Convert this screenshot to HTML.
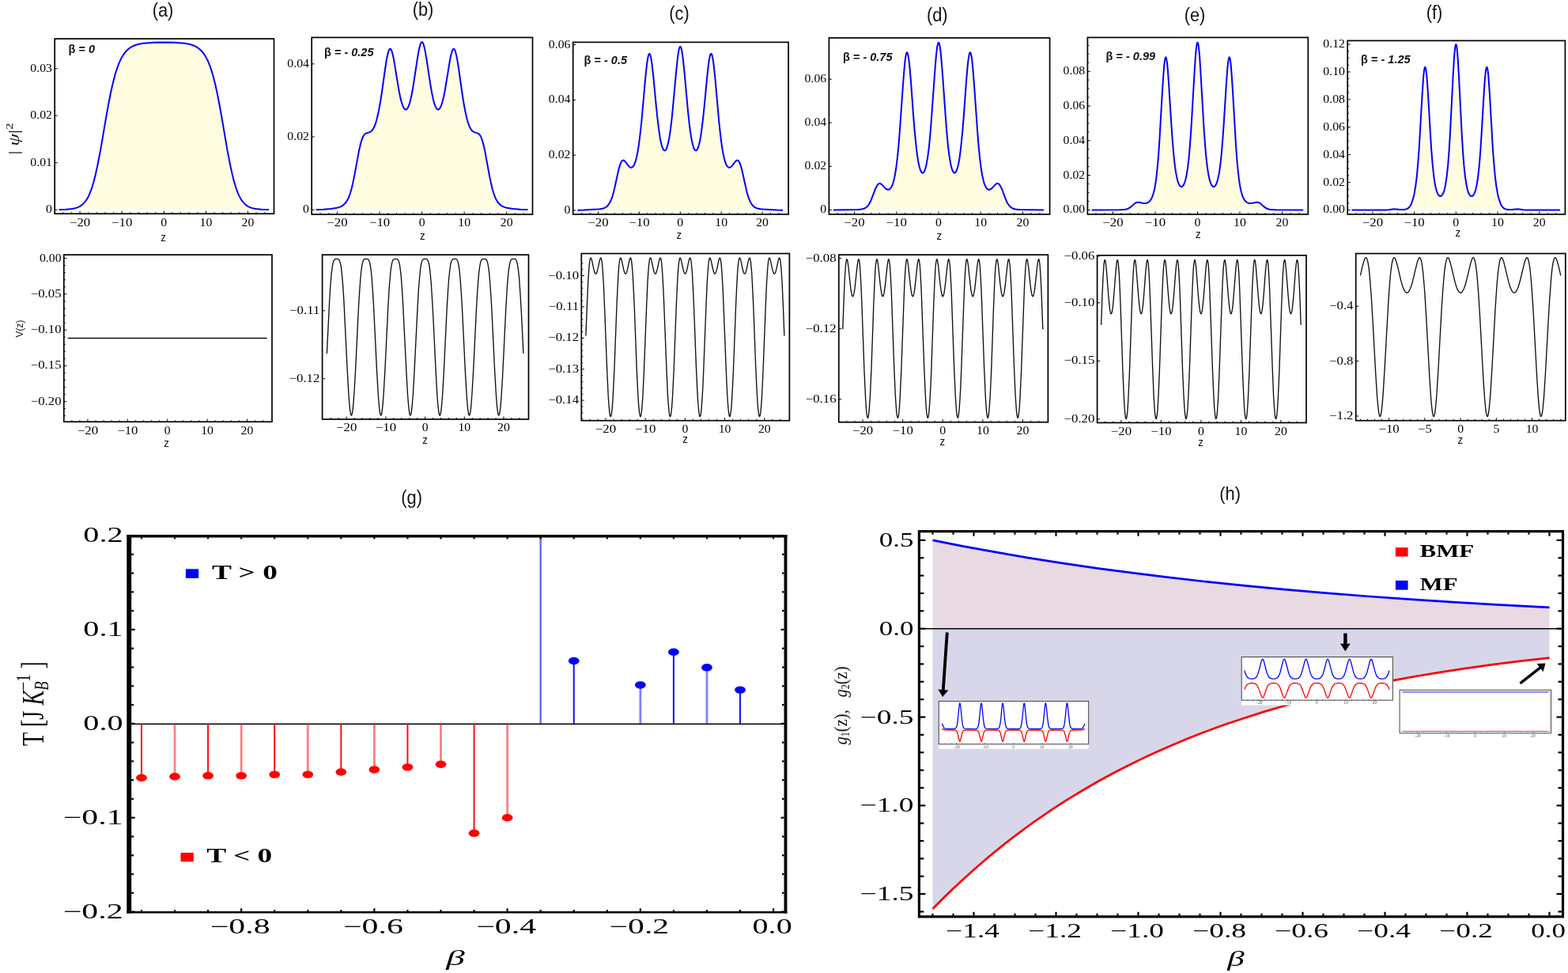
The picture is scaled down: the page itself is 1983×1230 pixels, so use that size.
<!DOCTYPE html>
<html><head><meta charset="utf-8"><title>Figure</title>
<style>html,body{margin:0;padding:0;background:#fff;overflow:hidden;width:1983px;height:1230px;}svg{display:block;}</style></head>
<body><svg width="1983" height="1230" viewBox="0 0 1983 1230">
<rect width="1983" height="1230" fill="#fff"/>
<path d="M74.6 265.1 L84.1 264.7 L90.9 264.1 L93.7 263.5 L96.2 262.9 L98.4 262.1 L100.6 261.1 L102.6 259.8 L104.4 258.4 L106.1 256.7 L107.9 254.7 L109.5 252.4 L110.9 249.9 L112.4 247.1 L113.8 243.8 L116.2 237.3 L118.5 229.9 L120.7 221.1 L123.1 210.3 L127.3 188.7 L134.3 147.7 L137.1 132.2 L140.0 117.3 L142.7 105.4 L145.7 93.8 L148.8 84.4 L150.4 80.2 L151.9 76.6 L153.7 73.1 L155.4 70.2 L157.1 67.6 L158.8 65.5 L160.7 63.5 L162.7 61.7 L164.8 60.1 L167.1 58.8 L169.5 57.7 L172.1 56.7 L174.8 55.9 L177.8 55.3 L181.1 54.8 L185.0 54.4 L194.2 53.8 L207.3 53.6 L220.4 53.8 L229.6 54.4 L233.5 54.8 L236.8 55.3 L239.8 55.9 L242.5 56.7 L245.1 57.7 L247.5 58.8 L249.8 60.1 L251.9 61.7 L253.9 63.5 L255.8 65.5 L257.5 67.6 L259.2 70.2 L260.9 73.1 L262.7 76.6 L264.2 80.2 L265.8 84.4 L268.9 93.8 L271.9 105.4 L274.6 117.3 L277.5 132.2 L280.3 147.7 L287.3 188.7 L291.5 210.3 L293.9 221.1 L296.1 229.9 L298.4 237.3 L300.8 243.8 L302.2 247.1 L303.7 249.9 L305.1 252.4 L306.7 254.7 L308.5 256.7 L310.2 258.4 L312.0 259.8 L314.0 261.1 L316.2 262.1 L318.4 262.9 L320.9 263.5 L323.7 264.1 L330.5 264.7 L340.1 265.1 L340.05 265.20 L74.55 265.20 Z" fill="#fffde0" stroke="none"/>
<path d="M74.6 265.1 L84.1 264.7 L90.9 264.1 L93.7 263.5 L96.2 262.9 L98.4 262.1 L100.6 261.1 L102.6 259.8 L104.4 258.4 L106.1 256.7 L107.9 254.7 L109.5 252.4 L110.9 249.9 L112.4 247.1 L113.8 243.8 L116.2 237.3 L118.5 229.9 L120.7 221.1 L123.1 210.3 L127.3 188.7 L134.3 147.7 L137.1 132.2 L140.0 117.3 L142.7 105.4 L145.7 93.8 L148.8 84.4 L150.4 80.2 L151.9 76.6 L153.7 73.1 L155.4 70.2 L157.1 67.6 L158.8 65.5 L160.7 63.5 L162.7 61.7 L164.8 60.1 L167.1 58.8 L169.5 57.7 L172.1 56.7 L174.8 55.9 L177.8 55.3 L181.1 54.8 L185.0 54.4 L194.2 53.8 L207.3 53.6 L220.4 53.8 L229.6 54.4 L233.5 54.8 L236.8 55.3 L239.8 55.9 L242.5 56.7 L245.1 57.7 L247.5 58.8 L249.8 60.1 L251.9 61.7 L253.9 63.5 L255.8 65.5 L257.5 67.6 L259.2 70.2 L260.9 73.1 L262.7 76.6 L264.2 80.2 L265.8 84.4 L268.9 93.8 L271.9 105.4 L274.6 117.3 L277.5 132.2 L280.3 147.7 L287.3 188.7 L291.5 210.3 L293.9 221.1 L296.1 229.9 L298.4 237.3 L300.8 243.8 L302.2 247.1 L303.7 249.9 L305.1 252.4 L306.7 254.7 L308.5 256.7 L310.2 258.4 L312.0 259.8 L314.0 261.1 L316.2 262.1 L318.4 262.9 L320.9 263.5 L323.7 264.1 L330.5 264.7 L340.1 265.1" fill="none" stroke="#0000ff" stroke-width="2.0" stroke-linejoin="round"/>
<rect x="69.20" y="49.00" width="277.30" height="221.20" fill="none" stroke="#000" stroke-width="1.70"/>
<line x1="79.86" y1="270.20" x2="79.86" y2="268.20" stroke="#000" stroke-width="1.00"/>
<line x1="90.48" y1="270.20" x2="90.48" y2="268.20" stroke="#000" stroke-width="1.00"/>
<line x1="101.10" y1="270.20" x2="101.10" y2="266.70" stroke="#000" stroke-width="1.00"/>
<text transform="translate(101.10 285.50) scale(1.130 1)" font-family="'Liberation Serif','Times New Roman',serif" font-size="14.90" text-anchor="middle" font-weight="normal" font-style="normal" fill="#000">−20</text>
<line x1="111.72" y1="270.20" x2="111.72" y2="268.20" stroke="#000" stroke-width="1.00"/>
<line x1="122.34" y1="270.20" x2="122.34" y2="268.20" stroke="#000" stroke-width="1.00"/>
<line x1="132.96" y1="270.20" x2="132.96" y2="268.20" stroke="#000" stroke-width="1.00"/>
<line x1="143.58" y1="270.20" x2="143.58" y2="268.20" stroke="#000" stroke-width="1.00"/>
<line x1="154.20" y1="270.20" x2="154.20" y2="266.70" stroke="#000" stroke-width="1.00"/>
<text transform="translate(154.20 285.50) scale(1.130 1)" font-family="'Liberation Serif','Times New Roman',serif" font-size="14.90" text-anchor="middle" font-weight="normal" font-style="normal" fill="#000">−10</text>
<line x1="164.82" y1="270.20" x2="164.82" y2="268.20" stroke="#000" stroke-width="1.00"/>
<line x1="175.44" y1="270.20" x2="175.44" y2="268.20" stroke="#000" stroke-width="1.00"/>
<line x1="186.06" y1="270.20" x2="186.06" y2="268.20" stroke="#000" stroke-width="1.00"/>
<line x1="196.68" y1="270.20" x2="196.68" y2="268.20" stroke="#000" stroke-width="1.00"/>
<line x1="207.30" y1="270.20" x2="207.30" y2="266.70" stroke="#000" stroke-width="1.00"/>
<text transform="translate(207.30 285.50) scale(1.060 1)" font-family="'Liberation Serif','Times New Roman',serif" font-size="14.90" text-anchor="middle" font-weight="normal" font-style="normal" fill="#000">0</text>
<line x1="217.92" y1="270.20" x2="217.92" y2="268.20" stroke="#000" stroke-width="1.00"/>
<line x1="228.54" y1="270.20" x2="228.54" y2="268.20" stroke="#000" stroke-width="1.00"/>
<line x1="239.16" y1="270.20" x2="239.16" y2="268.20" stroke="#000" stroke-width="1.00"/>
<line x1="249.78" y1="270.20" x2="249.78" y2="268.20" stroke="#000" stroke-width="1.00"/>
<line x1="260.40" y1="270.20" x2="260.40" y2="266.70" stroke="#000" stroke-width="1.00"/>
<text transform="translate(260.40 285.50) scale(1.060 1)" font-family="'Liberation Serif','Times New Roman',serif" font-size="14.90" text-anchor="middle" font-weight="normal" font-style="normal" fill="#000">10</text>
<line x1="271.02" y1="270.20" x2="271.02" y2="268.20" stroke="#000" stroke-width="1.00"/>
<line x1="281.64" y1="270.20" x2="281.64" y2="268.20" stroke="#000" stroke-width="1.00"/>
<line x1="292.26" y1="270.20" x2="292.26" y2="268.20" stroke="#000" stroke-width="1.00"/>
<line x1="302.88" y1="270.20" x2="302.88" y2="268.20" stroke="#000" stroke-width="1.00"/>
<line x1="313.50" y1="270.20" x2="313.50" y2="266.70" stroke="#000" stroke-width="1.00"/>
<text transform="translate(313.50 285.50) scale(1.060 1)" font-family="'Liberation Serif','Times New Roman',serif" font-size="14.90" text-anchor="middle" font-weight="normal" font-style="normal" fill="#000">20</text>
<line x1="324.12" y1="270.20" x2="324.12" y2="268.20" stroke="#000" stroke-width="1.00"/>
<line x1="334.74" y1="270.20" x2="334.74" y2="268.20" stroke="#000" stroke-width="1.00"/>
<line x1="69.20" y1="265.20" x2="72.70" y2="265.20" stroke="#000" stroke-width="1.00"/>
<text transform="translate(66.00 269.20) scale(1.060 1)" font-family="'Liberation Serif','Times New Roman',serif" font-size="14.90" text-anchor="end" font-weight="normal" font-style="normal" fill="#000">0</text>
<line x1="69.20" y1="205.70" x2="72.70" y2="205.70" stroke="#000" stroke-width="1.00"/>
<text transform="translate(66.00 209.70) scale(1.060 1)" font-family="'Liberation Serif','Times New Roman',serif" font-size="14.90" text-anchor="end" font-weight="normal" font-style="normal" fill="#000">0.01</text>
<line x1="69.20" y1="146.20" x2="72.70" y2="146.20" stroke="#000" stroke-width="1.00"/>
<text transform="translate(66.00 150.20) scale(1.060 1)" font-family="'Liberation Serif','Times New Roman',serif" font-size="14.90" text-anchor="end" font-weight="normal" font-style="normal" fill="#000">0.02</text>
<line x1="69.20" y1="86.70" x2="72.70" y2="86.70" stroke="#000" stroke-width="1.00"/>
<text transform="translate(66.00 90.70) scale(1.060 1)" font-family="'Liberation Serif','Times New Roman',serif" font-size="14.90" text-anchor="end" font-weight="normal" font-style="normal" fill="#000">0.03</text>
<text transform="translate(206.60 305.10) scale(0.950 1)" font-family="'Liberation Sans',Arial,sans-serif" font-size="14.00" text-anchor="middle" font-weight="normal" font-style="normal" fill="#111">z</text>
<text x="86.50" y="67.30" font-family="'Liberation Sans',Arial,sans-serif" font-size="14.5" font-weight="bold" fill="#111">&#946; = <tspan font-style="italic">0</tspan></text>
<text transform="translate(206.00 20.50) scale(0.910 1)" font-family="'Liberation Sans',Arial,sans-serif" font-size="24.00" text-anchor="middle" font-weight="normal" font-style="normal" fill="#111">(a)</text>
<path d="M399.7 265.1 L409.0 264.8 L418.2 264.0 L424.6 263.1 L427.0 262.5 L429.2 261.9 L431.1 261.1 L432.8 260.1 L434.3 259.1 L435.7 257.8 L437.1 256.3 L438.3 254.6 L439.5 252.6 L440.6 250.4 L441.9 247.2 L443.2 243.2 L444.6 238.5 L445.8 233.6 L448.2 222.1 L454.1 190.1 L456.0 181.9 L457.7 176.2 L458.5 174.1 L459.4 172.2 L460.4 170.7 L461.4 169.5 L462.4 168.8 L463.3 168.4 L466.8 167.4 L468.3 166.7 L469.7 165.7 L471.1 164.2 L472.6 161.8 L473.9 158.9 L475.2 155.3 L476.4 151.2 L478.7 141.5 L481.0 129.0 L483.0 116.0 L487.3 85.5 L489.0 74.8 L490.0 70.0 L490.8 66.7 L491.6 64.2 L492.4 62.5 L492.9 61.9 L493.4 61.8 L494.0 62.0 L494.5 62.6 L495.6 65.0 L496.8 69.4 L497.9 74.5 L498.9 80.4 L504.4 113.8 L506.0 121.9 L507.6 128.5 L509.1 133.1 L510.6 136.3 L511.4 137.5 L512.0 138.1 L512.8 138.5 L513.5 138.4 L514.3 138.0 L515.1 137.2 L515.9 135.9 L516.6 134.5 L518.1 130.4 L519.5 124.8 L521.0 117.8 L522.6 108.8 L527.7 75.1 L529.6 64.2 L530.7 59.3 L531.7 55.7 L532.7 53.8 L533.2 53.3 L533.6 53.2 L534.0 53.3 L534.5 53.8 L535.5 55.7 L536.5 59.3 L537.6 64.2 L539.5 75.1 L544.6 108.8 L546.2 117.8 L547.7 124.8 L549.1 130.4 L550.6 134.5 L551.3 135.9 L552.1 137.2 L552.9 138.0 L553.7 138.4 L554.4 138.5 L555.2 138.1 L555.8 137.5 L556.6 136.3 L558.1 133.1 L559.6 128.5 L561.2 121.9 L562.8 113.8 L568.3 80.4 L569.3 74.5 L570.4 69.4 L571.6 65.0 L572.7 62.6 L573.2 62.0 L573.8 61.8 L574.3 61.9 L574.8 62.5 L575.6 64.2 L576.4 66.7 L577.2 70.0 L578.2 74.8 L579.9 85.5 L584.2 116.0 L586.2 129.0 L588.5 141.5 L590.8 151.2 L592.0 155.3 L593.3 158.9 L594.6 161.8 L596.1 164.2 L597.5 165.7 L598.9 166.7 L600.4 167.4 L603.9 168.4 L604.8 168.8 L605.8 169.5 L606.8 170.7 L607.8 172.2 L608.7 174.1 L609.5 176.2 L611.2 181.9 L613.1 190.1 L619.0 222.1 L621.4 233.6 L622.6 238.5 L624.0 243.2 L625.3 247.2 L626.6 250.4 L627.7 252.6 L628.9 254.6 L630.1 256.3 L631.5 257.8 L632.9 259.1 L634.4 260.1 L636.1 261.1 L638.0 261.9 L640.2 262.5 L642.6 263.1 L649.0 264.0 L658.2 264.8 L667.5 265.1 L667.48 265.20 L399.73 265.20 Z" fill="#fffde0" stroke="none"/>
<path d="M399.7 265.1 L409.0 264.8 L418.2 264.0 L424.6 263.1 L427.0 262.5 L429.2 261.9 L431.1 261.1 L432.8 260.1 L434.3 259.1 L435.7 257.8 L437.1 256.3 L438.3 254.6 L439.5 252.6 L440.6 250.4 L441.9 247.2 L443.2 243.2 L444.6 238.5 L445.8 233.6 L448.2 222.1 L454.1 190.1 L456.0 181.9 L457.7 176.2 L458.5 174.1 L459.4 172.2 L460.4 170.7 L461.4 169.5 L462.4 168.8 L463.3 168.4 L466.8 167.4 L468.3 166.7 L469.7 165.7 L471.1 164.2 L472.6 161.8 L473.9 158.9 L475.2 155.3 L476.4 151.2 L478.7 141.5 L481.0 129.0 L483.0 116.0 L487.3 85.5 L489.0 74.8 L490.0 70.0 L490.8 66.7 L491.6 64.2 L492.4 62.5 L492.9 61.9 L493.4 61.8 L494.0 62.0 L494.5 62.6 L495.6 65.0 L496.8 69.4 L497.9 74.5 L498.9 80.4 L504.4 113.8 L506.0 121.9 L507.6 128.5 L509.1 133.1 L510.6 136.3 L511.4 137.5 L512.0 138.1 L512.8 138.5 L513.5 138.4 L514.3 138.0 L515.1 137.2 L515.9 135.9 L516.6 134.5 L518.1 130.4 L519.5 124.8 L521.0 117.8 L522.6 108.8 L527.7 75.1 L529.6 64.2 L530.7 59.3 L531.7 55.7 L532.7 53.8 L533.2 53.3 L533.6 53.2 L534.0 53.3 L534.5 53.8 L535.5 55.7 L536.5 59.3 L537.6 64.2 L539.5 75.1 L544.6 108.8 L546.2 117.8 L547.7 124.8 L549.1 130.4 L550.6 134.5 L551.3 135.9 L552.1 137.2 L552.9 138.0 L553.7 138.4 L554.4 138.5 L555.2 138.1 L555.8 137.5 L556.6 136.3 L558.1 133.1 L559.6 128.5 L561.2 121.9 L562.8 113.8 L568.3 80.4 L569.3 74.5 L570.4 69.4 L571.6 65.0 L572.7 62.6 L573.2 62.0 L573.8 61.8 L574.3 61.9 L574.8 62.5 L575.6 64.2 L576.4 66.7 L577.2 70.0 L578.2 74.8 L579.9 85.5 L584.2 116.0 L586.2 129.0 L588.5 141.5 L590.8 151.2 L592.0 155.3 L593.3 158.9 L594.6 161.8 L596.1 164.2 L597.5 165.7 L598.9 166.7 L600.4 167.4 L603.9 168.4 L604.8 168.8 L605.8 169.5 L606.8 170.7 L607.8 172.2 L608.7 174.1 L609.5 176.2 L611.2 181.9 L613.1 190.1 L619.0 222.1 L621.4 233.6 L622.6 238.5 L624.0 243.2 L625.3 247.2 L626.6 250.4 L627.7 252.6 L628.9 254.6 L630.1 256.3 L631.5 257.8 L632.9 259.1 L634.4 260.1 L636.1 261.1 L638.0 261.9 L640.2 262.5 L642.6 263.1 L649.0 264.0 L658.2 264.8 L667.5 265.1" fill="none" stroke="#0000ff" stroke-width="2.0" stroke-linejoin="round"/>
<rect x="394.20" y="47.40" width="279.30" height="223.60" fill="none" stroke="#000" stroke-width="1.70"/>
<line x1="405.08" y1="271.00" x2="405.08" y2="269.00" stroke="#000" stroke-width="1.00"/>
<line x1="415.79" y1="271.00" x2="415.79" y2="269.00" stroke="#000" stroke-width="1.00"/>
<line x1="426.50" y1="271.00" x2="426.50" y2="267.50" stroke="#000" stroke-width="1.00"/>
<text transform="translate(426.50 286.30) scale(1.130 1)" font-family="'Liberation Serif','Times New Roman',serif" font-size="14.90" text-anchor="middle" font-weight="normal" font-style="normal" fill="#000">−20</text>
<line x1="437.21" y1="271.00" x2="437.21" y2="269.00" stroke="#000" stroke-width="1.00"/>
<line x1="447.92" y1="271.00" x2="447.92" y2="269.00" stroke="#000" stroke-width="1.00"/>
<line x1="458.63" y1="271.00" x2="458.63" y2="269.00" stroke="#000" stroke-width="1.00"/>
<line x1="469.34" y1="271.00" x2="469.34" y2="269.00" stroke="#000" stroke-width="1.00"/>
<line x1="480.05" y1="271.00" x2="480.05" y2="267.50" stroke="#000" stroke-width="1.00"/>
<text transform="translate(480.05 286.30) scale(1.130 1)" font-family="'Liberation Serif','Times New Roman',serif" font-size="14.90" text-anchor="middle" font-weight="normal" font-style="normal" fill="#000">−10</text>
<line x1="490.76" y1="271.00" x2="490.76" y2="269.00" stroke="#000" stroke-width="1.00"/>
<line x1="501.47" y1="271.00" x2="501.47" y2="269.00" stroke="#000" stroke-width="1.00"/>
<line x1="512.18" y1="271.00" x2="512.18" y2="269.00" stroke="#000" stroke-width="1.00"/>
<line x1="522.89" y1="271.00" x2="522.89" y2="269.00" stroke="#000" stroke-width="1.00"/>
<line x1="533.60" y1="271.00" x2="533.60" y2="267.50" stroke="#000" stroke-width="1.00"/>
<text transform="translate(533.60 286.30) scale(1.060 1)" font-family="'Liberation Serif','Times New Roman',serif" font-size="14.90" text-anchor="middle" font-weight="normal" font-style="normal" fill="#000">0</text>
<line x1="544.31" y1="271.00" x2="544.31" y2="269.00" stroke="#000" stroke-width="1.00"/>
<line x1="555.02" y1="271.00" x2="555.02" y2="269.00" stroke="#000" stroke-width="1.00"/>
<line x1="565.73" y1="271.00" x2="565.73" y2="269.00" stroke="#000" stroke-width="1.00"/>
<line x1="576.44" y1="271.00" x2="576.44" y2="269.00" stroke="#000" stroke-width="1.00"/>
<line x1="587.15" y1="271.00" x2="587.15" y2="267.50" stroke="#000" stroke-width="1.00"/>
<text transform="translate(587.15 286.30) scale(1.060 1)" font-family="'Liberation Serif','Times New Roman',serif" font-size="14.90" text-anchor="middle" font-weight="normal" font-style="normal" fill="#000">10</text>
<line x1="597.86" y1="271.00" x2="597.86" y2="269.00" stroke="#000" stroke-width="1.00"/>
<line x1="608.57" y1="271.00" x2="608.57" y2="269.00" stroke="#000" stroke-width="1.00"/>
<line x1="619.28" y1="271.00" x2="619.28" y2="269.00" stroke="#000" stroke-width="1.00"/>
<line x1="629.99" y1="271.00" x2="629.99" y2="269.00" stroke="#000" stroke-width="1.00"/>
<line x1="640.70" y1="271.00" x2="640.70" y2="267.50" stroke="#000" stroke-width="1.00"/>
<text transform="translate(640.70 286.30) scale(1.060 1)" font-family="'Liberation Serif','Times New Roman',serif" font-size="14.90" text-anchor="middle" font-weight="normal" font-style="normal" fill="#000">20</text>
<line x1="651.41" y1="271.00" x2="651.41" y2="269.00" stroke="#000" stroke-width="1.00"/>
<line x1="662.12" y1="271.00" x2="662.12" y2="269.00" stroke="#000" stroke-width="1.00"/>
<line x1="394.20" y1="265.20" x2="397.70" y2="265.20" stroke="#000" stroke-width="1.00"/>
<text transform="translate(391.00 269.20) scale(1.060 1)" font-family="'Liberation Serif','Times New Roman',serif" font-size="14.90" text-anchor="end" font-weight="normal" font-style="normal" fill="#000">0</text>
<line x1="394.20" y1="173.00" x2="397.70" y2="173.00" stroke="#000" stroke-width="1.00"/>
<text transform="translate(391.00 177.00) scale(1.060 1)" font-family="'Liberation Serif','Times New Roman',serif" font-size="14.90" text-anchor="end" font-weight="normal" font-style="normal" fill="#000">0.02</text>
<line x1="394.20" y1="80.80" x2="397.70" y2="80.80" stroke="#000" stroke-width="1.00"/>
<text transform="translate(391.00 84.80) scale(1.060 1)" font-family="'Liberation Serif','Times New Roman',serif" font-size="14.90" text-anchor="end" font-weight="normal" font-style="normal" fill="#000">0.04</text>
<text transform="translate(534.40 302.70) scale(0.950 1)" font-family="'Liberation Sans',Arial,sans-serif" font-size="14.00" text-anchor="middle" font-weight="normal" font-style="normal" fill="#111">z</text>
<text x="410.00" y="71.20" font-family="'Liberation Sans',Arial,sans-serif" font-size="14.5" font-weight="bold" fill="#111">&#946; = <tspan font-style="italic">- 0.25</tspan></text>
<text transform="translate(535.00 20.00) scale(0.910 1)" font-family="'Liberation Sans',Arial,sans-serif" font-size="24.00" text-anchor="middle" font-weight="normal" font-style="normal" fill="#111">(b)</text>
<path d="M730.5 265.8 L738.2 265.6 L755.3 264.6 L758.8 264.3 L761.4 263.8 L763.6 263.2 L765.6 262.3 L767.3 261.2 L769.2 259.2 L771.0 256.5 L772.7 253.0 L774.3 248.8 L775.6 244.4 L777.0 238.8 L781.3 219.2 L782.7 213.2 L784.4 207.6 L785.2 205.7 L786.0 204.2 L786.7 203.3 L787.5 202.7 L788.4 202.6 L789.3 203.0 L790.1 203.6 L791.0 204.6 L794.0 208.6 L795.3 210.2 L796.6 211.3 L797.8 211.8 L798.9 211.7 L800.1 211.0 L801.3 209.6 L802.3 207.7 L803.9 203.4 L805.4 197.2 L807.0 188.9 L808.4 179.3 L809.8 167.7 L811.3 154.0 L815.9 101.8 L817.5 86.2 L818.4 78.8 L819.3 73.2 L820.2 69.5 L820.6 68.6 L821.0 68.0 L821.4 67.9 L821.9 68.4 L822.3 69.2 L822.8 70.9 L823.7 75.4 L824.6 81.7 L826.3 96.9 L829.8 133.7 L831.4 148.9 L833.1 162.9 L834.7 174.1 L835.6 178.8 L836.6 182.7 L837.5 185.8 L838.5 188.4 L839.4 189.7 L840.3 190.3 L840.8 190.3 L841.4 190.1 L842.3 189.1 L843.0 187.5 L843.7 185.8 L845.0 181.1 L846.4 173.9 L847.7 165.5 L849.0 155.2 L850.4 142.0 L855.1 90.8 L856.8 74.6 L857.7 67.8 L858.6 62.7 L859.5 59.7 L859.9 59.1 L860.3 58.9 L860.7 59.1 L861.1 59.7 L862.0 62.7 L862.9 67.8 L863.8 74.6 L865.5 90.8 L870.2 142.0 L871.6 155.2 L872.9 165.5 L874.2 173.9 L875.6 181.1 L876.9 185.8 L877.6 187.5 L878.3 189.1 L879.2 190.1 L879.8 190.3 L880.3 190.3 L881.2 189.7 L882.1 188.4 L883.1 185.8 L884.0 182.7 L885.0 178.8 L885.9 174.1 L887.5 162.9 L889.2 148.9 L890.8 133.7 L894.3 96.9 L896.0 81.7 L896.9 75.4 L897.8 70.9 L898.3 69.2 L898.7 68.4 L899.2 67.9 L899.6 68.0 L900.0 68.6 L900.4 69.5 L901.3 73.2 L902.2 78.8 L903.1 86.2 L904.7 101.8 L909.3 154.0 L910.8 167.7 L912.2 179.3 L913.6 188.9 L915.2 197.2 L916.7 203.4 L918.3 207.7 L919.3 209.6 L920.5 211.0 L921.7 211.7 L922.8 211.8 L924.0 211.3 L925.3 210.2 L926.6 208.6 L929.6 204.6 L930.5 203.6 L931.3 203.0 L932.2 202.6 L933.1 202.7 L933.9 203.3 L934.6 204.2 L935.4 205.7 L936.2 207.6 L937.9 213.2 L939.3 219.2 L943.6 238.8 L945.0 244.4 L946.3 248.8 L947.9 253.0 L949.6 256.5 L951.4 259.2 L953.3 261.2 L955.0 262.3 L957.0 263.2 L959.2 263.8 L961.8 264.3 L965.3 264.6 L982.4 265.6 L990.0 265.8 L990.05 265.90 L730.55 265.90 Z" fill="#fffde0" stroke="none"/>
<path d="M730.5 265.8 L738.2 265.6 L755.3 264.6 L758.8 264.3 L761.4 263.8 L763.6 263.2 L765.6 262.3 L767.3 261.2 L769.2 259.2 L771.0 256.5 L772.7 253.0 L774.3 248.8 L775.6 244.4 L777.0 238.8 L781.3 219.2 L782.7 213.2 L784.4 207.6 L785.2 205.7 L786.0 204.2 L786.7 203.3 L787.5 202.7 L788.4 202.6 L789.3 203.0 L790.1 203.6 L791.0 204.6 L794.0 208.6 L795.3 210.2 L796.6 211.3 L797.8 211.8 L798.9 211.7 L800.1 211.0 L801.3 209.6 L802.3 207.7 L803.9 203.4 L805.4 197.2 L807.0 188.9 L808.4 179.3 L809.8 167.7 L811.3 154.0 L815.9 101.8 L817.5 86.2 L818.4 78.8 L819.3 73.2 L820.2 69.5 L820.6 68.6 L821.0 68.0 L821.4 67.9 L821.9 68.4 L822.3 69.2 L822.8 70.9 L823.7 75.4 L824.6 81.7 L826.3 96.9 L829.8 133.7 L831.4 148.9 L833.1 162.9 L834.7 174.1 L835.6 178.8 L836.6 182.7 L837.5 185.8 L838.5 188.4 L839.4 189.7 L840.3 190.3 L840.8 190.3 L841.4 190.1 L842.3 189.1 L843.0 187.5 L843.7 185.8 L845.0 181.1 L846.4 173.9 L847.7 165.5 L849.0 155.2 L850.4 142.0 L855.1 90.8 L856.8 74.6 L857.7 67.8 L858.6 62.7 L859.5 59.7 L859.9 59.1 L860.3 58.9 L860.7 59.1 L861.1 59.7 L862.0 62.7 L862.9 67.8 L863.8 74.6 L865.5 90.8 L870.2 142.0 L871.6 155.2 L872.9 165.5 L874.2 173.9 L875.6 181.1 L876.9 185.8 L877.6 187.5 L878.3 189.1 L879.2 190.1 L879.8 190.3 L880.3 190.3 L881.2 189.7 L882.1 188.4 L883.1 185.8 L884.0 182.7 L885.0 178.8 L885.9 174.1 L887.5 162.9 L889.2 148.9 L890.8 133.7 L894.3 96.9 L896.0 81.7 L896.9 75.4 L897.8 70.9 L898.3 69.2 L898.7 68.4 L899.2 67.9 L899.6 68.0 L900.0 68.6 L900.4 69.5 L901.3 73.2 L902.2 78.8 L903.1 86.2 L904.7 101.8 L909.3 154.0 L910.8 167.7 L912.2 179.3 L913.6 188.9 L915.2 197.2 L916.7 203.4 L918.3 207.7 L919.3 209.6 L920.5 211.0 L921.7 211.7 L922.8 211.8 L924.0 211.3 L925.3 210.2 L926.6 208.6 L929.6 204.6 L930.5 203.6 L931.3 203.0 L932.2 202.6 L933.1 202.7 L933.9 203.3 L934.6 204.2 L935.4 205.7 L936.2 207.6 L937.9 213.2 L939.3 219.2 L943.6 238.8 L945.0 244.4 L946.3 248.8 L947.9 253.0 L949.6 256.5 L951.4 259.2 L953.3 261.2 L955.0 262.3 L957.0 263.2 L959.2 263.8 L961.8 264.3 L965.3 264.6 L982.4 265.6 L990.0 265.8" fill="none" stroke="#0000ff" stroke-width="2.0" stroke-linejoin="round"/>
<rect x="724.70" y="53.40" width="272.40" height="217.50" fill="none" stroke="#000" stroke-width="1.70"/>
<line x1="735.74" y1="270.90" x2="735.74" y2="268.90" stroke="#000" stroke-width="1.00"/>
<line x1="746.12" y1="270.90" x2="746.12" y2="268.90" stroke="#000" stroke-width="1.00"/>
<line x1="756.50" y1="270.90" x2="756.50" y2="267.40" stroke="#000" stroke-width="1.00"/>
<text transform="translate(756.50 286.20) scale(1.130 1)" font-family="'Liberation Serif','Times New Roman',serif" font-size="14.90" text-anchor="middle" font-weight="normal" font-style="normal" fill="#000">−20</text>
<line x1="766.88" y1="270.90" x2="766.88" y2="268.90" stroke="#000" stroke-width="1.00"/>
<line x1="777.26" y1="270.90" x2="777.26" y2="268.90" stroke="#000" stroke-width="1.00"/>
<line x1="787.64" y1="270.90" x2="787.64" y2="268.90" stroke="#000" stroke-width="1.00"/>
<line x1="798.02" y1="270.90" x2="798.02" y2="268.90" stroke="#000" stroke-width="1.00"/>
<line x1="808.40" y1="270.90" x2="808.40" y2="267.40" stroke="#000" stroke-width="1.00"/>
<text transform="translate(808.40 286.20) scale(1.130 1)" font-family="'Liberation Serif','Times New Roman',serif" font-size="14.90" text-anchor="middle" font-weight="normal" font-style="normal" fill="#000">−10</text>
<line x1="818.78" y1="270.90" x2="818.78" y2="268.90" stroke="#000" stroke-width="1.00"/>
<line x1="829.16" y1="270.90" x2="829.16" y2="268.90" stroke="#000" stroke-width="1.00"/>
<line x1="839.54" y1="270.90" x2="839.54" y2="268.90" stroke="#000" stroke-width="1.00"/>
<line x1="849.92" y1="270.90" x2="849.92" y2="268.90" stroke="#000" stroke-width="1.00"/>
<line x1="860.30" y1="270.90" x2="860.30" y2="267.40" stroke="#000" stroke-width="1.00"/>
<text transform="translate(860.30 286.20) scale(1.060 1)" font-family="'Liberation Serif','Times New Roman',serif" font-size="14.90" text-anchor="middle" font-weight="normal" font-style="normal" fill="#000">0</text>
<line x1="870.68" y1="270.90" x2="870.68" y2="268.90" stroke="#000" stroke-width="1.00"/>
<line x1="881.06" y1="270.90" x2="881.06" y2="268.90" stroke="#000" stroke-width="1.00"/>
<line x1="891.44" y1="270.90" x2="891.44" y2="268.90" stroke="#000" stroke-width="1.00"/>
<line x1="901.82" y1="270.90" x2="901.82" y2="268.90" stroke="#000" stroke-width="1.00"/>
<line x1="912.20" y1="270.90" x2="912.20" y2="267.40" stroke="#000" stroke-width="1.00"/>
<text transform="translate(912.20 286.20) scale(1.060 1)" font-family="'Liberation Serif','Times New Roman',serif" font-size="14.90" text-anchor="middle" font-weight="normal" font-style="normal" fill="#000">10</text>
<line x1="922.58" y1="270.90" x2="922.58" y2="268.90" stroke="#000" stroke-width="1.00"/>
<line x1="932.96" y1="270.90" x2="932.96" y2="268.90" stroke="#000" stroke-width="1.00"/>
<line x1="943.34" y1="270.90" x2="943.34" y2="268.90" stroke="#000" stroke-width="1.00"/>
<line x1="953.72" y1="270.90" x2="953.72" y2="268.90" stroke="#000" stroke-width="1.00"/>
<line x1="964.10" y1="270.90" x2="964.10" y2="267.40" stroke="#000" stroke-width="1.00"/>
<text transform="translate(964.10 286.20) scale(1.060 1)" font-family="'Liberation Serif','Times New Roman',serif" font-size="14.90" text-anchor="middle" font-weight="normal" font-style="normal" fill="#000">20</text>
<line x1="974.48" y1="270.90" x2="974.48" y2="268.90" stroke="#000" stroke-width="1.00"/>
<line x1="984.86" y1="270.90" x2="984.86" y2="268.90" stroke="#000" stroke-width="1.00"/>
<line x1="724.70" y1="265.90" x2="728.20" y2="265.90" stroke="#000" stroke-width="1.00"/>
<text transform="translate(721.50 269.90) scale(1.060 1)" font-family="'Liberation Serif','Times New Roman',serif" font-size="14.90" text-anchor="end" font-weight="normal" font-style="normal" fill="#000">0</text>
<line x1="724.70" y1="196.10" x2="728.20" y2="196.10" stroke="#000" stroke-width="1.00"/>
<text transform="translate(721.50 200.10) scale(1.060 1)" font-family="'Liberation Serif','Times New Roman',serif" font-size="14.90" text-anchor="end" font-weight="normal" font-style="normal" fill="#000">0.02</text>
<line x1="724.70" y1="126.30" x2="728.20" y2="126.30" stroke="#000" stroke-width="1.00"/>
<text transform="translate(721.50 130.30) scale(1.060 1)" font-family="'Liberation Serif','Times New Roman',serif" font-size="14.90" text-anchor="end" font-weight="normal" font-style="normal" fill="#000">0.04</text>
<line x1="724.70" y1="56.50" x2="728.20" y2="56.50" stroke="#000" stroke-width="1.00"/>
<text transform="translate(721.50 60.50) scale(1.060 1)" font-family="'Liberation Serif','Times New Roman',serif" font-size="14.90" text-anchor="end" font-weight="normal" font-style="normal" fill="#000">0.06</text>
<text transform="translate(858.70 301.80) scale(0.950 1)" font-family="'Liberation Sans',Arial,sans-serif" font-size="14.00" text-anchor="middle" font-weight="normal" font-style="normal" fill="#111">z</text>
<text x="738.60" y="81.00" font-family="'Liberation Sans',Arial,sans-serif" font-size="14.5" font-weight="bold" fill="#111">&#946; = <tspan font-style="italic">- 0.5</tspan></text>
<text transform="translate(859.00 25.00) scale(0.910 1)" font-family="'Liberation Sans',Arial,sans-serif" font-size="24.00" text-anchor="middle" font-weight="normal" font-style="normal" fill="#111">(c)</text>
<path d="M1053.9 265.4 L1085.0 264.9 L1089.7 264.4 L1091.4 264.1 L1093.0 263.5 L1094.9 262.6 L1096.6 261.2 L1098.2 259.3 L1099.7 257.0 L1100.9 254.7 L1102.2 251.7 L1106.3 240.7 L1107.8 237.2 L1109.3 234.4 L1110.1 233.3 L1110.7 232.6 L1111.5 232.1 L1112.3 231.9 L1113.1 232.0 L1113.9 232.4 L1115.5 233.6 L1118.7 237.1 L1120.0 238.3 L1121.5 239.3 L1122.8 239.7 L1123.6 239.7 L1124.3 239.6 L1125.6 238.7 L1126.8 237.3 L1128.0 235.1 L1129.0 232.8 L1129.9 229.9 L1131.6 222.5 L1133.2 213.0 L1134.8 200.3 L1136.3 185.7 L1137.7 168.0 L1142.0 107.3 L1143.6 87.1 L1144.5 77.8 L1145.3 71.8 L1146.1 67.9 L1146.5 66.8 L1146.9 66.3 L1147.3 66.3 L1147.7 67.0 L1148.5 69.9 L1149.3 75.0 L1150.3 83.2 L1151.9 101.6 L1155.0 144.6 L1156.6 164.5 L1158.4 182.6 L1160.1 196.8 L1161.0 202.7 L1162.1 208.3 L1163.2 212.5 L1164.2 215.6 L1165.3 217.6 L1165.8 218.2 L1166.4 218.5 L1167.0 218.6 L1167.6 218.3 L1168.1 217.8 L1168.6 217.1 L1169.4 215.5 L1170.2 213.3 L1171.0 210.4 L1171.8 206.7 L1173.3 198.1 L1174.8 186.7 L1176.1 173.6 L1177.5 156.5 L1182.1 92.7 L1183.7 72.9 L1184.6 64.0 L1185.4 58.4 L1186.2 54.9 L1186.6 54.0 L1187.0 53.7 L1187.4 54.0 L1187.8 54.9 L1188.6 58.4 L1189.4 64.0 L1190.3 72.9 L1191.9 92.7 L1196.5 156.5 L1197.9 173.6 L1199.2 186.7 L1200.7 198.1 L1202.2 206.7 L1203.0 210.4 L1203.8 213.3 L1204.6 215.5 L1205.4 217.1 L1205.9 217.8 L1206.4 218.3 L1207.0 218.6 L1207.6 218.5 L1208.2 218.2 L1208.7 217.6 L1209.8 215.6 L1210.8 212.5 L1211.9 208.3 L1213.0 202.7 L1213.9 196.8 L1215.6 182.6 L1217.4 164.5 L1219.0 144.6 L1222.1 101.6 L1223.7 83.2 L1224.7 75.0 L1225.5 69.9 L1226.3 67.0 L1226.7 66.3 L1227.1 66.3 L1227.5 66.8 L1227.9 67.9 L1228.7 71.8 L1229.5 77.8 L1230.4 87.1 L1232.0 107.3 L1236.3 168.0 L1237.7 185.7 L1239.2 200.3 L1240.8 213.0 L1242.4 222.5 L1244.1 229.9 L1245.0 232.8 L1246.0 235.1 L1247.2 237.3 L1248.4 238.7 L1249.7 239.6 L1250.4 239.7 L1251.2 239.7 L1252.5 239.3 L1254.0 238.3 L1255.3 237.1 L1258.5 233.6 L1260.1 232.4 L1260.9 232.0 L1261.7 231.9 L1262.5 232.1 L1263.3 232.6 L1263.9 233.3 L1264.7 234.4 L1266.2 237.2 L1267.7 240.7 L1271.8 251.7 L1273.1 254.7 L1274.3 257.0 L1275.8 259.3 L1277.4 261.2 L1279.1 262.6 L1281.0 263.5 L1282.6 264.1 L1284.3 264.4 L1289.0 264.9 L1320.1 265.4 L1320.12 265.40 L1053.88 265.40 Z" fill="#fffde0" stroke="none"/>
<path d="M1053.9 265.4 L1085.0 264.9 L1089.7 264.4 L1091.4 264.1 L1093.0 263.5 L1094.9 262.6 L1096.6 261.2 L1098.2 259.3 L1099.7 257.0 L1100.9 254.7 L1102.2 251.7 L1106.3 240.7 L1107.8 237.2 L1109.3 234.4 L1110.1 233.3 L1110.7 232.6 L1111.5 232.1 L1112.3 231.9 L1113.1 232.0 L1113.9 232.4 L1115.5 233.6 L1118.7 237.1 L1120.0 238.3 L1121.5 239.3 L1122.8 239.7 L1123.6 239.7 L1124.3 239.6 L1125.6 238.7 L1126.8 237.3 L1128.0 235.1 L1129.0 232.8 L1129.9 229.9 L1131.6 222.5 L1133.2 213.0 L1134.8 200.3 L1136.3 185.7 L1137.7 168.0 L1142.0 107.3 L1143.6 87.1 L1144.5 77.8 L1145.3 71.8 L1146.1 67.9 L1146.5 66.8 L1146.9 66.3 L1147.3 66.3 L1147.7 67.0 L1148.5 69.9 L1149.3 75.0 L1150.3 83.2 L1151.9 101.6 L1155.0 144.6 L1156.6 164.5 L1158.4 182.6 L1160.1 196.8 L1161.0 202.7 L1162.1 208.3 L1163.2 212.5 L1164.2 215.6 L1165.3 217.6 L1165.8 218.2 L1166.4 218.5 L1167.0 218.6 L1167.6 218.3 L1168.1 217.8 L1168.6 217.1 L1169.4 215.5 L1170.2 213.3 L1171.0 210.4 L1171.8 206.7 L1173.3 198.1 L1174.8 186.7 L1176.1 173.6 L1177.5 156.5 L1182.1 92.7 L1183.7 72.9 L1184.6 64.0 L1185.4 58.4 L1186.2 54.9 L1186.6 54.0 L1187.0 53.7 L1187.4 54.0 L1187.8 54.9 L1188.6 58.4 L1189.4 64.0 L1190.3 72.9 L1191.9 92.7 L1196.5 156.5 L1197.9 173.6 L1199.2 186.7 L1200.7 198.1 L1202.2 206.7 L1203.0 210.4 L1203.8 213.3 L1204.6 215.5 L1205.4 217.1 L1205.9 217.8 L1206.4 218.3 L1207.0 218.6 L1207.6 218.5 L1208.2 218.2 L1208.7 217.6 L1209.8 215.6 L1210.8 212.5 L1211.9 208.3 L1213.0 202.7 L1213.9 196.8 L1215.6 182.6 L1217.4 164.5 L1219.0 144.6 L1222.1 101.6 L1223.7 83.2 L1224.7 75.0 L1225.5 69.9 L1226.3 67.0 L1226.7 66.3 L1227.1 66.3 L1227.5 66.8 L1227.9 67.9 L1228.7 71.8 L1229.5 77.8 L1230.4 87.1 L1232.0 107.3 L1236.3 168.0 L1237.7 185.7 L1239.2 200.3 L1240.8 213.0 L1242.4 222.5 L1244.1 229.9 L1245.0 232.8 L1246.0 235.1 L1247.2 237.3 L1248.4 238.7 L1249.7 239.6 L1250.4 239.7 L1251.2 239.7 L1252.5 239.3 L1254.0 238.3 L1255.3 237.1 L1258.5 233.6 L1260.1 232.4 L1260.9 232.0 L1261.7 231.9 L1262.5 232.1 L1263.3 232.6 L1263.9 233.3 L1264.7 234.4 L1266.2 237.2 L1267.7 240.7 L1271.8 251.7 L1273.1 254.7 L1274.3 257.0 L1275.8 259.3 L1277.4 261.2 L1279.1 262.6 L1281.0 263.5 L1282.6 264.1 L1284.3 264.4 L1289.0 264.9 L1320.1 265.4" fill="none" stroke="#0000ff" stroke-width="2.0" stroke-linejoin="round"/>
<rect x="1048.40" y="47.90" width="279.20" height="223.00" fill="none" stroke="#000" stroke-width="1.70"/>
<line x1="1059.20" y1="270.90" x2="1059.20" y2="268.90" stroke="#000" stroke-width="1.00"/>
<line x1="1069.85" y1="270.90" x2="1069.85" y2="268.90" stroke="#000" stroke-width="1.00"/>
<line x1="1080.50" y1="270.90" x2="1080.50" y2="267.40" stroke="#000" stroke-width="1.00"/>
<text transform="translate(1080.50 286.20) scale(1.130 1)" font-family="'Liberation Serif','Times New Roman',serif" font-size="14.90" text-anchor="middle" font-weight="normal" font-style="normal" fill="#000">−20</text>
<line x1="1091.15" y1="270.90" x2="1091.15" y2="268.90" stroke="#000" stroke-width="1.00"/>
<line x1="1101.80" y1="270.90" x2="1101.80" y2="268.90" stroke="#000" stroke-width="1.00"/>
<line x1="1112.45" y1="270.90" x2="1112.45" y2="268.90" stroke="#000" stroke-width="1.00"/>
<line x1="1123.10" y1="270.90" x2="1123.10" y2="268.90" stroke="#000" stroke-width="1.00"/>
<line x1="1133.75" y1="270.90" x2="1133.75" y2="267.40" stroke="#000" stroke-width="1.00"/>
<text transform="translate(1133.75 286.20) scale(1.130 1)" font-family="'Liberation Serif','Times New Roman',serif" font-size="14.90" text-anchor="middle" font-weight="normal" font-style="normal" fill="#000">−10</text>
<line x1="1144.40" y1="270.90" x2="1144.40" y2="268.90" stroke="#000" stroke-width="1.00"/>
<line x1="1155.05" y1="270.90" x2="1155.05" y2="268.90" stroke="#000" stroke-width="1.00"/>
<line x1="1165.70" y1="270.90" x2="1165.70" y2="268.90" stroke="#000" stroke-width="1.00"/>
<line x1="1176.35" y1="270.90" x2="1176.35" y2="268.90" stroke="#000" stroke-width="1.00"/>
<line x1="1187.00" y1="270.90" x2="1187.00" y2="267.40" stroke="#000" stroke-width="1.00"/>
<text transform="translate(1187.00 286.20) scale(1.060 1)" font-family="'Liberation Serif','Times New Roman',serif" font-size="14.90" text-anchor="middle" font-weight="normal" font-style="normal" fill="#000">0</text>
<line x1="1197.65" y1="270.90" x2="1197.65" y2="268.90" stroke="#000" stroke-width="1.00"/>
<line x1="1208.30" y1="270.90" x2="1208.30" y2="268.90" stroke="#000" stroke-width="1.00"/>
<line x1="1218.95" y1="270.90" x2="1218.95" y2="268.90" stroke="#000" stroke-width="1.00"/>
<line x1="1229.60" y1="270.90" x2="1229.60" y2="268.90" stroke="#000" stroke-width="1.00"/>
<line x1="1240.25" y1="270.90" x2="1240.25" y2="267.40" stroke="#000" stroke-width="1.00"/>
<text transform="translate(1240.25 286.20) scale(1.060 1)" font-family="'Liberation Serif','Times New Roman',serif" font-size="14.90" text-anchor="middle" font-weight="normal" font-style="normal" fill="#000">10</text>
<line x1="1250.90" y1="270.90" x2="1250.90" y2="268.90" stroke="#000" stroke-width="1.00"/>
<line x1="1261.55" y1="270.90" x2="1261.55" y2="268.90" stroke="#000" stroke-width="1.00"/>
<line x1="1272.20" y1="270.90" x2="1272.20" y2="268.90" stroke="#000" stroke-width="1.00"/>
<line x1="1282.85" y1="270.90" x2="1282.85" y2="268.90" stroke="#000" stroke-width="1.00"/>
<line x1="1293.50" y1="270.90" x2="1293.50" y2="267.40" stroke="#000" stroke-width="1.00"/>
<text transform="translate(1293.50 286.20) scale(1.060 1)" font-family="'Liberation Serif','Times New Roman',serif" font-size="14.90" text-anchor="middle" font-weight="normal" font-style="normal" fill="#000">20</text>
<line x1="1304.15" y1="270.90" x2="1304.15" y2="268.90" stroke="#000" stroke-width="1.00"/>
<line x1="1314.80" y1="270.90" x2="1314.80" y2="268.90" stroke="#000" stroke-width="1.00"/>
<line x1="1048.40" y1="265.40" x2="1051.90" y2="265.40" stroke="#000" stroke-width="1.00"/>
<text transform="translate(1045.20 269.40) scale(1.060 1)" font-family="'Liberation Serif','Times New Roman',serif" font-size="14.90" text-anchor="end" font-weight="normal" font-style="normal" fill="#000">0</text>
<line x1="1048.40" y1="210.30" x2="1051.90" y2="210.30" stroke="#000" stroke-width="1.00"/>
<text transform="translate(1045.20 214.30) scale(1.060 1)" font-family="'Liberation Serif','Times New Roman',serif" font-size="14.90" text-anchor="end" font-weight="normal" font-style="normal" fill="#000">0.02</text>
<line x1="1048.40" y1="155.20" x2="1051.90" y2="155.20" stroke="#000" stroke-width="1.00"/>
<text transform="translate(1045.20 159.20) scale(1.060 1)" font-family="'Liberation Serif','Times New Roman',serif" font-size="14.90" text-anchor="end" font-weight="normal" font-style="normal" fill="#000">0.04</text>
<line x1="1048.40" y1="100.10" x2="1051.90" y2="100.10" stroke="#000" stroke-width="1.00"/>
<text transform="translate(1045.20 104.10) scale(1.060 1)" font-family="'Liberation Serif','Times New Roman',serif" font-size="14.90" text-anchor="end" font-weight="normal" font-style="normal" fill="#000">0.06</text>
<text transform="translate(1187.70 302.70) scale(0.950 1)" font-family="'Liberation Sans',Arial,sans-serif" font-size="14.00" text-anchor="middle" font-weight="normal" font-style="normal" fill="#111">z</text>
<text x="1066.00" y="76.80" font-family="'Liberation Sans',Arial,sans-serif" font-size="14.5" font-weight="bold" fill="#111">&#946; = <tspan font-style="italic">- 0.75</tspan></text>
<text transform="translate(1185.30 27.00) scale(0.910 1)" font-family="'Liberation Sans',Arial,sans-serif" font-size="24.00" text-anchor="middle" font-weight="normal" font-style="normal" fill="#111">(d)</text>
<path d="M1380.8 265.4 L1415.3 265.3 L1420.2 265.1 L1423.5 264.7 L1426.1 264.0 L1428.2 262.9 L1430.2 261.4 L1434.8 257.4 L1436.1 256.5 L1437.5 256.0 L1438.8 255.7 L1440.3 255.8 L1445.1 256.8 L1447.2 257.1 L1449.2 257.0 L1451.0 256.4 L1452.6 255.5 L1454.0 254.2 L1455.4 252.4 L1456.6 250.2 L1457.7 247.6 L1458.7 244.3 L1459.7 240.7 L1460.5 236.8 L1462.1 226.8 L1463.5 214.0 L1464.9 198.9 L1466.2 180.3 L1470.2 111.4 L1471.6 91.3 L1472.2 83.4 L1472.9 77.5 L1473.6 73.7 L1474.0 72.6 L1474.2 72.3 L1474.5 72.4 L1474.8 72.9 L1475.4 75.7 L1476.1 80.7 L1476.8 87.5 L1478.1 105.6 L1481.2 154.9 L1482.7 176.1 L1484.4 196.5 L1486.1 211.7 L1487.2 218.7 L1488.3 224.2 L1489.5 229.0 L1490.8 232.6 L1491.5 233.9 L1492.2 234.9 L1492.8 235.6 L1493.6 236.0 L1494.4 236.1 L1495.1 235.8 L1495.9 235.1 L1496.6 234.2 L1497.6 232.1 L1498.6 229.6 L1499.5 226.2 L1500.5 221.8 L1502.1 211.8 L1503.7 197.8 L1505.0 182.6 L1506.5 161.8 L1510.4 94.7 L1511.7 74.1 L1512.5 64.5 L1513.2 58.6 L1513.8 55.0 L1514.2 53.9 L1514.5 53.7 L1514.8 53.9 L1515.2 55.0 L1515.8 58.6 L1516.5 64.5 L1517.3 74.1 L1518.6 94.7 L1522.5 161.8 L1524.0 182.6 L1525.3 197.8 L1526.9 211.8 L1528.5 221.8 L1529.5 226.2 L1530.4 229.6 L1531.4 232.1 L1532.4 234.2 L1533.1 235.1 L1533.9 235.8 L1534.6 236.1 L1535.4 236.0 L1536.2 235.6 L1536.8 234.9 L1537.5 233.9 L1538.2 232.6 L1539.5 229.0 L1540.7 224.2 L1541.8 218.7 L1542.9 211.7 L1544.6 196.5 L1546.3 176.1 L1547.8 154.9 L1550.9 105.6 L1552.2 87.5 L1552.9 80.7 L1553.6 75.7 L1554.2 72.9 L1554.5 72.4 L1554.8 72.3 L1555.0 72.6 L1555.4 73.7 L1556.1 77.5 L1556.8 83.4 L1557.4 91.3 L1558.8 111.4 L1562.8 180.3 L1564.1 198.9 L1565.5 214.0 L1566.9 226.8 L1568.5 236.8 L1569.3 240.7 L1570.3 244.3 L1571.3 247.6 L1572.4 250.2 L1573.6 252.4 L1575.0 254.2 L1576.4 255.5 L1578.0 256.4 L1579.8 257.0 L1581.8 257.1 L1583.9 256.8 L1588.7 255.8 L1590.2 255.7 L1591.5 256.0 L1592.9 256.5 L1594.2 257.4 L1598.8 261.4 L1600.8 262.9 L1602.9 264.0 L1605.5 264.7 L1608.8 265.1 L1613.7 265.3 L1648.2 265.4 L1648.25 265.40 L1380.75 265.40 Z" fill="#fffde0" stroke="none"/>
<path d="M1380.8 265.4 L1415.3 265.3 L1420.2 265.1 L1423.5 264.7 L1426.1 264.0 L1428.2 262.9 L1430.2 261.4 L1434.8 257.4 L1436.1 256.5 L1437.5 256.0 L1438.8 255.7 L1440.3 255.8 L1445.1 256.8 L1447.2 257.1 L1449.2 257.0 L1451.0 256.4 L1452.6 255.5 L1454.0 254.2 L1455.4 252.4 L1456.6 250.2 L1457.7 247.6 L1458.7 244.3 L1459.7 240.7 L1460.5 236.8 L1462.1 226.8 L1463.5 214.0 L1464.9 198.9 L1466.2 180.3 L1470.2 111.4 L1471.6 91.3 L1472.2 83.4 L1472.9 77.5 L1473.6 73.7 L1474.0 72.6 L1474.2 72.3 L1474.5 72.4 L1474.8 72.9 L1475.4 75.7 L1476.1 80.7 L1476.8 87.5 L1478.1 105.6 L1481.2 154.9 L1482.7 176.1 L1484.4 196.5 L1486.1 211.7 L1487.2 218.7 L1488.3 224.2 L1489.5 229.0 L1490.8 232.6 L1491.5 233.9 L1492.2 234.9 L1492.8 235.6 L1493.6 236.0 L1494.4 236.1 L1495.1 235.8 L1495.9 235.1 L1496.6 234.2 L1497.6 232.1 L1498.6 229.6 L1499.5 226.2 L1500.5 221.8 L1502.1 211.8 L1503.7 197.8 L1505.0 182.6 L1506.5 161.8 L1510.4 94.7 L1511.7 74.1 L1512.5 64.5 L1513.2 58.6 L1513.8 55.0 L1514.2 53.9 L1514.5 53.7 L1514.8 53.9 L1515.2 55.0 L1515.8 58.6 L1516.5 64.5 L1517.3 74.1 L1518.6 94.7 L1522.5 161.8 L1524.0 182.6 L1525.3 197.8 L1526.9 211.8 L1528.5 221.8 L1529.5 226.2 L1530.4 229.6 L1531.4 232.1 L1532.4 234.2 L1533.1 235.1 L1533.9 235.8 L1534.6 236.1 L1535.4 236.0 L1536.2 235.6 L1536.8 234.9 L1537.5 233.9 L1538.2 232.6 L1539.5 229.0 L1540.7 224.2 L1541.8 218.7 L1542.9 211.7 L1544.6 196.5 L1546.3 176.1 L1547.8 154.9 L1550.9 105.6 L1552.2 87.5 L1552.9 80.7 L1553.6 75.7 L1554.2 72.9 L1554.5 72.4 L1554.8 72.3 L1555.0 72.6 L1555.4 73.7 L1556.1 77.5 L1556.8 83.4 L1557.4 91.3 L1558.8 111.4 L1562.8 180.3 L1564.1 198.9 L1565.5 214.0 L1566.9 226.8 L1568.5 236.8 L1569.3 240.7 L1570.3 244.3 L1571.3 247.6 L1572.4 250.2 L1573.6 252.4 L1575.0 254.2 L1576.4 255.5 L1578.0 256.4 L1579.8 257.0 L1581.8 257.1 L1583.9 256.8 L1588.7 255.8 L1590.2 255.7 L1591.5 256.0 L1592.9 256.5 L1594.2 257.4 L1598.8 261.4 L1600.8 262.9 L1602.9 264.0 L1605.5 264.7 L1608.8 265.1 L1613.7 265.3 L1648.2 265.4" fill="none" stroke="#0000ff" stroke-width="2.0" stroke-linejoin="round"/>
<rect x="1375.40" y="47.40" width="278.90" height="223.50" fill="none" stroke="#000" stroke-width="1.70"/>
<line x1="1386.10" y1="270.90" x2="1386.10" y2="268.90" stroke="#000" stroke-width="1.00"/>
<line x1="1396.80" y1="270.90" x2="1396.80" y2="268.90" stroke="#000" stroke-width="1.00"/>
<line x1="1407.50" y1="270.90" x2="1407.50" y2="267.40" stroke="#000" stroke-width="1.00"/>
<text transform="translate(1407.50 286.20) scale(1.130 1)" font-family="'Liberation Serif','Times New Roman',serif" font-size="14.90" text-anchor="middle" font-weight="normal" font-style="normal" fill="#000">−20</text>
<line x1="1418.20" y1="270.90" x2="1418.20" y2="268.90" stroke="#000" stroke-width="1.00"/>
<line x1="1428.90" y1="270.90" x2="1428.90" y2="268.90" stroke="#000" stroke-width="1.00"/>
<line x1="1439.60" y1="270.90" x2="1439.60" y2="268.90" stroke="#000" stroke-width="1.00"/>
<line x1="1450.30" y1="270.90" x2="1450.30" y2="268.90" stroke="#000" stroke-width="1.00"/>
<line x1="1461.00" y1="270.90" x2="1461.00" y2="267.40" stroke="#000" stroke-width="1.00"/>
<text transform="translate(1461.00 286.20) scale(1.130 1)" font-family="'Liberation Serif','Times New Roman',serif" font-size="14.90" text-anchor="middle" font-weight="normal" font-style="normal" fill="#000">−10</text>
<line x1="1471.70" y1="270.90" x2="1471.70" y2="268.90" stroke="#000" stroke-width="1.00"/>
<line x1="1482.40" y1="270.90" x2="1482.40" y2="268.90" stroke="#000" stroke-width="1.00"/>
<line x1="1493.10" y1="270.90" x2="1493.10" y2="268.90" stroke="#000" stroke-width="1.00"/>
<line x1="1503.80" y1="270.90" x2="1503.80" y2="268.90" stroke="#000" stroke-width="1.00"/>
<line x1="1514.50" y1="270.90" x2="1514.50" y2="267.40" stroke="#000" stroke-width="1.00"/>
<text transform="translate(1514.50 286.20) scale(1.060 1)" font-family="'Liberation Serif','Times New Roman',serif" font-size="14.90" text-anchor="middle" font-weight="normal" font-style="normal" fill="#000">0</text>
<line x1="1525.20" y1="270.90" x2="1525.20" y2="268.90" stroke="#000" stroke-width="1.00"/>
<line x1="1535.90" y1="270.90" x2="1535.90" y2="268.90" stroke="#000" stroke-width="1.00"/>
<line x1="1546.60" y1="270.90" x2="1546.60" y2="268.90" stroke="#000" stroke-width="1.00"/>
<line x1="1557.30" y1="270.90" x2="1557.30" y2="268.90" stroke="#000" stroke-width="1.00"/>
<line x1="1568.00" y1="270.90" x2="1568.00" y2="267.40" stroke="#000" stroke-width="1.00"/>
<text transform="translate(1568.00 286.20) scale(1.060 1)" font-family="'Liberation Serif','Times New Roman',serif" font-size="14.90" text-anchor="middle" font-weight="normal" font-style="normal" fill="#000">10</text>
<line x1="1578.70" y1="270.90" x2="1578.70" y2="268.90" stroke="#000" stroke-width="1.00"/>
<line x1="1589.40" y1="270.90" x2="1589.40" y2="268.90" stroke="#000" stroke-width="1.00"/>
<line x1="1600.10" y1="270.90" x2="1600.10" y2="268.90" stroke="#000" stroke-width="1.00"/>
<line x1="1610.80" y1="270.90" x2="1610.80" y2="268.90" stroke="#000" stroke-width="1.00"/>
<line x1="1621.50" y1="270.90" x2="1621.50" y2="267.40" stroke="#000" stroke-width="1.00"/>
<text transform="translate(1621.50 286.20) scale(1.060 1)" font-family="'Liberation Serif','Times New Roman',serif" font-size="14.90" text-anchor="middle" font-weight="normal" font-style="normal" fill="#000">20</text>
<line x1="1632.20" y1="270.90" x2="1632.20" y2="268.90" stroke="#000" stroke-width="1.00"/>
<line x1="1642.90" y1="270.90" x2="1642.90" y2="268.90" stroke="#000" stroke-width="1.00"/>
<line x1="1375.40" y1="265.40" x2="1378.90" y2="265.40" stroke="#000" stroke-width="1.00"/>
<text transform="translate(1372.20 269.40) scale(1.060 1)" font-family="'Liberation Serif','Times New Roman',serif" font-size="14.90" text-anchor="end" font-weight="normal" font-style="normal" fill="#000">0.00</text>
<line x1="1375.40" y1="221.60" x2="1378.90" y2="221.60" stroke="#000" stroke-width="1.00"/>
<text transform="translate(1372.20 225.60) scale(1.060 1)" font-family="'Liberation Serif','Times New Roman',serif" font-size="14.90" text-anchor="end" font-weight="normal" font-style="normal" fill="#000">0.02</text>
<line x1="1375.40" y1="177.80" x2="1378.90" y2="177.80" stroke="#000" stroke-width="1.00"/>
<text transform="translate(1372.20 181.80) scale(1.060 1)" font-family="'Liberation Serif','Times New Roman',serif" font-size="14.90" text-anchor="end" font-weight="normal" font-style="normal" fill="#000">0.04</text>
<line x1="1375.40" y1="134.00" x2="1378.90" y2="134.00" stroke="#000" stroke-width="1.00"/>
<text transform="translate(1372.20 138.00) scale(1.060 1)" font-family="'Liberation Serif','Times New Roman',serif" font-size="14.90" text-anchor="end" font-weight="normal" font-style="normal" fill="#000">0.06</text>
<line x1="1375.40" y1="90.20" x2="1378.90" y2="90.20" stroke="#000" stroke-width="1.00"/>
<text transform="translate(1372.20 94.20) scale(1.060 1)" font-family="'Liberation Serif','Times New Roman',serif" font-size="14.90" text-anchor="end" font-weight="normal" font-style="normal" fill="#000">0.08</text>
<line x1="1375.40" y1="254.45" x2="1377.40" y2="254.45" stroke="#000" stroke-width="1.00"/>
<line x1="1375.40" y1="243.50" x2="1377.40" y2="243.50" stroke="#000" stroke-width="1.00"/>
<line x1="1375.40" y1="232.55" x2="1377.40" y2="232.55" stroke="#000" stroke-width="1.00"/>
<line x1="1375.40" y1="210.65" x2="1377.40" y2="210.65" stroke="#000" stroke-width="1.00"/>
<line x1="1375.40" y1="199.70" x2="1377.40" y2="199.70" stroke="#000" stroke-width="1.00"/>
<line x1="1375.40" y1="188.75" x2="1377.40" y2="188.75" stroke="#000" stroke-width="1.00"/>
<line x1="1375.40" y1="166.85" x2="1377.40" y2="166.85" stroke="#000" stroke-width="1.00"/>
<line x1="1375.40" y1="155.90" x2="1377.40" y2="155.90" stroke="#000" stroke-width="1.00"/>
<line x1="1375.40" y1="144.95" x2="1377.40" y2="144.95" stroke="#000" stroke-width="1.00"/>
<line x1="1375.40" y1="123.05" x2="1377.40" y2="123.05" stroke="#000" stroke-width="1.00"/>
<line x1="1375.40" y1="112.10" x2="1377.40" y2="112.10" stroke="#000" stroke-width="1.00"/>
<line x1="1375.40" y1="101.15" x2="1377.40" y2="101.15" stroke="#000" stroke-width="1.00"/>
<line x1="1375.40" y1="79.25" x2="1377.40" y2="79.25" stroke="#000" stroke-width="1.00"/>
<line x1="1375.40" y1="68.30" x2="1377.40" y2="68.30" stroke="#000" stroke-width="1.00"/>
<line x1="1375.40" y1="57.35" x2="1377.40" y2="57.35" stroke="#000" stroke-width="1.00"/>
<text transform="translate(1515.40 300.70) scale(0.950 1)" font-family="'Liberation Sans',Arial,sans-serif" font-size="14.00" text-anchor="middle" font-weight="normal" font-style="normal" fill="#111">z</text>
<text x="1398.60" y="76.00" font-family="'Liberation Sans',Arial,sans-serif" font-size="14.5" font-weight="bold" fill="#111">&#946; = <tspan font-style="italic">- 0.99</tspan></text>
<text transform="translate(1511.00 27.00) scale(0.910 1)" font-family="'Liberation Sans',Arial,sans-serif" font-size="24.00" text-anchor="middle" font-weight="normal" font-style="normal" fill="#111">(e)</text>
<path d="M1709.5 265.4 L1752.4 265.4 L1756.1 265.2 L1761.2 264.4 L1763.3 264.3 L1765.3 264.4 L1770.7 265.0 L1772.8 265.1 L1775.0 265.0 L1778.2 264.4 L1779.5 264.0 L1780.6 263.4 L1781.6 262.5 L1782.5 261.5 L1783.5 260.2 L1784.3 258.8 L1785.4 256.1 L1786.6 252.7 L1787.7 248.9 L1788.6 244.9 L1790.3 235.0 L1791.9 222.1 L1793.3 206.1 L1794.7 187.7 L1798.5 121.7 L1799.7 103.6 L1800.3 95.7 L1801.0 89.7 L1801.6 86.0 L1802.0 85.0 L1802.3 84.8 L1802.6 85.0 L1802.8 85.6 L1803.5 88.8 L1804.0 93.0 L1804.7 100.1 L1806.0 118.9 L1808.9 168.4 L1810.3 190.5 L1811.9 209.8 L1813.6 225.1 L1814.7 232.0 L1815.7 237.2 L1816.9 241.6 L1818.2 244.9 L1818.9 246.1 L1819.7 247.1 L1820.5 247.7 L1821.3 248.0 L1822.1 248.0 L1822.9 247.6 L1823.6 246.8 L1824.3 245.9 L1825.4 243.8 L1826.3 241.3 L1827.2 237.8 L1828.1 233.4 L1829.7 222.8 L1831.2 208.9 L1832.5 192.1 L1833.8 171.1 L1837.5 98.5 L1838.8 75.9 L1839.5 67.2 L1840.1 60.8 L1840.8 57.1 L1841.0 56.4 L1841.3 56.2 L1841.6 56.4 L1841.8 57.1 L1842.5 60.8 L1843.1 67.2 L1843.8 75.9 L1845.1 98.5 L1848.8 171.1 L1850.1 192.1 L1851.4 208.9 L1852.9 222.8 L1854.5 233.4 L1855.4 237.8 L1856.3 241.3 L1857.2 243.8 L1858.3 245.9 L1859.0 246.8 L1859.7 247.6 L1860.5 248.0 L1861.3 248.0 L1862.1 247.7 L1862.9 247.1 L1863.7 246.1 L1864.4 244.9 L1865.7 241.6 L1866.9 237.2 L1867.9 232.0 L1869.0 225.1 L1870.7 209.8 L1872.3 190.5 L1873.7 168.4 L1876.6 118.9 L1877.9 100.1 L1878.6 93.0 L1879.1 88.8 L1879.8 85.6 L1880.0 85.0 L1880.3 84.8 L1880.6 85.0 L1881.0 86.0 L1881.6 89.7 L1882.3 95.7 L1882.9 103.6 L1884.1 121.7 L1887.9 187.7 L1889.3 206.1 L1890.7 222.1 L1892.3 235.0 L1894.0 244.9 L1894.9 248.9 L1896.0 252.7 L1897.2 256.1 L1898.3 258.8 L1899.1 260.2 L1900.1 261.5 L1901.0 262.5 L1902.0 263.4 L1903.1 264.0 L1904.4 264.4 L1907.6 265.0 L1909.8 265.1 L1911.9 265.0 L1917.3 264.4 L1919.3 264.3 L1921.4 264.4 L1926.5 265.2 L1930.2 265.4 L1973.0 265.4 L1973.05 265.40 L1709.55 265.40 Z" fill="#fffde0" stroke="none"/>
<path d="M1709.5 265.4 L1752.4 265.4 L1756.1 265.2 L1761.2 264.4 L1763.3 264.3 L1765.3 264.4 L1770.7 265.0 L1772.8 265.1 L1775.0 265.0 L1778.2 264.4 L1779.5 264.0 L1780.6 263.4 L1781.6 262.5 L1782.5 261.5 L1783.5 260.2 L1784.3 258.8 L1785.4 256.1 L1786.6 252.7 L1787.7 248.9 L1788.6 244.9 L1790.3 235.0 L1791.9 222.1 L1793.3 206.1 L1794.7 187.7 L1798.5 121.7 L1799.7 103.6 L1800.3 95.7 L1801.0 89.7 L1801.6 86.0 L1802.0 85.0 L1802.3 84.8 L1802.6 85.0 L1802.8 85.6 L1803.5 88.8 L1804.0 93.0 L1804.7 100.1 L1806.0 118.9 L1808.9 168.4 L1810.3 190.5 L1811.9 209.8 L1813.6 225.1 L1814.7 232.0 L1815.7 237.2 L1816.9 241.6 L1818.2 244.9 L1818.9 246.1 L1819.7 247.1 L1820.5 247.7 L1821.3 248.0 L1822.1 248.0 L1822.9 247.6 L1823.6 246.8 L1824.3 245.9 L1825.4 243.8 L1826.3 241.3 L1827.2 237.8 L1828.1 233.4 L1829.7 222.8 L1831.2 208.9 L1832.5 192.1 L1833.8 171.1 L1837.5 98.5 L1838.8 75.9 L1839.5 67.2 L1840.1 60.8 L1840.8 57.1 L1841.0 56.4 L1841.3 56.2 L1841.6 56.4 L1841.8 57.1 L1842.5 60.8 L1843.1 67.2 L1843.8 75.9 L1845.1 98.5 L1848.8 171.1 L1850.1 192.1 L1851.4 208.9 L1852.9 222.8 L1854.5 233.4 L1855.4 237.8 L1856.3 241.3 L1857.2 243.8 L1858.3 245.9 L1859.0 246.8 L1859.7 247.6 L1860.5 248.0 L1861.3 248.0 L1862.1 247.7 L1862.9 247.1 L1863.7 246.1 L1864.4 244.9 L1865.7 241.6 L1866.9 237.2 L1867.9 232.0 L1869.0 225.1 L1870.7 209.8 L1872.3 190.5 L1873.7 168.4 L1876.6 118.9 L1877.9 100.1 L1878.6 93.0 L1879.1 88.8 L1879.8 85.6 L1880.0 85.0 L1880.3 84.8 L1880.6 85.0 L1881.0 86.0 L1881.6 89.7 L1882.3 95.7 L1882.9 103.6 L1884.1 121.7 L1887.9 187.7 L1889.3 206.1 L1890.7 222.1 L1892.3 235.0 L1894.0 244.9 L1894.9 248.9 L1896.0 252.7 L1897.2 256.1 L1898.3 258.8 L1899.1 260.2 L1900.1 261.5 L1901.0 262.5 L1902.0 263.4 L1903.1 264.0 L1904.4 264.4 L1907.6 265.0 L1909.8 265.1 L1911.9 265.0 L1917.3 264.4 L1919.3 264.3 L1921.4 264.4 L1926.5 265.2 L1930.2 265.4 L1973.0 265.4" fill="none" stroke="#0000ff" stroke-width="2.0" stroke-linejoin="round"/>
<rect x="1704.20" y="51.40" width="275.20" height="219.50" fill="none" stroke="#000" stroke-width="1.70"/>
<line x1="1714.82" y1="270.90" x2="1714.82" y2="268.90" stroke="#000" stroke-width="1.00"/>
<line x1="1725.36" y1="270.90" x2="1725.36" y2="268.90" stroke="#000" stroke-width="1.00"/>
<line x1="1735.90" y1="270.90" x2="1735.90" y2="267.40" stroke="#000" stroke-width="1.00"/>
<text transform="translate(1735.90 286.20) scale(1.130 1)" font-family="'Liberation Serif','Times New Roman',serif" font-size="14.90" text-anchor="middle" font-weight="normal" font-style="normal" fill="#000">−20</text>
<line x1="1746.44" y1="270.90" x2="1746.44" y2="268.90" stroke="#000" stroke-width="1.00"/>
<line x1="1756.98" y1="270.90" x2="1756.98" y2="268.90" stroke="#000" stroke-width="1.00"/>
<line x1="1767.52" y1="270.90" x2="1767.52" y2="268.90" stroke="#000" stroke-width="1.00"/>
<line x1="1778.06" y1="270.90" x2="1778.06" y2="268.90" stroke="#000" stroke-width="1.00"/>
<line x1="1788.60" y1="270.90" x2="1788.60" y2="267.40" stroke="#000" stroke-width="1.00"/>
<text transform="translate(1788.60 286.20) scale(1.130 1)" font-family="'Liberation Serif','Times New Roman',serif" font-size="14.90" text-anchor="middle" font-weight="normal" font-style="normal" fill="#000">−10</text>
<line x1="1799.14" y1="270.90" x2="1799.14" y2="268.90" stroke="#000" stroke-width="1.00"/>
<line x1="1809.68" y1="270.90" x2="1809.68" y2="268.90" stroke="#000" stroke-width="1.00"/>
<line x1="1820.22" y1="270.90" x2="1820.22" y2="268.90" stroke="#000" stroke-width="1.00"/>
<line x1="1830.76" y1="270.90" x2="1830.76" y2="268.90" stroke="#000" stroke-width="1.00"/>
<line x1="1841.30" y1="270.90" x2="1841.30" y2="267.40" stroke="#000" stroke-width="1.00"/>
<text transform="translate(1841.30 286.20) scale(1.060 1)" font-family="'Liberation Serif','Times New Roman',serif" font-size="14.90" text-anchor="middle" font-weight="normal" font-style="normal" fill="#000">0</text>
<line x1="1851.84" y1="270.90" x2="1851.84" y2="268.90" stroke="#000" stroke-width="1.00"/>
<line x1="1862.38" y1="270.90" x2="1862.38" y2="268.90" stroke="#000" stroke-width="1.00"/>
<line x1="1872.92" y1="270.90" x2="1872.92" y2="268.90" stroke="#000" stroke-width="1.00"/>
<line x1="1883.46" y1="270.90" x2="1883.46" y2="268.90" stroke="#000" stroke-width="1.00"/>
<line x1="1894.00" y1="270.90" x2="1894.00" y2="267.40" stroke="#000" stroke-width="1.00"/>
<text transform="translate(1894.00 286.20) scale(1.060 1)" font-family="'Liberation Serif','Times New Roman',serif" font-size="14.90" text-anchor="middle" font-weight="normal" font-style="normal" fill="#000">10</text>
<line x1="1904.54" y1="270.90" x2="1904.54" y2="268.90" stroke="#000" stroke-width="1.00"/>
<line x1="1915.08" y1="270.90" x2="1915.08" y2="268.90" stroke="#000" stroke-width="1.00"/>
<line x1="1925.62" y1="270.90" x2="1925.62" y2="268.90" stroke="#000" stroke-width="1.00"/>
<line x1="1936.16" y1="270.90" x2="1936.16" y2="268.90" stroke="#000" stroke-width="1.00"/>
<line x1="1946.70" y1="270.90" x2="1946.70" y2="267.40" stroke="#000" stroke-width="1.00"/>
<text transform="translate(1946.70 286.20) scale(1.060 1)" font-family="'Liberation Serif','Times New Roman',serif" font-size="14.90" text-anchor="middle" font-weight="normal" font-style="normal" fill="#000">20</text>
<line x1="1957.24" y1="270.90" x2="1957.24" y2="268.90" stroke="#000" stroke-width="1.00"/>
<line x1="1967.78" y1="270.90" x2="1967.78" y2="268.90" stroke="#000" stroke-width="1.00"/>
<line x1="1704.20" y1="265.40" x2="1707.70" y2="265.40" stroke="#000" stroke-width="1.00"/>
<text transform="translate(1701.00 269.40) scale(1.060 1)" font-family="'Liberation Serif','Times New Roman',serif" font-size="14.90" text-anchor="end" font-weight="normal" font-style="normal" fill="#000">0.00</text>
<line x1="1704.20" y1="230.50" x2="1707.70" y2="230.50" stroke="#000" stroke-width="1.00"/>
<text transform="translate(1701.00 234.50) scale(1.060 1)" font-family="'Liberation Serif','Times New Roman',serif" font-size="14.90" text-anchor="end" font-weight="normal" font-style="normal" fill="#000">0.02</text>
<line x1="1704.20" y1="195.60" x2="1707.70" y2="195.60" stroke="#000" stroke-width="1.00"/>
<text transform="translate(1701.00 199.60) scale(1.060 1)" font-family="'Liberation Serif','Times New Roman',serif" font-size="14.90" text-anchor="end" font-weight="normal" font-style="normal" fill="#000">0.04</text>
<line x1="1704.20" y1="160.70" x2="1707.70" y2="160.70" stroke="#000" stroke-width="1.00"/>
<text transform="translate(1701.00 164.70) scale(1.060 1)" font-family="'Liberation Serif','Times New Roman',serif" font-size="14.90" text-anchor="end" font-weight="normal" font-style="normal" fill="#000">0.06</text>
<line x1="1704.20" y1="125.80" x2="1707.70" y2="125.80" stroke="#000" stroke-width="1.00"/>
<text transform="translate(1701.00 129.80) scale(1.060 1)" font-family="'Liberation Serif','Times New Roman',serif" font-size="14.90" text-anchor="end" font-weight="normal" font-style="normal" fill="#000">0.08</text>
<line x1="1704.20" y1="90.90" x2="1707.70" y2="90.90" stroke="#000" stroke-width="1.00"/>
<text transform="translate(1701.00 94.90) scale(1.060 1)" font-family="'Liberation Serif','Times New Roman',serif" font-size="14.90" text-anchor="end" font-weight="normal" font-style="normal" fill="#000">0.10</text>
<line x1="1704.20" y1="56.00" x2="1707.70" y2="56.00" stroke="#000" stroke-width="1.00"/>
<text transform="translate(1701.00 60.00) scale(1.060 1)" font-family="'Liberation Serif','Times New Roman',serif" font-size="14.90" text-anchor="end" font-weight="normal" font-style="normal" fill="#000">0.12</text>
<line x1="1704.20" y1="256.67" x2="1706.20" y2="256.67" stroke="#000" stroke-width="1.00"/>
<line x1="1704.20" y1="247.95" x2="1706.20" y2="247.95" stroke="#000" stroke-width="1.00"/>
<line x1="1704.20" y1="239.22" x2="1706.20" y2="239.22" stroke="#000" stroke-width="1.00"/>
<line x1="1704.20" y1="221.77" x2="1706.20" y2="221.77" stroke="#000" stroke-width="1.00"/>
<line x1="1704.20" y1="213.05" x2="1706.20" y2="213.05" stroke="#000" stroke-width="1.00"/>
<line x1="1704.20" y1="204.32" x2="1706.20" y2="204.32" stroke="#000" stroke-width="1.00"/>
<line x1="1704.20" y1="186.88" x2="1706.20" y2="186.88" stroke="#000" stroke-width="1.00"/>
<line x1="1704.20" y1="178.15" x2="1706.20" y2="178.15" stroke="#000" stroke-width="1.00"/>
<line x1="1704.20" y1="169.42" x2="1706.20" y2="169.42" stroke="#000" stroke-width="1.00"/>
<line x1="1704.20" y1="151.97" x2="1706.20" y2="151.97" stroke="#000" stroke-width="1.00"/>
<line x1="1704.20" y1="143.25" x2="1706.20" y2="143.25" stroke="#000" stroke-width="1.00"/>
<line x1="1704.20" y1="134.52" x2="1706.20" y2="134.52" stroke="#000" stroke-width="1.00"/>
<line x1="1704.20" y1="117.07" x2="1706.20" y2="117.07" stroke="#000" stroke-width="1.00"/>
<line x1="1704.20" y1="108.35" x2="1706.20" y2="108.35" stroke="#000" stroke-width="1.00"/>
<line x1="1704.20" y1="99.62" x2="1706.20" y2="99.62" stroke="#000" stroke-width="1.00"/>
<line x1="1704.20" y1="82.17" x2="1706.20" y2="82.17" stroke="#000" stroke-width="1.00"/>
<line x1="1704.20" y1="73.45" x2="1706.20" y2="73.45" stroke="#000" stroke-width="1.00"/>
<line x1="1704.20" y1="64.72" x2="1706.20" y2="64.72" stroke="#000" stroke-width="1.00"/>
<text transform="translate(1843.70 299.40) scale(0.950 1)" font-family="'Liberation Sans',Arial,sans-serif" font-size="14.00" text-anchor="middle" font-weight="normal" font-style="normal" fill="#111">z</text>
<text x="1721.10" y="80.00" font-family="'Liberation Sans',Arial,sans-serif" font-size="14.5" font-weight="bold" fill="#111">&#946; = <tspan font-style="italic">- 1.25</tspan></text>
<text transform="translate(1814.00 24.30) scale(0.910 1)" font-family="'Liberation Sans',Arial,sans-serif" font-size="24.00" text-anchor="middle" font-weight="normal" font-style="normal" fill="#111">(f)</text>
<text transform="translate(24 195.6) rotate(-90) scale(1.33 1)" font-family="'Liberation Serif','Times New Roman',serif" font-size="18.7" fill="#111">| <tspan font-style="italic">&#968;</tspan>|<tspan dy="-8" font-size="13">2</tspan></text>
<path d="M85.7 427.5 L337.7 427.5" fill="none" stroke="#111" stroke-width="1.35" stroke-linejoin="round"/>
<rect x="80.80" y="322.10" width="263.20" height="211.10" fill="none" stroke="#000" stroke-width="1.70"/>
<line x1="90.74" y1="533.20" x2="90.74" y2="531.20" stroke="#000" stroke-width="1.00"/>
<line x1="100.82" y1="533.20" x2="100.82" y2="531.20" stroke="#000" stroke-width="1.00"/>
<line x1="110.90" y1="533.20" x2="110.90" y2="529.70" stroke="#000" stroke-width="1.00"/>
<line x1="120.98" y1="533.20" x2="120.98" y2="531.20" stroke="#000" stroke-width="1.00"/>
<line x1="131.06" y1="533.20" x2="131.06" y2="531.20" stroke="#000" stroke-width="1.00"/>
<line x1="141.14" y1="533.20" x2="141.14" y2="531.20" stroke="#000" stroke-width="1.00"/>
<line x1="151.22" y1="533.20" x2="151.22" y2="531.20" stroke="#000" stroke-width="1.00"/>
<line x1="161.30" y1="533.20" x2="161.30" y2="529.70" stroke="#000" stroke-width="1.00"/>
<line x1="171.38" y1="533.20" x2="171.38" y2="531.20" stroke="#000" stroke-width="1.00"/>
<line x1="181.46" y1="533.20" x2="181.46" y2="531.20" stroke="#000" stroke-width="1.00"/>
<line x1="191.54" y1="533.20" x2="191.54" y2="531.20" stroke="#000" stroke-width="1.00"/>
<line x1="201.62" y1="533.20" x2="201.62" y2="531.20" stroke="#000" stroke-width="1.00"/>
<line x1="211.70" y1="533.20" x2="211.70" y2="529.70" stroke="#000" stroke-width="1.00"/>
<line x1="221.78" y1="533.20" x2="221.78" y2="531.20" stroke="#000" stroke-width="1.00"/>
<line x1="231.86" y1="533.20" x2="231.86" y2="531.20" stroke="#000" stroke-width="1.00"/>
<line x1="241.94" y1="533.20" x2="241.94" y2="531.20" stroke="#000" stroke-width="1.00"/>
<line x1="252.02" y1="533.20" x2="252.02" y2="531.20" stroke="#000" stroke-width="1.00"/>
<line x1="262.10" y1="533.20" x2="262.10" y2="529.70" stroke="#000" stroke-width="1.00"/>
<line x1="272.18" y1="533.20" x2="272.18" y2="531.20" stroke="#000" stroke-width="1.00"/>
<line x1="282.26" y1="533.20" x2="282.26" y2="531.20" stroke="#000" stroke-width="1.00"/>
<line x1="292.34" y1="533.20" x2="292.34" y2="531.20" stroke="#000" stroke-width="1.00"/>
<line x1="302.42" y1="533.20" x2="302.42" y2="531.20" stroke="#000" stroke-width="1.00"/>
<line x1="312.50" y1="533.20" x2="312.50" y2="529.70" stroke="#000" stroke-width="1.00"/>
<line x1="322.58" y1="533.20" x2="322.58" y2="531.20" stroke="#000" stroke-width="1.00"/>
<line x1="332.66" y1="533.20" x2="332.66" y2="531.20" stroke="#000" stroke-width="1.00"/>
<text transform="translate(110.90 548.50) scale(1.130 1)" font-family="'Liberation Serif','Times New Roman',serif" font-size="14.90" text-anchor="middle" font-weight="normal" font-style="normal" fill="#000">−20</text>
<text transform="translate(161.30 548.50) scale(1.130 1)" font-family="'Liberation Serif','Times New Roman',serif" font-size="14.90" text-anchor="middle" font-weight="normal" font-style="normal" fill="#000">−10</text>
<text transform="translate(211.70 548.50) scale(1.060 1)" font-family="'Liberation Serif','Times New Roman',serif" font-size="14.90" text-anchor="middle" font-weight="normal" font-style="normal" fill="#000">0</text>
<text transform="translate(262.10 548.50) scale(1.060 1)" font-family="'Liberation Serif','Times New Roman',serif" font-size="14.90" text-anchor="middle" font-weight="normal" font-style="normal" fill="#000">10</text>
<text transform="translate(312.50 548.50) scale(1.060 1)" font-family="'Liberation Serif','Times New Roman',serif" font-size="14.90" text-anchor="middle" font-weight="normal" font-style="normal" fill="#000">20</text>
<line x1="80.80" y1="326.60" x2="84.30" y2="326.60" stroke="#000" stroke-width="1.00"/>
<text transform="translate(77.60 330.60) scale(1.060 1)" font-family="'Liberation Serif','Times New Roman',serif" font-size="14.90" text-anchor="end" font-weight="normal" font-style="normal" fill="#000">0.00</text>
<line x1="80.80" y1="371.85" x2="84.30" y2="371.85" stroke="#000" stroke-width="1.00"/>
<text transform="translate(77.60 375.85) scale(1.130 1)" font-family="'Liberation Serif','Times New Roman',serif" font-size="14.90" text-anchor="end" font-weight="normal" font-style="normal" fill="#000">−0.05</text>
<line x1="80.80" y1="417.10" x2="84.30" y2="417.10" stroke="#000" stroke-width="1.00"/>
<text transform="translate(77.60 421.10) scale(1.130 1)" font-family="'Liberation Serif','Times New Roman',serif" font-size="14.90" text-anchor="end" font-weight="normal" font-style="normal" fill="#000">−0.10</text>
<line x1="80.80" y1="462.35" x2="84.30" y2="462.35" stroke="#000" stroke-width="1.00"/>
<text transform="translate(77.60 466.35) scale(1.130 1)" font-family="'Liberation Serif','Times New Roman',serif" font-size="14.90" text-anchor="end" font-weight="normal" font-style="normal" fill="#000">−0.15</text>
<line x1="80.80" y1="507.60" x2="84.30" y2="507.60" stroke="#000" stroke-width="1.00"/>
<text transform="translate(77.60 511.60) scale(1.130 1)" font-family="'Liberation Serif','Times New Roman',serif" font-size="14.90" text-anchor="end" font-weight="normal" font-style="normal" fill="#000">−0.20</text>
<line x1="80.80" y1="335.65" x2="82.80" y2="335.65" stroke="#000" stroke-width="1.00"/>
<line x1="80.80" y1="344.70" x2="82.80" y2="344.70" stroke="#000" stroke-width="1.00"/>
<line x1="80.80" y1="353.75" x2="82.80" y2="353.75" stroke="#000" stroke-width="1.00"/>
<line x1="80.80" y1="362.80" x2="82.80" y2="362.80" stroke="#000" stroke-width="1.00"/>
<line x1="80.80" y1="380.90" x2="82.80" y2="380.90" stroke="#000" stroke-width="1.00"/>
<line x1="80.80" y1="389.95" x2="82.80" y2="389.95" stroke="#000" stroke-width="1.00"/>
<line x1="80.80" y1="399.00" x2="82.80" y2="399.00" stroke="#000" stroke-width="1.00"/>
<line x1="80.80" y1="408.05" x2="82.80" y2="408.05" stroke="#000" stroke-width="1.00"/>
<line x1="80.80" y1="426.15" x2="82.80" y2="426.15" stroke="#000" stroke-width="1.00"/>
<line x1="80.80" y1="435.20" x2="82.80" y2="435.20" stroke="#000" stroke-width="1.00"/>
<line x1="80.80" y1="444.25" x2="82.80" y2="444.25" stroke="#000" stroke-width="1.00"/>
<line x1="80.80" y1="453.30" x2="82.80" y2="453.30" stroke="#000" stroke-width="1.00"/>
<line x1="80.80" y1="471.40" x2="82.80" y2="471.40" stroke="#000" stroke-width="1.00"/>
<line x1="80.80" y1="480.45" x2="82.80" y2="480.45" stroke="#000" stroke-width="1.00"/>
<line x1="80.80" y1="489.50" x2="82.80" y2="489.50" stroke="#000" stroke-width="1.00"/>
<line x1="80.80" y1="498.55" x2="82.80" y2="498.55" stroke="#000" stroke-width="1.00"/>
<line x1="80.80" y1="516.65" x2="82.80" y2="516.65" stroke="#000" stroke-width="1.00"/>
<line x1="80.80" y1="525.70" x2="82.80" y2="525.70" stroke="#000" stroke-width="1.00"/>
<text transform="translate(210.60 564.80) scale(0.950 1)" font-family="'Liberation Sans',Arial,sans-serif" font-size="14.00" text-anchor="middle" font-weight="normal" font-style="normal" fill="#111">z</text>
<path d="M413.4 446.9 L416.7 380.5 L417.9 361.0 L419.1 346.3 L420.4 336.4 L421.0 333.1 L421.8 330.2 L422.5 328.8 L423.3 327.8 L424.1 327.4 L425.8 327.3 L427.4 327.4 L428.3 327.8 L429.1 328.8 L429.9 330.8 L430.7 334.1 L431.4 337.7 L432.6 348.4 L433.9 363.9 L435.1 384.1 L439.2 467.9 L440.9 497.0 L441.7 508.3 L442.5 516.9 L443.4 522.6 L443.8 524.2 L444.2 525.0 L444.4 525.1 L444.6 525.0 L445.0 524.2 L445.4 522.6 L446.1 518.6 L446.9 510.7 L447.9 497.0 L449.6 467.9 L453.5 387.9 L454.8 367.0 L455.8 353.0 L457.0 340.8 L457.7 336.4 L458.3 333.1 L458.9 330.8 L459.5 329.2 L460.4 328.0 L461.2 327.5 L462.0 327.4 L463.9 327.3 L465.1 327.6 L465.9 328.2 L466.8 329.6 L467.6 332.2 L468.2 335.2 L469.1 340.8 L469.7 346.3 L470.9 361.0 L472.4 384.1 L476.5 467.9 L478.2 497.0 L479.0 508.3 L479.8 516.9 L480.7 522.6 L481.1 524.2 L481.5 525.0 L481.7 525.1 L481.9 525.0 L482.3 524.2 L482.7 522.6 L483.3 518.6 L484.2 510.7 L485.2 497.0 L486.9 467.9 L490.8 387.9 L492.0 367.0 L493.1 353.0 L494.1 342.5 L494.7 337.7 L495.4 334.1 L496.0 331.4 L496.6 329.6 L497.4 328.2 L498.3 327.6 L499.5 327.3 L501.4 327.4 L502.2 327.5 L503.0 328.0 L503.8 329.2 L504.7 331.4 L505.5 335.2 L506.3 340.8 L507.0 346.3 L508.2 361.0 L509.6 384.1 L513.8 467.9 L515.4 497.0 L516.3 508.3 L517.1 516.9 L517.9 522.6 L518.3 524.2 L518.8 525.0 L519.0 525.1 L519.2 525.0 L519.6 524.2 L520.0 522.6 L520.6 518.6 L521.4 510.7 L522.5 497.0 L524.1 467.9 L528.1 387.9 L529.3 367.0 L530.4 353.0 L531.4 342.5 L532.0 337.7 L532.6 334.1 L533.3 331.4 L533.9 329.6 L534.5 328.5 L535.3 327.7 L536.6 327.4 L539.3 327.4 L539.9 327.7 L540.3 328.0 L541.1 329.2 L541.9 331.4 L542.6 334.1 L543.4 339.2 L544.0 344.3 L545.3 358.2 L546.7 380.5 L548.0 403.8 L551.1 467.9 L552.7 497.0 L553.5 508.3 L554.4 516.9 L555.2 522.6 L555.6 524.2 L556.0 525.0 L556.2 525.1 L556.4 525.0 L556.9 524.2 L557.3 522.6 L557.9 518.6 L558.7 510.7 L559.8 497.0 L561.4 467.9 L565.3 387.9 L566.6 367.0 L567.6 353.0 L568.7 342.5 L569.7 335.2 L570.3 332.2 L570.9 330.2 L571.6 328.8 L572.4 327.8 L573.0 327.5 L573.6 327.4 L576.5 327.4 L577.2 327.7 L577.6 328.0 L578.4 329.2 L579.2 331.4 L579.8 334.1 L580.7 339.2 L581.3 344.3 L582.5 358.2 L584.0 380.5 L585.2 403.8 L588.3 467.9 L590.0 497.0 L590.8 508.3 L591.6 516.9 L592.5 522.6 L592.9 524.2 L593.3 525.0 L593.5 525.1 L593.7 525.0 L594.1 524.2 L594.5 522.6 L595.2 518.6 L596.0 510.7 L597.0 497.0 L598.7 467.9 L602.6 387.9 L603.7 370.2 L604.7 355.5 L605.7 344.3 L606.8 336.4 L607.4 333.1 L608.0 330.8 L608.6 329.2 L609.3 328.2 L609.9 327.7 L610.5 327.4 L613.4 327.4 L614.0 327.5 L614.6 327.8 L615.5 328.8 L616.3 330.8 L617.1 334.1 L617.9 339.2 L618.6 344.3 L619.8 358.2 L621.3 380.5 L622.5 403.8 L625.6 467.9 L627.3 497.0 L628.1 508.3 L628.9 516.9 L629.8 522.6 L630.4 524.7 L630.8 525.1 L631.2 524.7 L631.6 523.5 L632.0 521.5 L632.9 515.1 L633.7 505.7 L634.5 493.8 L635.6 475.8 L639.5 395.7 L641.3 363.9 L642.4 350.6 L643.4 340.8 L644.5 334.1 L645.1 331.4 L645.7 329.6 L646.5 328.2 L647.1 327.7 L647.8 327.4 L648.8 327.3 L650.9 327.4 L651.5 327.6 L652.1 328.0 L652.9 329.2 L653.8 331.4 L654.6 335.2 L655.2 339.2 L656.1 346.3 L656.7 353.0 L658.1 373.5 L659.6 399.7 L661.9 446.9" fill="none" stroke="#111" stroke-width="1.35" stroke-linejoin="round"/>
<rect x="407.60" y="322.10" width="260.90" height="207.90" fill="none" stroke="#000" stroke-width="1.70"/>
<line x1="418.32" y1="530.00" x2="418.32" y2="528.00" stroke="#000" stroke-width="1.00"/>
<line x1="428.26" y1="530.00" x2="428.26" y2="528.00" stroke="#000" stroke-width="1.00"/>
<line x1="438.20" y1="530.00" x2="438.20" y2="526.50" stroke="#000" stroke-width="1.00"/>
<line x1="448.14" y1="530.00" x2="448.14" y2="528.00" stroke="#000" stroke-width="1.00"/>
<line x1="458.08" y1="530.00" x2="458.08" y2="528.00" stroke="#000" stroke-width="1.00"/>
<line x1="468.02" y1="530.00" x2="468.02" y2="528.00" stroke="#000" stroke-width="1.00"/>
<line x1="477.96" y1="530.00" x2="477.96" y2="528.00" stroke="#000" stroke-width="1.00"/>
<line x1="487.90" y1="530.00" x2="487.90" y2="526.50" stroke="#000" stroke-width="1.00"/>
<line x1="497.84" y1="530.00" x2="497.84" y2="528.00" stroke="#000" stroke-width="1.00"/>
<line x1="507.78" y1="530.00" x2="507.78" y2="528.00" stroke="#000" stroke-width="1.00"/>
<line x1="517.72" y1="530.00" x2="517.72" y2="528.00" stroke="#000" stroke-width="1.00"/>
<line x1="527.66" y1="530.00" x2="527.66" y2="528.00" stroke="#000" stroke-width="1.00"/>
<line x1="537.60" y1="530.00" x2="537.60" y2="526.50" stroke="#000" stroke-width="1.00"/>
<line x1="547.54" y1="530.00" x2="547.54" y2="528.00" stroke="#000" stroke-width="1.00"/>
<line x1="557.48" y1="530.00" x2="557.48" y2="528.00" stroke="#000" stroke-width="1.00"/>
<line x1="567.42" y1="530.00" x2="567.42" y2="528.00" stroke="#000" stroke-width="1.00"/>
<line x1="577.36" y1="530.00" x2="577.36" y2="528.00" stroke="#000" stroke-width="1.00"/>
<line x1="587.30" y1="530.00" x2="587.30" y2="526.50" stroke="#000" stroke-width="1.00"/>
<line x1="597.24" y1="530.00" x2="597.24" y2="528.00" stroke="#000" stroke-width="1.00"/>
<line x1="607.18" y1="530.00" x2="607.18" y2="528.00" stroke="#000" stroke-width="1.00"/>
<line x1="617.12" y1="530.00" x2="617.12" y2="528.00" stroke="#000" stroke-width="1.00"/>
<line x1="627.06" y1="530.00" x2="627.06" y2="528.00" stroke="#000" stroke-width="1.00"/>
<line x1="637.00" y1="530.00" x2="637.00" y2="526.50" stroke="#000" stroke-width="1.00"/>
<line x1="646.94" y1="530.00" x2="646.94" y2="528.00" stroke="#000" stroke-width="1.00"/>
<line x1="656.88" y1="530.00" x2="656.88" y2="528.00" stroke="#000" stroke-width="1.00"/>
<text transform="translate(438.20 545.30) scale(1.130 1)" font-family="'Liberation Serif','Times New Roman',serif" font-size="14.90" text-anchor="middle" font-weight="normal" font-style="normal" fill="#000">−20</text>
<text transform="translate(487.90 545.30) scale(1.130 1)" font-family="'Liberation Serif','Times New Roman',serif" font-size="14.90" text-anchor="middle" font-weight="normal" font-style="normal" fill="#000">−10</text>
<text transform="translate(537.60 545.30) scale(1.060 1)" font-family="'Liberation Serif','Times New Roman',serif" font-size="14.90" text-anchor="middle" font-weight="normal" font-style="normal" fill="#000">0</text>
<text transform="translate(587.30 545.30) scale(1.060 1)" font-family="'Liberation Serif','Times New Roman',serif" font-size="14.90" text-anchor="middle" font-weight="normal" font-style="normal" fill="#000">10</text>
<text transform="translate(637.00 545.30) scale(1.060 1)" font-family="'Liberation Serif','Times New Roman',serif" font-size="14.90" text-anchor="middle" font-weight="normal" font-style="normal" fill="#000">20</text>
<line x1="407.60" y1="392.70" x2="411.10" y2="392.70" stroke="#000" stroke-width="1.00"/>
<text transform="translate(404.40 396.70) scale(1.130 1)" font-family="'Liberation Serif','Times New Roman',serif" font-size="14.90" text-anchor="end" font-weight="normal" font-style="normal" fill="#000">−0.11</text>
<line x1="407.60" y1="478.70" x2="411.10" y2="478.70" stroke="#000" stroke-width="1.00"/>
<text transform="translate(404.40 482.70) scale(1.130 1)" font-family="'Liberation Serif','Times New Roman',serif" font-size="14.90" text-anchor="end" font-weight="normal" font-style="normal" fill="#000">−0.12</text>
<text transform="translate(537.50 560.60) scale(0.950 1)" font-family="'Liberation Sans',Arial,sans-serif" font-size="14.00" text-anchor="middle" font-weight="normal" font-style="normal" fill="#111">z</text>
<path d="M740.9 424.5 L742.6 381.3 L743.8 354.7 L744.9 339.0 L745.5 332.6 L746.1 328.5 L746.5 326.9 L747.0 326.1 L747.2 326.0 L747.4 326.1 L747.8 326.8 L748.2 327.9 L748.8 330.3 L750.7 339.4 L751.6 342.7 L752.2 344.6 L752.6 345.4 L753.0 346.0 L753.5 346.1 L753.9 346.0 L754.3 345.4 L754.7 344.6 L755.3 342.7 L756.2 339.4 L758.1 330.3 L758.9 327.3 L759.3 326.4 L759.7 326.0 L760.1 326.4 L760.4 326.9 L760.8 328.5 L761.2 331.0 L761.8 336.6 L762.4 344.5 L763.3 358.6 L764.5 386.3 L767.7 467.8 L769.3 502.0 L770.2 514.0 L770.8 520.4 L771.2 523.4 L771.6 525.4 L772.1 526.5 L772.3 526.6 L772.5 526.5 L772.9 525.4 L773.3 523.4 L773.7 520.4 L774.4 514.0 L775.2 502.0 L776.9 467.8 L780.0 386.3 L781.3 358.6 L782.1 344.5 L782.9 334.5 L783.8 328.5 L784.2 326.9 L784.6 326.1 L784.8 326.0 L785.2 326.4 L785.9 327.9 L786.5 330.3 L789.0 342.0 L790.1 345.1 L790.5 345.7 L790.9 346.1 L791.3 346.1 L791.7 345.7 L792.1 345.1 L792.8 343.4 L793.8 339.4 L795.9 329.4 L796.5 327.3 L797.0 326.4 L797.4 326.0 L797.6 326.1 L798.0 326.9 L798.6 329.6 L799.0 332.6 L800.1 344.5 L801.3 367.1 L802.4 391.5 L805.3 467.8 L806.8 498.5 L807.6 511.3 L808.5 520.4 L808.9 523.4 L809.3 525.4 L809.7 526.5 L809.9 526.6 L810.1 526.5 L810.6 525.4 L811.0 523.4 L811.4 520.4 L812.0 514.0 L812.9 502.0 L814.5 467.8 L817.7 386.3 L818.9 358.6 L819.8 344.5 L820.6 334.5 L821.4 328.5 L821.8 326.9 L822.3 326.1 L822.5 326.0 L822.9 326.4 L823.5 327.9 L824.1 330.3 L826.7 342.0 L827.7 345.1 L828.1 345.7 L828.5 346.1 L829.0 346.1 L829.4 345.7 L829.8 345.1 L830.4 343.4 L831.5 339.4 L833.6 329.4 L834.2 327.3 L834.6 326.4 L835.0 326.0 L835.2 326.1 L835.7 326.9 L836.3 329.6 L836.7 332.6 L837.7 344.5 L839.0 367.1 L840.0 391.5 L843.0 467.8 L844.4 498.5 L845.3 511.3 L846.1 520.4 L846.5 523.4 L846.9 525.4 L847.4 526.5 L847.6 526.6 L847.8 526.5 L848.2 525.4 L848.6 523.4 L849.0 520.4 L849.7 514.0 L850.5 502.0 L852.2 467.8 L855.3 386.3 L856.6 358.6 L857.4 344.5 L858.2 334.5 L859.1 328.5 L859.5 326.9 L859.9 326.1 L860.1 326.0 L860.5 326.4 L861.2 327.9 L861.8 330.3 L864.3 342.0 L865.4 345.1 L865.8 345.7 L866.2 346.1 L866.6 346.1 L867.0 345.7 L867.4 345.1 L868.1 343.4 L869.1 339.4 L871.2 329.4 L871.8 327.3 L872.3 326.4 L872.7 326.0 L872.9 326.1 L873.3 326.9 L873.9 329.6 L874.3 332.6 L875.4 344.5 L876.6 367.1 L877.7 391.5 L880.4 462.7 L881.9 494.7 L882.7 508.5 L883.6 518.5 L884.4 524.6 L885.0 526.5 L885.2 526.6 L885.4 526.5 L885.6 526.1 L886.1 524.6 L886.5 522.0 L887.1 516.4 L887.9 505.4 L888.8 490.7 L889.6 472.7 L893.0 386.3 L894.2 358.6 L895.1 344.5 L895.9 334.5 L896.7 328.5 L897.1 326.9 L897.6 326.1 L897.8 326.0 L898.2 326.4 L898.8 327.9 L899.4 330.3 L902.0 342.0 L903.0 345.1 L903.4 345.7 L903.8 346.1 L904.3 346.1 L904.7 345.7 L905.1 345.1 L905.7 343.4 L906.8 339.4 L908.9 329.4 L909.5 327.3 L909.9 326.4 L910.3 326.0 L910.5 326.1 L911.0 326.9 L911.6 329.6 L912.0 332.6 L913.0 344.5 L914.3 367.1 L915.3 391.5 L918.1 462.7 L919.5 494.7 L920.4 508.5 L921.2 518.5 L922.0 524.6 L922.7 526.5 L922.9 526.6 L923.1 526.5 L923.3 526.1 L923.7 524.6 L924.1 522.0 L925.0 514.0 L925.8 502.0 L927.5 467.8 L930.6 386.3 L931.9 358.6 L932.7 344.5 L933.3 336.6 L934.2 329.6 L934.6 327.6 L935.0 326.4 L935.2 326.1 L935.4 326.0 L935.6 326.1 L936.1 326.8 L936.5 327.9 L937.1 330.3 L939.6 342.0 L940.7 345.1 L941.1 345.7 L941.5 346.1 L941.9 346.1 L942.3 345.7 L942.7 345.1 L943.4 343.4 L944.4 339.4 L946.5 329.4 L947.1 327.3 L947.6 326.4 L948.0 326.0 L948.2 326.1 L948.6 326.9 L949.2 329.6 L949.6 332.6 L950.7 344.5 L951.9 367.1 L953.0 391.5 L955.7 462.7 L957.2 494.7 L958.0 508.5 L958.9 518.5 L959.7 524.6 L960.3 526.5 L960.5 526.6 L960.7 526.5 L960.9 526.1 L961.4 524.6 L961.8 522.0 L962.6 514.0 L963.5 502.0 L965.1 467.8 L968.3 386.3 L969.5 358.6 L970.4 344.5 L971.0 336.6 L971.6 331.0 L972.0 328.5 L972.4 326.9 L972.7 326.4 L973.1 326.0 L973.5 326.4 L973.9 327.3 L974.7 330.3 L976.6 339.4 L977.5 342.7 L978.1 344.6 L978.5 345.4 L978.9 346.0 L979.3 346.1 L979.8 346.0 L980.2 345.4 L980.6 344.6 L981.2 342.7 L982.1 339.4 L984.0 330.3 L984.6 327.9 L985.0 326.8 L985.4 326.1 L985.6 326.0 L985.8 326.1 L986.3 326.9 L986.7 328.5 L987.3 332.6 L987.9 339.0 L989.0 354.7 L990.2 381.3 L991.9 424.5" fill="none" stroke="#111" stroke-width="1.35" stroke-linejoin="round"/>
<rect x="735.30" y="320.50" width="263.10" height="211.20" fill="none" stroke="#000" stroke-width="1.70"/>
<line x1="745.92" y1="531.70" x2="745.92" y2="529.70" stroke="#000" stroke-width="1.00"/>
<line x1="755.96" y1="531.70" x2="755.96" y2="529.70" stroke="#000" stroke-width="1.00"/>
<line x1="766.00" y1="531.70" x2="766.00" y2="528.20" stroke="#000" stroke-width="1.00"/>
<line x1="776.04" y1="531.70" x2="776.04" y2="529.70" stroke="#000" stroke-width="1.00"/>
<line x1="786.08" y1="531.70" x2="786.08" y2="529.70" stroke="#000" stroke-width="1.00"/>
<line x1="796.12" y1="531.70" x2="796.12" y2="529.70" stroke="#000" stroke-width="1.00"/>
<line x1="806.16" y1="531.70" x2="806.16" y2="529.70" stroke="#000" stroke-width="1.00"/>
<line x1="816.20" y1="531.70" x2="816.20" y2="528.20" stroke="#000" stroke-width="1.00"/>
<line x1="826.24" y1="531.70" x2="826.24" y2="529.70" stroke="#000" stroke-width="1.00"/>
<line x1="836.28" y1="531.70" x2="836.28" y2="529.70" stroke="#000" stroke-width="1.00"/>
<line x1="846.32" y1="531.70" x2="846.32" y2="529.70" stroke="#000" stroke-width="1.00"/>
<line x1="856.36" y1="531.70" x2="856.36" y2="529.70" stroke="#000" stroke-width="1.00"/>
<line x1="866.40" y1="531.70" x2="866.40" y2="528.20" stroke="#000" stroke-width="1.00"/>
<line x1="876.44" y1="531.70" x2="876.44" y2="529.70" stroke="#000" stroke-width="1.00"/>
<line x1="886.48" y1="531.70" x2="886.48" y2="529.70" stroke="#000" stroke-width="1.00"/>
<line x1="896.52" y1="531.70" x2="896.52" y2="529.70" stroke="#000" stroke-width="1.00"/>
<line x1="906.56" y1="531.70" x2="906.56" y2="529.70" stroke="#000" stroke-width="1.00"/>
<line x1="916.60" y1="531.70" x2="916.60" y2="528.20" stroke="#000" stroke-width="1.00"/>
<line x1="926.64" y1="531.70" x2="926.64" y2="529.70" stroke="#000" stroke-width="1.00"/>
<line x1="936.68" y1="531.70" x2="936.68" y2="529.70" stroke="#000" stroke-width="1.00"/>
<line x1="946.72" y1="531.70" x2="946.72" y2="529.70" stroke="#000" stroke-width="1.00"/>
<line x1="956.76" y1="531.70" x2="956.76" y2="529.70" stroke="#000" stroke-width="1.00"/>
<line x1="966.80" y1="531.70" x2="966.80" y2="528.20" stroke="#000" stroke-width="1.00"/>
<line x1="976.84" y1="531.70" x2="976.84" y2="529.70" stroke="#000" stroke-width="1.00"/>
<line x1="986.88" y1="531.70" x2="986.88" y2="529.70" stroke="#000" stroke-width="1.00"/>
<text transform="translate(766.00 547.00) scale(1.130 1)" font-family="'Liberation Serif','Times New Roman',serif" font-size="14.90" text-anchor="middle" font-weight="normal" font-style="normal" fill="#000">−20</text>
<text transform="translate(816.20 547.00) scale(1.130 1)" font-family="'Liberation Serif','Times New Roman',serif" font-size="14.90" text-anchor="middle" font-weight="normal" font-style="normal" fill="#000">−10</text>
<text transform="translate(866.40 547.00) scale(1.060 1)" font-family="'Liberation Serif','Times New Roman',serif" font-size="14.90" text-anchor="middle" font-weight="normal" font-style="normal" fill="#000">0</text>
<text transform="translate(916.60 547.00) scale(1.060 1)" font-family="'Liberation Serif','Times New Roman',serif" font-size="14.90" text-anchor="middle" font-weight="normal" font-style="normal" fill="#000">10</text>
<text transform="translate(966.80 547.00) scale(1.060 1)" font-family="'Liberation Serif','Times New Roman',serif" font-size="14.90" text-anchor="middle" font-weight="normal" font-style="normal" fill="#000">20</text>
<line x1="735.30" y1="348.50" x2="738.80" y2="348.50" stroke="#000" stroke-width="1.00"/>
<text transform="translate(732.10 352.50) scale(1.130 1)" font-family="'Liberation Serif','Times New Roman',serif" font-size="14.90" text-anchor="end" font-weight="normal" font-style="normal" fill="#000">−0.10</text>
<line x1="735.30" y1="387.90" x2="738.80" y2="387.90" stroke="#000" stroke-width="1.00"/>
<text transform="translate(732.10 391.90) scale(1.130 1)" font-family="'Liberation Serif','Times New Roman',serif" font-size="14.90" text-anchor="end" font-weight="normal" font-style="normal" fill="#000">−0.11</text>
<line x1="735.30" y1="427.30" x2="738.80" y2="427.30" stroke="#000" stroke-width="1.00"/>
<text transform="translate(732.10 431.30) scale(1.130 1)" font-family="'Liberation Serif','Times New Roman',serif" font-size="14.90" text-anchor="end" font-weight="normal" font-style="normal" fill="#000">−0.12</text>
<line x1="735.30" y1="466.70" x2="738.80" y2="466.70" stroke="#000" stroke-width="1.00"/>
<text transform="translate(732.10 470.70) scale(1.130 1)" font-family="'Liberation Serif','Times New Roman',serif" font-size="14.90" text-anchor="end" font-weight="normal" font-style="normal" fill="#000">−0.13</text>
<line x1="735.30" y1="506.10" x2="738.80" y2="506.10" stroke="#000" stroke-width="1.00"/>
<text transform="translate(732.10 510.10) scale(1.130 1)" font-family="'Liberation Serif','Times New Roman',serif" font-size="14.90" text-anchor="end" font-weight="normal" font-style="normal" fill="#000">−0.14</text>
<line x1="735.30" y1="332.74" x2="737.30" y2="332.74" stroke="#000" stroke-width="1.00"/>
<line x1="735.30" y1="340.62" x2="737.30" y2="340.62" stroke="#000" stroke-width="1.00"/>
<line x1="735.30" y1="356.38" x2="737.30" y2="356.38" stroke="#000" stroke-width="1.00"/>
<line x1="735.30" y1="364.26" x2="737.30" y2="364.26" stroke="#000" stroke-width="1.00"/>
<line x1="735.30" y1="372.14" x2="737.30" y2="372.14" stroke="#000" stroke-width="1.00"/>
<line x1="735.30" y1="380.02" x2="737.30" y2="380.02" stroke="#000" stroke-width="1.00"/>
<line x1="735.30" y1="395.78" x2="737.30" y2="395.78" stroke="#000" stroke-width="1.00"/>
<line x1="735.30" y1="403.66" x2="737.30" y2="403.66" stroke="#000" stroke-width="1.00"/>
<line x1="735.30" y1="411.54" x2="737.30" y2="411.54" stroke="#000" stroke-width="1.00"/>
<line x1="735.30" y1="419.42" x2="737.30" y2="419.42" stroke="#000" stroke-width="1.00"/>
<line x1="735.30" y1="435.18" x2="737.30" y2="435.18" stroke="#000" stroke-width="1.00"/>
<line x1="735.30" y1="443.06" x2="737.30" y2="443.06" stroke="#000" stroke-width="1.00"/>
<line x1="735.30" y1="450.94" x2="737.30" y2="450.94" stroke="#000" stroke-width="1.00"/>
<line x1="735.30" y1="458.82" x2="737.30" y2="458.82" stroke="#000" stroke-width="1.00"/>
<line x1="735.30" y1="474.58" x2="737.30" y2="474.58" stroke="#000" stroke-width="1.00"/>
<line x1="735.30" y1="482.46" x2="737.30" y2="482.46" stroke="#000" stroke-width="1.00"/>
<line x1="735.30" y1="490.34" x2="737.30" y2="490.34" stroke="#000" stroke-width="1.00"/>
<line x1="735.30" y1="498.22" x2="737.30" y2="498.22" stroke="#000" stroke-width="1.00"/>
<line x1="735.30" y1="513.98" x2="737.30" y2="513.98" stroke="#000" stroke-width="1.00"/>
<line x1="735.30" y1="521.86" x2="737.30" y2="521.86" stroke="#000" stroke-width="1.00"/>
<line x1="735.30" y1="529.74" x2="737.30" y2="529.74" stroke="#000" stroke-width="1.00"/>
<text transform="translate(866.50 559.80) scale(0.950 1)" font-family="'Liberation Sans',Arial,sans-serif" font-size="14.00" text-anchor="middle" font-weight="normal" font-style="normal" fill="#111">z</text>
<path d="M1065.8 416.1 L1067.3 375.9 L1068.3 352.7 L1069.4 336.6 L1069.8 332.5 L1070.4 328.7 L1070.9 327.8 L1071.1 327.7 L1071.3 328.0 L1071.7 329.2 L1072.1 331.3 L1073.0 337.6 L1075.1 357.7 L1076.1 366.3 L1076.8 370.2 L1077.4 372.9 L1078.0 374.4 L1078.5 374.7 L1078.9 374.4 L1079.5 372.9 L1080.1 370.2 L1080.8 366.3 L1081.8 357.7 L1083.9 337.6 L1084.8 331.3 L1085.2 329.2 L1085.6 328.0 L1085.8 327.7 L1086.0 327.8 L1086.5 328.7 L1087.1 332.5 L1087.7 339.2 L1089.0 361.2 L1090.0 386.8 L1093.0 468.8 L1094.5 501.1 L1095.3 514.3 L1095.9 521.4 L1096.4 524.7 L1096.8 526.9 L1097.2 528.0 L1097.4 528.2 L1097.6 528.0 L1098.1 526.9 L1098.5 524.7 L1098.9 521.4 L1099.5 514.3 L1100.4 501.1 L1101.9 468.8 L1104.8 386.8 L1106.1 356.8 L1106.9 342.1 L1107.5 334.4 L1108.2 329.7 L1108.4 328.7 L1108.8 327.8 L1109.0 327.7 L1109.2 328.0 L1109.7 329.2 L1110.5 334.1 L1113.2 359.6 L1114.3 367.7 L1115.3 372.9 L1116.0 374.4 L1116.4 374.7 L1116.8 374.4 L1117.5 372.9 L1118.1 370.2 L1118.7 366.3 L1119.8 357.7 L1121.9 337.6 L1122.9 330.1 L1123.6 328.0 L1123.8 327.7 L1124.0 327.8 L1124.4 328.7 L1124.6 329.7 L1125.0 332.5 L1125.5 336.6 L1126.1 345.3 L1127.2 365.9 L1130.7 463.4 L1132.2 497.2 L1133.1 511.4 L1133.9 521.4 L1134.3 524.7 L1134.7 526.9 L1135.2 528.0 L1135.4 528.2 L1135.6 528.0 L1136.0 526.9 L1136.4 524.7 L1136.9 521.4 L1137.5 514.3 L1138.3 501.1 L1139.8 468.8 L1142.8 386.8 L1144.0 356.8 L1144.9 342.1 L1145.5 334.4 L1146.1 329.7 L1146.3 328.7 L1146.8 327.8 L1147.0 327.7 L1147.2 328.0 L1147.6 329.2 L1148.4 334.1 L1151.2 359.6 L1152.2 367.7 L1153.3 372.9 L1153.9 374.4 L1154.3 374.7 L1154.8 374.4 L1155.4 372.9 L1156.0 370.2 L1156.7 366.3 L1157.7 357.7 L1159.8 337.6 L1160.9 330.1 L1161.5 328.0 L1161.7 327.7 L1161.9 327.8 L1162.4 328.7 L1162.6 329.7 L1163.0 332.5 L1163.4 336.6 L1164.0 345.3 L1165.1 365.9 L1168.7 463.4 L1170.2 497.2 L1171.0 511.4 L1171.8 521.4 L1172.3 524.7 L1172.7 526.9 L1173.1 528.0 L1173.3 528.2 L1173.5 528.0 L1174.0 526.9 L1174.4 524.7 L1174.8 521.4 L1175.4 514.3 L1176.3 501.1 L1177.8 468.8 L1180.7 386.8 L1182.0 356.8 L1182.8 342.1 L1183.4 334.4 L1184.1 329.7 L1184.3 328.7 L1184.7 327.8 L1184.9 327.7 L1185.1 328.0 L1185.6 329.2 L1186.4 334.1 L1189.1 359.6 L1190.2 367.7 L1191.2 372.9 L1191.9 374.4 L1192.3 374.7 L1192.7 374.4 L1193.4 372.9 L1194.0 370.2 L1194.6 366.3 L1195.7 357.7 L1197.8 337.6 L1198.8 330.1 L1199.5 328.0 L1199.7 327.7 L1199.9 327.8 L1200.3 328.7 L1200.5 329.7 L1200.9 332.5 L1201.4 336.6 L1202.0 345.3 L1203.1 365.9 L1206.6 463.4 L1208.1 497.2 L1209.0 511.4 L1209.6 519.3 L1210.4 526.0 L1210.9 527.6 L1211.1 528.0 L1211.3 528.2 L1211.5 528.0 L1211.7 527.6 L1212.1 526.0 L1212.5 523.2 L1213.2 517.0 L1214.0 504.8 L1214.9 488.6 L1215.7 468.8 L1218.7 386.8 L1219.9 356.8 L1220.8 342.1 L1221.4 334.4 L1222.0 329.7 L1222.2 328.7 L1222.7 327.8 L1222.9 327.7 L1223.1 328.0 L1223.5 329.2 L1224.3 334.1 L1227.1 359.6 L1228.1 367.7 L1229.2 372.9 L1229.8 374.4 L1230.2 374.7 L1230.7 374.4 L1231.3 372.9 L1231.9 370.2 L1232.6 366.3 L1233.6 357.7 L1235.7 337.6 L1236.8 330.1 L1237.4 328.0 L1237.6 327.7 L1237.8 327.8 L1238.3 328.7 L1238.5 329.7 L1238.9 332.5 L1239.3 336.6 L1239.9 345.3 L1241.0 365.9 L1244.6 463.4 L1246.1 497.2 L1246.9 511.4 L1247.5 519.3 L1248.4 526.0 L1248.8 527.6 L1249.0 528.0 L1249.2 528.2 L1249.4 528.0 L1249.6 527.6 L1250.1 526.0 L1250.5 523.2 L1251.3 514.3 L1252.2 501.1 L1253.7 468.8 L1256.6 386.8 L1257.7 361.2 L1258.5 345.3 L1259.1 336.6 L1259.8 330.9 L1260.4 328.1 L1260.6 327.8 L1260.8 327.7 L1261.2 328.5 L1261.7 330.1 L1262.1 332.6 L1262.9 339.4 L1265.0 359.6 L1266.3 369.0 L1266.9 372.2 L1267.4 373.6 L1267.8 374.4 L1268.2 374.7 L1268.6 374.4 L1269.3 372.9 L1269.9 370.2 L1270.5 366.3 L1271.6 357.7 L1273.7 337.6 L1274.7 330.1 L1275.4 328.0 L1275.6 327.7 L1275.8 327.8 L1276.2 328.7 L1276.4 329.7 L1276.8 332.5 L1277.3 336.6 L1277.9 345.3 L1279.0 365.9 L1282.5 463.4 L1284.0 497.2 L1284.9 511.4 L1285.5 519.3 L1286.3 526.0 L1286.8 527.6 L1287.0 528.0 L1287.2 528.2 L1287.4 528.0 L1287.6 527.6 L1288.0 526.0 L1288.4 523.2 L1289.3 514.3 L1290.1 501.1 L1291.6 468.8 L1294.6 386.8 L1295.6 361.2 L1296.9 339.2 L1297.5 332.5 L1298.1 328.7 L1298.6 327.8 L1298.8 327.7 L1299.0 328.0 L1299.4 329.2 L1299.8 331.3 L1300.7 337.6 L1302.8 357.7 L1303.8 366.3 L1304.5 370.2 L1305.1 372.9 L1305.7 374.4 L1306.1 374.7 L1306.6 374.4 L1307.2 372.9 L1307.8 370.2 L1308.5 366.3 L1309.5 357.7 L1311.6 337.6 L1312.5 331.3 L1312.9 329.2 L1313.3 328.0 L1313.5 327.7 L1313.7 327.8 L1314.2 328.7 L1314.8 332.5 L1315.2 336.6 L1316.3 352.7 L1317.3 375.9 L1318.8 416.1" fill="none" stroke="#111" stroke-width="1.35" stroke-linejoin="round"/>
<rect x="1060.80" y="322.10" width="264.60" height="211.60" fill="none" stroke="#000" stroke-width="1.70"/>
<line x1="1070.86" y1="533.70" x2="1070.86" y2="531.70" stroke="#000" stroke-width="1.00"/>
<line x1="1080.98" y1="533.70" x2="1080.98" y2="531.70" stroke="#000" stroke-width="1.00"/>
<line x1="1091.10" y1="533.70" x2="1091.10" y2="530.20" stroke="#000" stroke-width="1.00"/>
<line x1="1101.22" y1="533.70" x2="1101.22" y2="531.70" stroke="#000" stroke-width="1.00"/>
<line x1="1111.34" y1="533.70" x2="1111.34" y2="531.70" stroke="#000" stroke-width="1.00"/>
<line x1="1121.46" y1="533.70" x2="1121.46" y2="531.70" stroke="#000" stroke-width="1.00"/>
<line x1="1131.58" y1="533.70" x2="1131.58" y2="531.70" stroke="#000" stroke-width="1.00"/>
<line x1="1141.70" y1="533.70" x2="1141.70" y2="530.20" stroke="#000" stroke-width="1.00"/>
<line x1="1151.82" y1="533.70" x2="1151.82" y2="531.70" stroke="#000" stroke-width="1.00"/>
<line x1="1161.94" y1="533.70" x2="1161.94" y2="531.70" stroke="#000" stroke-width="1.00"/>
<line x1="1172.06" y1="533.70" x2="1172.06" y2="531.70" stroke="#000" stroke-width="1.00"/>
<line x1="1182.18" y1="533.70" x2="1182.18" y2="531.70" stroke="#000" stroke-width="1.00"/>
<line x1="1192.30" y1="533.70" x2="1192.30" y2="530.20" stroke="#000" stroke-width="1.00"/>
<line x1="1202.42" y1="533.70" x2="1202.42" y2="531.70" stroke="#000" stroke-width="1.00"/>
<line x1="1212.54" y1="533.70" x2="1212.54" y2="531.70" stroke="#000" stroke-width="1.00"/>
<line x1="1222.66" y1="533.70" x2="1222.66" y2="531.70" stroke="#000" stroke-width="1.00"/>
<line x1="1232.78" y1="533.70" x2="1232.78" y2="531.70" stroke="#000" stroke-width="1.00"/>
<line x1="1242.90" y1="533.70" x2="1242.90" y2="530.20" stroke="#000" stroke-width="1.00"/>
<line x1="1253.02" y1="533.70" x2="1253.02" y2="531.70" stroke="#000" stroke-width="1.00"/>
<line x1="1263.14" y1="533.70" x2="1263.14" y2="531.70" stroke="#000" stroke-width="1.00"/>
<line x1="1273.26" y1="533.70" x2="1273.26" y2="531.70" stroke="#000" stroke-width="1.00"/>
<line x1="1283.38" y1="533.70" x2="1283.38" y2="531.70" stroke="#000" stroke-width="1.00"/>
<line x1="1293.50" y1="533.70" x2="1293.50" y2="530.20" stroke="#000" stroke-width="1.00"/>
<line x1="1303.62" y1="533.70" x2="1303.62" y2="531.70" stroke="#000" stroke-width="1.00"/>
<line x1="1313.74" y1="533.70" x2="1313.74" y2="531.70" stroke="#000" stroke-width="1.00"/>
<text transform="translate(1091.10 549.00) scale(1.130 1)" font-family="'Liberation Serif','Times New Roman',serif" font-size="14.90" text-anchor="middle" font-weight="normal" font-style="normal" fill="#000">−20</text>
<text transform="translate(1141.70 549.00) scale(1.130 1)" font-family="'Liberation Serif','Times New Roman',serif" font-size="14.90" text-anchor="middle" font-weight="normal" font-style="normal" fill="#000">−10</text>
<text transform="translate(1192.30 549.00) scale(1.060 1)" font-family="'Liberation Serif','Times New Roman',serif" font-size="14.90" text-anchor="middle" font-weight="normal" font-style="normal" fill="#000">0</text>
<text transform="translate(1242.90 549.00) scale(1.060 1)" font-family="'Liberation Serif','Times New Roman',serif" font-size="14.90" text-anchor="middle" font-weight="normal" font-style="normal" fill="#000">10</text>
<text transform="translate(1293.50 549.00) scale(1.060 1)" font-family="'Liberation Serif','Times New Roman',serif" font-size="14.90" text-anchor="middle" font-weight="normal" font-style="normal" fill="#000">20</text>
<line x1="1060.80" y1="326.60" x2="1064.30" y2="326.60" stroke="#000" stroke-width="1.00"/>
<text transform="translate(1057.60 330.60) scale(1.130 1)" font-family="'Liberation Serif','Times New Roman',serif" font-size="14.90" text-anchor="end" font-weight="normal" font-style="normal" fill="#000">−0.08</text>
<line x1="1060.80" y1="415.70" x2="1064.30" y2="415.70" stroke="#000" stroke-width="1.00"/>
<text transform="translate(1057.60 419.70) scale(1.130 1)" font-family="'Liberation Serif','Times New Roman',serif" font-size="14.90" text-anchor="end" font-weight="normal" font-style="normal" fill="#000">−0.12</text>
<line x1="1060.80" y1="504.80" x2="1064.30" y2="504.80" stroke="#000" stroke-width="1.00"/>
<text transform="translate(1057.60 508.80) scale(1.130 1)" font-family="'Liberation Serif','Times New Roman',serif" font-size="14.90" text-anchor="end" font-weight="normal" font-style="normal" fill="#000">−0.16</text>
<text transform="translate(1191.90 562.70) scale(0.950 1)" font-family="'Liberation Sans',Arial,sans-serif" font-size="14.00" text-anchor="middle" font-weight="normal" font-style="normal" fill="#111">z</text>
<path d="M1392.7 410.7 L1393.9 375.2 L1395.0 351.3 L1396.0 335.4 L1396.4 331.6 L1396.9 329.3 L1397.3 328.5 L1397.5 328.6 L1397.7 329.0 L1398.1 330.7 L1398.5 333.6 L1399.4 341.9 L1401.9 374.7 L1403.0 385.9 L1403.6 390.9 L1404.2 394.4 L1404.9 396.4 L1405.3 396.7 L1405.7 396.4 L1406.3 394.4 L1407.0 390.9 L1407.6 385.9 L1408.6 374.7 L1411.2 341.9 L1412.0 333.6 L1412.4 330.7 L1412.9 329.0 L1413.1 328.6 L1413.3 328.5 L1413.7 329.3 L1414.3 333.4 L1414.7 337.9 L1415.4 347.4 L1416.0 360.0 L1417.1 386.4 L1419.8 465.8 L1421.3 500.3 L1422.1 514.5 L1422.7 522.1 L1423.2 525.7 L1423.6 528.1 L1424.0 529.3 L1424.2 529.5 L1424.4 529.3 L1424.8 528.1 L1425.5 524.1 L1426.1 517.3 L1426.9 504.3 L1428.4 471.4 L1431.4 386.4 L1432.4 360.0 L1433.3 343.9 L1433.9 335.4 L1434.5 330.3 L1434.7 329.3 L1435.2 328.5 L1435.4 328.6 L1435.6 329.0 L1436.0 330.7 L1436.8 337.4 L1439.8 374.7 L1441.0 387.7 L1442.1 394.4 L1442.7 396.4 L1443.2 396.7 L1443.6 396.4 L1444.2 394.4 L1444.8 390.9 L1445.5 385.9 L1446.5 374.7 L1449.0 341.9 L1450.1 332.0 L1450.7 329.0 L1450.9 328.6 L1451.1 328.5 L1451.6 329.3 L1452.0 331.6 L1452.4 335.4 L1453.0 343.9 L1454.1 364.8 L1457.7 465.8 L1459.1 500.3 L1460.0 514.5 L1460.6 522.1 L1461.0 525.7 L1461.5 528.1 L1461.9 529.3 L1462.1 529.5 L1462.3 529.3 L1462.7 528.1 L1463.4 524.1 L1464.0 517.3 L1464.8 504.3 L1466.3 471.4 L1469.2 386.4 L1470.3 360.0 L1471.1 343.9 L1471.8 335.4 L1472.4 330.3 L1472.6 329.3 L1473.0 328.5 L1473.2 328.6 L1473.5 329.0 L1473.9 330.7 L1474.7 337.4 L1477.7 374.7 L1478.9 387.7 L1480.0 394.4 L1480.6 396.4 L1481.0 396.7 L1481.4 396.4 L1482.1 394.4 L1482.7 390.9 L1483.3 385.9 L1484.4 374.7 L1486.9 341.9 L1488.0 332.0 L1488.6 329.0 L1488.8 328.6 L1489.0 328.5 L1489.4 329.3 L1489.9 331.6 L1490.3 335.4 L1490.9 343.9 L1492.0 364.8 L1495.5 465.8 L1497.0 500.3 L1497.9 514.5 L1498.5 522.1 L1498.9 525.7 L1499.3 528.1 L1499.8 529.3 L1500.0 529.5 L1500.2 529.3 L1500.6 528.1 L1501.2 524.1 L1501.9 517.3 L1502.7 504.3 L1504.2 471.4 L1507.1 386.4 L1508.2 360.0 L1509.0 343.9 L1509.6 335.4 L1510.3 330.3 L1510.5 329.3 L1510.9 328.5 L1511.1 328.6 L1511.3 329.0 L1511.7 330.7 L1512.6 337.4 L1515.5 374.7 L1516.8 387.7 L1517.8 394.4 L1518.5 396.4 L1518.9 396.7 L1519.3 396.4 L1520.0 394.4 L1520.6 390.9 L1521.2 385.9 L1522.3 374.7 L1524.8 341.9 L1525.8 332.0 L1526.5 329.0 L1526.7 328.6 L1526.9 328.5 L1527.3 329.3 L1527.7 331.6 L1528.2 335.4 L1528.8 343.9 L1529.8 364.8 L1533.4 465.8 L1534.9 500.3 L1535.7 514.5 L1536.4 522.1 L1536.8 525.7 L1537.2 528.1 L1537.6 529.3 L1537.8 529.5 L1538.0 529.3 L1538.5 528.1 L1539.1 524.1 L1539.7 517.3 L1540.6 504.3 L1542.0 471.4 L1545.0 386.4 L1546.0 360.0 L1546.9 343.9 L1547.5 335.4 L1548.1 330.3 L1548.4 329.3 L1548.8 328.5 L1549.0 328.6 L1549.2 329.0 L1549.6 330.7 L1550.5 337.4 L1553.4 374.7 L1554.7 387.7 L1555.7 394.4 L1556.4 396.4 L1556.8 396.7 L1557.2 396.4 L1557.8 394.4 L1558.5 390.9 L1559.1 385.9 L1560.1 374.7 L1562.7 341.9 L1563.7 332.0 L1564.4 329.0 L1564.6 328.6 L1564.8 328.5 L1565.2 329.3 L1565.6 331.6 L1566.0 335.4 L1566.7 343.9 L1567.7 364.8 L1571.3 465.8 L1572.8 500.3 L1573.6 514.5 L1574.2 522.1 L1574.9 527.1 L1575.3 528.9 L1575.5 529.3 L1575.7 529.5 L1575.9 529.3 L1576.1 528.9 L1576.6 527.1 L1577.0 524.1 L1577.6 517.3 L1578.4 504.3 L1579.9 471.4 L1582.9 386.4 L1583.9 360.0 L1584.6 347.4 L1585.2 337.9 L1585.8 331.6 L1586.4 328.7 L1586.7 328.5 L1586.9 328.6 L1587.3 329.7 L1587.7 332.0 L1588.3 337.4 L1591.3 374.7 L1592.5 387.7 L1593.6 394.4 L1594.2 396.4 L1594.7 396.7 L1595.1 396.4 L1595.7 394.4 L1596.3 390.9 L1597.0 385.9 L1598.0 374.7 L1600.5 341.9 L1601.6 332.0 L1602.2 329.0 L1602.4 328.6 L1602.6 328.5 L1603.1 329.3 L1603.5 331.6 L1603.9 335.4 L1604.5 343.9 L1605.6 364.8 L1609.2 465.8 L1610.6 500.3 L1611.5 514.5 L1612.1 522.1 L1612.7 527.1 L1613.2 528.9 L1613.4 529.3 L1613.6 529.5 L1613.8 529.3 L1614.0 528.9 L1614.4 527.1 L1614.9 524.1 L1615.5 517.3 L1616.3 504.3 L1617.8 471.4 L1620.7 386.4 L1621.8 360.0 L1622.4 347.4 L1623.1 337.9 L1623.5 333.4 L1624.1 329.3 L1624.5 328.5 L1624.7 328.6 L1625.0 329.0 L1625.4 330.7 L1625.8 333.6 L1626.6 341.9 L1629.2 374.7 L1630.2 385.9 L1630.8 390.9 L1631.5 394.4 L1632.1 396.4 L1632.5 396.7 L1632.9 396.4 L1633.6 394.4 L1634.2 390.9 L1634.8 385.9 L1635.9 374.7 L1638.4 341.9 L1639.3 333.6 L1639.7 330.7 L1640.1 329.0 L1640.3 328.6 L1640.5 328.5 L1640.9 329.3 L1641.4 331.6 L1641.8 335.4 L1642.8 351.3 L1643.9 375.2 L1645.2 410.7" fill="none" stroke="#111" stroke-width="1.35" stroke-linejoin="round"/>
<rect x="1387.60" y="322.80" width="264.40" height="211.60" fill="none" stroke="#000" stroke-width="1.70"/>
<line x1="1397.70" y1="534.40" x2="1397.70" y2="532.40" stroke="#000" stroke-width="1.00"/>
<line x1="1407.80" y1="534.40" x2="1407.80" y2="532.40" stroke="#000" stroke-width="1.00"/>
<line x1="1417.90" y1="534.40" x2="1417.90" y2="530.90" stroke="#000" stroke-width="1.00"/>
<line x1="1428.00" y1="534.40" x2="1428.00" y2="532.40" stroke="#000" stroke-width="1.00"/>
<line x1="1438.10" y1="534.40" x2="1438.10" y2="532.40" stroke="#000" stroke-width="1.00"/>
<line x1="1448.20" y1="534.40" x2="1448.20" y2="532.40" stroke="#000" stroke-width="1.00"/>
<line x1="1458.30" y1="534.40" x2="1458.30" y2="532.40" stroke="#000" stroke-width="1.00"/>
<line x1="1468.40" y1="534.40" x2="1468.40" y2="530.90" stroke="#000" stroke-width="1.00"/>
<line x1="1478.50" y1="534.40" x2="1478.50" y2="532.40" stroke="#000" stroke-width="1.00"/>
<line x1="1488.60" y1="534.40" x2="1488.60" y2="532.40" stroke="#000" stroke-width="1.00"/>
<line x1="1498.70" y1="534.40" x2="1498.70" y2="532.40" stroke="#000" stroke-width="1.00"/>
<line x1="1508.80" y1="534.40" x2="1508.80" y2="532.40" stroke="#000" stroke-width="1.00"/>
<line x1="1518.90" y1="534.40" x2="1518.90" y2="530.90" stroke="#000" stroke-width="1.00"/>
<line x1="1529.00" y1="534.40" x2="1529.00" y2="532.40" stroke="#000" stroke-width="1.00"/>
<line x1="1539.10" y1="534.40" x2="1539.10" y2="532.40" stroke="#000" stroke-width="1.00"/>
<line x1="1549.20" y1="534.40" x2="1549.20" y2="532.40" stroke="#000" stroke-width="1.00"/>
<line x1="1559.30" y1="534.40" x2="1559.30" y2="532.40" stroke="#000" stroke-width="1.00"/>
<line x1="1569.40" y1="534.40" x2="1569.40" y2="530.90" stroke="#000" stroke-width="1.00"/>
<line x1="1579.50" y1="534.40" x2="1579.50" y2="532.40" stroke="#000" stroke-width="1.00"/>
<line x1="1589.60" y1="534.40" x2="1589.60" y2="532.40" stroke="#000" stroke-width="1.00"/>
<line x1="1599.70" y1="534.40" x2="1599.70" y2="532.40" stroke="#000" stroke-width="1.00"/>
<line x1="1609.80" y1="534.40" x2="1609.80" y2="532.40" stroke="#000" stroke-width="1.00"/>
<line x1="1619.90" y1="534.40" x2="1619.90" y2="530.90" stroke="#000" stroke-width="1.00"/>
<line x1="1630.00" y1="534.40" x2="1630.00" y2="532.40" stroke="#000" stroke-width="1.00"/>
<line x1="1640.10" y1="534.40" x2="1640.10" y2="532.40" stroke="#000" stroke-width="1.00"/>
<text transform="translate(1417.90 549.70) scale(1.130 1)" font-family="'Liberation Serif','Times New Roman',serif" font-size="14.90" text-anchor="middle" font-weight="normal" font-style="normal" fill="#000">−20</text>
<text transform="translate(1468.40 549.70) scale(1.130 1)" font-family="'Liberation Serif','Times New Roman',serif" font-size="14.90" text-anchor="middle" font-weight="normal" font-style="normal" fill="#000">−10</text>
<text transform="translate(1518.90 549.70) scale(1.060 1)" font-family="'Liberation Serif','Times New Roman',serif" font-size="14.90" text-anchor="middle" font-weight="normal" font-style="normal" fill="#000">0</text>
<text transform="translate(1569.40 549.70) scale(1.060 1)" font-family="'Liberation Serif','Times New Roman',serif" font-size="14.90" text-anchor="middle" font-weight="normal" font-style="normal" fill="#000">10</text>
<text transform="translate(1619.90 549.70) scale(1.060 1)" font-family="'Liberation Serif','Times New Roman',serif" font-size="14.90" text-anchor="middle" font-weight="normal" font-style="normal" fill="#000">20</text>
<line x1="1387.60" y1="323.90" x2="1391.10" y2="323.90" stroke="#000" stroke-width="1.00"/>
<text transform="translate(1384.40 327.90) scale(1.130 1)" font-family="'Liberation Serif','Times New Roman',serif" font-size="14.90" text-anchor="end" font-weight="normal" font-style="normal" fill="#000">−0.06</text>
<line x1="1387.60" y1="382.76" x2="1391.10" y2="382.76" stroke="#000" stroke-width="1.00"/>
<text transform="translate(1384.40 386.76) scale(1.130 1)" font-family="'Liberation Serif','Times New Roman',serif" font-size="14.90" text-anchor="end" font-weight="normal" font-style="normal" fill="#000">−0.10</text>
<line x1="1387.60" y1="456.33" x2="1391.10" y2="456.33" stroke="#000" stroke-width="1.00"/>
<text transform="translate(1384.40 460.33) scale(1.130 1)" font-family="'Liberation Serif','Times New Roman',serif" font-size="14.90" text-anchor="end" font-weight="normal" font-style="normal" fill="#000">−0.15</text>
<line x1="1387.60" y1="529.90" x2="1391.10" y2="529.90" stroke="#000" stroke-width="1.00"/>
<text transform="translate(1384.40 533.90) scale(1.130 1)" font-family="'Liberation Serif','Times New Roman',serif" font-size="14.90" text-anchor="end" font-weight="normal" font-style="normal" fill="#000">−0.20</text>
<text transform="translate(1518.60 564.40) scale(0.950 1)" font-family="'Liberation Sans',Arial,sans-serif" font-size="14.00" text-anchor="middle" font-weight="normal" font-style="normal" fill="#111">z</text>
<path d="M1720.4 348.3 L1722.9 337.4 L1724.4 331.7 L1725.7 327.9 L1726.3 326.7 L1726.7 326.1 L1727.4 325.7 L1727.8 325.8 L1728.4 326.5 L1728.8 327.4 L1729.9 331.2 L1731.0 337.6 L1731.8 344.6 L1732.6 353.3 L1734.5 378.9 L1736.2 407.3 L1739.8 473.2 L1741.7 502.2 L1742.8 514.2 L1743.6 521.0 L1744.5 525.2 L1744.9 526.2 L1745.3 526.5 L1745.7 526.1 L1746.2 525.0 L1746.6 523.1 L1747.2 519.1 L1748.1 511.4 L1749.1 498.6 L1751.0 468.4 L1755.5 388.0 L1756.7 368.6 L1757.8 355.0 L1758.8 344.0 L1760.1 334.4 L1760.7 331.0 L1761.4 328.5 L1762.0 326.8 L1762.6 325.9 L1763.3 325.7 L1763.7 325.9 L1764.1 326.4 L1765.0 328.1 L1765.8 330.5 L1767.3 335.9 L1771.7 354.6 L1773.2 359.9 L1774.5 363.7 L1775.7 366.6 L1776.8 368.4 L1778.0 369.7 L1779.1 370.1 L1779.7 370.0 L1780.4 369.7 L1781.0 369.2 L1781.8 368.1 L1783.1 365.8 L1784.6 362.0 L1785.9 357.9 L1787.1 353.1 L1791.8 333.6 L1792.8 329.9 L1793.7 327.7 L1794.3 326.5 L1794.7 326.0 L1795.2 325.7 L1795.6 325.7 L1796.2 326.4 L1796.6 327.2 L1797.5 329.9 L1798.5 335.5 L1799.6 343.8 L1800.6 354.7 L1801.7 368.2 L1803.6 398.2 L1807.8 475.2 L1809.7 503.8 L1810.6 513.3 L1811.4 520.4 L1812.3 524.9 L1812.7 526.1 L1813.1 526.5 L1813.5 526.3 L1813.9 525.3 L1814.4 523.6 L1815.0 519.8 L1815.8 512.4 L1816.9 499.8 L1818.8 470.0 L1823.2 389.5 L1824.5 369.9 L1825.8 353.6 L1826.8 342.9 L1828.1 333.7 L1829.2 328.8 L1829.8 327.0 L1830.4 326.0 L1831.1 325.7 L1831.5 325.9 L1831.9 326.3 L1832.7 327.9 L1833.6 330.2 L1835.3 336.4 L1839.7 355.1 L1841.0 359.6 L1842.2 363.4 L1843.5 366.4 L1844.6 368.2 L1845.8 369.6 L1846.9 370.1 L1847.5 370.0 L1848.2 369.8 L1848.8 369.3 L1849.6 368.2 L1850.9 366.0 L1852.4 362.2 L1853.6 358.2 L1854.9 353.4 L1859.8 333.1 L1860.8 329.6 L1861.7 327.4 L1862.3 326.3 L1862.7 325.9 L1863.1 325.7 L1863.6 325.8 L1864.0 326.2 L1864.4 327.0 L1865.3 329.5 L1866.3 334.9 L1867.4 342.9 L1868.4 353.6 L1869.7 369.9 L1871.6 400.3 L1875.8 477.3 L1877.7 505.3 L1878.6 514.5 L1879.4 521.2 L1880.3 525.3 L1880.7 526.3 L1881.1 526.5 L1881.5 526.1 L1881.9 524.9 L1882.4 523.0 L1883.0 518.9 L1883.8 511.1 L1884.9 498.2 L1886.8 467.9 L1891.0 391.0 L1892.3 371.2 L1893.3 357.2 L1894.4 345.7 L1895.5 337.0 L1896.5 330.8 L1897.1 328.4 L1897.8 326.7 L1898.4 325.9 L1898.8 325.7 L1899.3 325.8 L1899.9 326.5 L1900.7 328.2 L1901.6 330.6 L1902.4 333.6 L1907.1 353.1 L1908.3 357.9 L1909.6 362.0 L1911.1 365.8 L1912.4 368.1 L1913.6 369.6 L1914.3 369.9 L1914.9 370.1 L1915.5 370.0 L1916.2 369.7 L1916.8 369.2 L1917.6 368.1 L1918.9 365.7 L1920.4 361.9 L1921.6 357.7 L1922.9 353.0 L1927.6 333.4 L1928.6 329.8 L1929.5 327.6 L1930.1 326.4 L1930.5 325.9 L1930.9 325.7 L1931.4 325.8 L1931.8 326.1 L1932.2 326.8 L1933.0 329.2 L1933.7 332.0 L1934.3 335.7 L1935.4 344.0 L1936.4 355.0 L1937.5 368.6 L1939.4 398.7 L1943.6 475.7 L1945.5 504.1 L1946.3 513.6 L1947.2 520.6 L1948.0 525.0 L1948.5 526.1 L1948.9 526.5 L1949.3 526.2 L1949.7 525.2 L1950.6 521.0 L1951.4 514.2 L1952.5 502.2 L1954.4 473.2 L1958.0 407.3 L1959.7 378.9 L1961.6 353.3 L1962.4 344.6 L1963.2 337.6 L1964.3 331.2 L1965.4 327.4 L1965.8 326.5 L1966.4 325.8 L1966.8 325.7 L1967.5 326.1 L1967.9 326.7 L1968.5 327.9 L1969.8 331.7 L1971.3 337.4 L1973.8 348.3" fill="none" stroke="#111" stroke-width="1.35" stroke-linejoin="round"/>
<rect x="1714.70" y="320.50" width="265.10" height="211.20" fill="none" stroke="#000" stroke-width="1.70"/>
<line x1="1720.40" y1="531.70" x2="1720.40" y2="529.70" stroke="#000" stroke-width="1.00"/>
<line x1="1729.45" y1="531.70" x2="1729.45" y2="529.70" stroke="#000" stroke-width="1.00"/>
<line x1="1738.50" y1="531.70" x2="1738.50" y2="529.70" stroke="#000" stroke-width="1.00"/>
<line x1="1747.55" y1="531.70" x2="1747.55" y2="529.70" stroke="#000" stroke-width="1.00"/>
<line x1="1756.60" y1="531.70" x2="1756.60" y2="528.20" stroke="#000" stroke-width="1.00"/>
<line x1="1765.65" y1="531.70" x2="1765.65" y2="529.70" stroke="#000" stroke-width="1.00"/>
<line x1="1774.70" y1="531.70" x2="1774.70" y2="529.70" stroke="#000" stroke-width="1.00"/>
<line x1="1783.75" y1="531.70" x2="1783.75" y2="529.70" stroke="#000" stroke-width="1.00"/>
<line x1="1792.80" y1="531.70" x2="1792.80" y2="529.70" stroke="#000" stroke-width="1.00"/>
<line x1="1801.85" y1="531.70" x2="1801.85" y2="528.20" stroke="#000" stroke-width="1.00"/>
<line x1="1810.90" y1="531.70" x2="1810.90" y2="529.70" stroke="#000" stroke-width="1.00"/>
<line x1="1819.95" y1="531.70" x2="1819.95" y2="529.70" stroke="#000" stroke-width="1.00"/>
<line x1="1829.00" y1="531.70" x2="1829.00" y2="529.70" stroke="#000" stroke-width="1.00"/>
<line x1="1838.05" y1="531.70" x2="1838.05" y2="529.70" stroke="#000" stroke-width="1.00"/>
<line x1="1847.10" y1="531.70" x2="1847.10" y2="528.20" stroke="#000" stroke-width="1.00"/>
<line x1="1856.15" y1="531.70" x2="1856.15" y2="529.70" stroke="#000" stroke-width="1.00"/>
<line x1="1865.20" y1="531.70" x2="1865.20" y2="529.70" stroke="#000" stroke-width="1.00"/>
<line x1="1874.25" y1="531.70" x2="1874.25" y2="529.70" stroke="#000" stroke-width="1.00"/>
<line x1="1883.30" y1="531.70" x2="1883.30" y2="529.70" stroke="#000" stroke-width="1.00"/>
<line x1="1892.35" y1="531.70" x2="1892.35" y2="528.20" stroke="#000" stroke-width="1.00"/>
<line x1="1901.40" y1="531.70" x2="1901.40" y2="529.70" stroke="#000" stroke-width="1.00"/>
<line x1="1910.45" y1="531.70" x2="1910.45" y2="529.70" stroke="#000" stroke-width="1.00"/>
<line x1="1919.50" y1="531.70" x2="1919.50" y2="529.70" stroke="#000" stroke-width="1.00"/>
<line x1="1928.55" y1="531.70" x2="1928.55" y2="529.70" stroke="#000" stroke-width="1.00"/>
<line x1="1937.60" y1="531.70" x2="1937.60" y2="528.20" stroke="#000" stroke-width="1.00"/>
<line x1="1946.65" y1="531.70" x2="1946.65" y2="529.70" stroke="#000" stroke-width="1.00"/>
<line x1="1955.70" y1="531.70" x2="1955.70" y2="529.70" stroke="#000" stroke-width="1.00"/>
<line x1="1964.75" y1="531.70" x2="1964.75" y2="529.70" stroke="#000" stroke-width="1.00"/>
<line x1="1973.80" y1="531.70" x2="1973.80" y2="529.70" stroke="#000" stroke-width="1.00"/>
<text transform="translate(1756.60 547.00) scale(1.130 1)" font-family="'Liberation Serif','Times New Roman',serif" font-size="14.90" text-anchor="middle" font-weight="normal" font-style="normal" fill="#000">−10</text>
<text transform="translate(1801.85 547.00) scale(1.130 1)" font-family="'Liberation Serif','Times New Roman',serif" font-size="14.90" text-anchor="middle" font-weight="normal" font-style="normal" fill="#000">−5</text>
<text transform="translate(1847.10 547.00) scale(1.060 1)" font-family="'Liberation Serif','Times New Roman',serif" font-size="14.90" text-anchor="middle" font-weight="normal" font-style="normal" fill="#000">0</text>
<text transform="translate(1892.35 547.00) scale(1.060 1)" font-family="'Liberation Serif','Times New Roman',serif" font-size="14.90" text-anchor="middle" font-weight="normal" font-style="normal" fill="#000">5</text>
<text transform="translate(1937.60 547.00) scale(1.060 1)" font-family="'Liberation Serif','Times New Roman',serif" font-size="14.90" text-anchor="middle" font-weight="normal" font-style="normal" fill="#000">10</text>
<line x1="1714.70" y1="387.20" x2="1718.20" y2="387.20" stroke="#000" stroke-width="1.00"/>
<text transform="translate(1711.50 391.20) scale(1.130 1)" font-family="'Liberation Serif','Times New Roman',serif" font-size="14.90" text-anchor="end" font-weight="normal" font-style="normal" fill="#000">−0.4</text>
<line x1="1714.70" y1="456.60" x2="1718.20" y2="456.60" stroke="#000" stroke-width="1.00"/>
<text transform="translate(1711.50 460.60) scale(1.130 1)" font-family="'Liberation Serif','Times New Roman',serif" font-size="14.90" text-anchor="end" font-weight="normal" font-style="normal" fill="#000">−0.8</text>
<line x1="1714.70" y1="526.00" x2="1718.20" y2="526.00" stroke="#000" stroke-width="1.00"/>
<text transform="translate(1711.50 530.00) scale(1.130 1)" font-family="'Liberation Serif','Times New Roman',serif" font-size="14.90" text-anchor="end" font-weight="normal" font-style="normal" fill="#000">−1.2</text>
<text transform="translate(1846.90 560.70) scale(0.950 1)" font-family="'Liberation Sans',Arial,sans-serif" font-size="14.00" text-anchor="middle" font-weight="normal" font-style="normal" fill="#111">z</text>
<text transform="translate(29.4 426.4) rotate(-90)" font-family="'Liberation Sans',Arial,sans-serif" font-size="12" fill="#111">V(z)</text>
<line x1="163.25" y1="915.20" x2="993.50" y2="915.20" stroke="#000" stroke-width="1.50"/>
<line x1="178.96" y1="914.80" x2="178.96" y2="983.29" stroke="#ff0000" stroke-width="2.00" stroke-opacity="0.95"/>
<ellipse cx="178.96" cy="983.29" rx="6.9" ry="4.7" fill="#ff0000"/>
<line x1="221.02" y1="914.80" x2="221.02" y2="981.74" stroke="#ff0000" stroke-width="2.80" stroke-opacity="0.5"/>
<ellipse cx="221.02" cy="981.74" rx="6.9" ry="4.7" fill="#ff0000"/>
<line x1="263.08" y1="914.80" x2="263.08" y2="980.67" stroke="#ff0000" stroke-width="2.00" stroke-opacity="0.95"/>
<ellipse cx="263.08" cy="980.67" rx="6.9" ry="4.7" fill="#ff0000"/>
<line x1="305.14" y1="914.80" x2="305.14" y2="980.67" stroke="#ff0000" stroke-width="2.80" stroke-opacity="0.5"/>
<ellipse cx="305.14" cy="980.67" rx="6.9" ry="4.7" fill="#ff0000"/>
<line x1="347.20" y1="914.80" x2="347.20" y2="979.12" stroke="#ff0000" stroke-width="2.00" stroke-opacity="0.95"/>
<ellipse cx="347.20" cy="979.12" rx="6.9" ry="4.7" fill="#ff0000"/>
<line x1="389.26" y1="914.80" x2="389.26" y2="979.12" stroke="#ff0000" stroke-width="2.80" stroke-opacity="0.5"/>
<ellipse cx="389.26" cy="979.12" rx="6.9" ry="4.7" fill="#ff0000"/>
<line x1="431.32" y1="914.80" x2="431.32" y2="976.03" stroke="#ff0000" stroke-width="2.00" stroke-opacity="0.95"/>
<ellipse cx="431.32" cy="976.03" rx="6.9" ry="4.7" fill="#ff0000"/>
<line x1="473.38" y1="914.80" x2="473.38" y2="972.94" stroke="#ff0000" stroke-width="2.80" stroke-opacity="0.5"/>
<ellipse cx="473.38" cy="972.94" rx="6.9" ry="4.7" fill="#ff0000"/>
<line x1="515.44" y1="914.80" x2="515.44" y2="969.85" stroke="#ff0000" stroke-width="2.00" stroke-opacity="0.95"/>
<ellipse cx="515.44" cy="969.85" rx="6.9" ry="4.7" fill="#ff0000"/>
<line x1="557.50" y1="914.80" x2="557.50" y2="966.28" stroke="#ff0000" stroke-width="2.80" stroke-opacity="0.5"/>
<ellipse cx="557.50" cy="966.28" rx="6.9" ry="4.7" fill="#ff0000"/>
<line x1="599.56" y1="914.80" x2="599.56" y2="1053.32" stroke="#ff0000" stroke-width="2.00" stroke-opacity="0.95"/>
<ellipse cx="599.56" cy="1053.32" rx="6.9" ry="4.7" fill="#ff0000"/>
<line x1="641.62" y1="914.80" x2="641.62" y2="1033.70" stroke="#ff0000" stroke-width="2.80" stroke-opacity="0.5"/>
<ellipse cx="641.62" cy="1033.70" rx="6.9" ry="4.7" fill="#ff0000"/>
<line x1="725.74" y1="914.80" x2="725.74" y2="835.49" stroke="#0000ff" stroke-width="2.00" stroke-opacity="0.95"/>
<ellipse cx="725.74" cy="835.49" rx="6.9" ry="4.7" fill="#0000ff"/>
<line x1="809.86" y1="914.80" x2="809.86" y2="865.93" stroke="#0000ff" stroke-width="2.80" stroke-opacity="0.5"/>
<ellipse cx="809.86" cy="865.93" rx="6.9" ry="4.7" fill="#0000ff"/>
<line x1="851.92" y1="914.80" x2="851.92" y2="824.20" stroke="#0000ff" stroke-width="2.00" stroke-opacity="0.95"/>
<ellipse cx="851.92" cy="824.20" rx="6.9" ry="4.7" fill="#0000ff"/>
<line x1="893.98" y1="914.80" x2="893.98" y2="843.82" stroke="#0000ff" stroke-width="2.80" stroke-opacity="0.5"/>
<ellipse cx="893.98" cy="843.82" rx="6.9" ry="4.7" fill="#0000ff"/>
<line x1="936.04" y1="914.80" x2="936.04" y2="872.11" stroke="#0000ff" stroke-width="2.00" stroke-opacity="0.95"/>
<ellipse cx="936.04" cy="872.11" rx="6.9" ry="4.7" fill="#0000ff"/>
<line x1="683.68" y1="914.80" x2="683.68" y2="677.70" stroke="#0000ff" stroke-width="2.40" stroke-opacity="0.6"/>
<line x1="160.30" y1="677.70" x2="995.45" y2="677.70" stroke="#000" stroke-width="3.60"/>
<line x1="160.30" y1="1153.30" x2="995.45" y2="1153.30" stroke="#000" stroke-width="2.40"/>
<line x1="163.25" y1="675.90" x2="163.25" y2="1154.50" stroke="#000" stroke-width="5.90"/>
<line x1="993.50" y1="675.90" x2="993.50" y2="1154.50" stroke="#000" stroke-width="3.90"/>
<line x1="178.96" y1="1152.30" x2="178.96" y2="1150.10" stroke="#000" stroke-width="2.20"/>
<line x1="178.96" y1="679.20" x2="178.96" y2="681.40" stroke="#000" stroke-width="2.20"/>
<line x1="221.02" y1="1152.30" x2="221.02" y2="1150.10" stroke="#000" stroke-width="2.20"/>
<line x1="221.02" y1="679.20" x2="221.02" y2="681.40" stroke="#000" stroke-width="2.20"/>
<line x1="263.08" y1="1152.30" x2="263.08" y2="1150.10" stroke="#000" stroke-width="2.20"/>
<line x1="263.08" y1="679.20" x2="263.08" y2="681.40" stroke="#000" stroke-width="2.20"/>
<line x1="305.14" y1="1152.30" x2="305.14" y2="1148.30" stroke="#000" stroke-width="2.20"/>
<line x1="305.14" y1="679.20" x2="305.14" y2="681.40" stroke="#000" stroke-width="2.20"/>
<line x1="347.20" y1="1152.30" x2="347.20" y2="1150.10" stroke="#000" stroke-width="2.20"/>
<line x1="347.20" y1="679.20" x2="347.20" y2="681.40" stroke="#000" stroke-width="2.20"/>
<line x1="389.26" y1="1152.30" x2="389.26" y2="1150.10" stroke="#000" stroke-width="2.20"/>
<line x1="389.26" y1="679.20" x2="389.26" y2="681.40" stroke="#000" stroke-width="2.20"/>
<line x1="431.32" y1="1152.30" x2="431.32" y2="1150.10" stroke="#000" stroke-width="2.20"/>
<line x1="431.32" y1="679.20" x2="431.32" y2="681.40" stroke="#000" stroke-width="2.20"/>
<line x1="473.38" y1="1152.30" x2="473.38" y2="1148.30" stroke="#000" stroke-width="2.20"/>
<line x1="473.38" y1="679.20" x2="473.38" y2="681.40" stroke="#000" stroke-width="2.20"/>
<line x1="515.44" y1="1152.30" x2="515.44" y2="1150.10" stroke="#000" stroke-width="2.20"/>
<line x1="515.44" y1="679.20" x2="515.44" y2="681.40" stroke="#000" stroke-width="2.20"/>
<line x1="557.50" y1="1152.30" x2="557.50" y2="1150.10" stroke="#000" stroke-width="2.20"/>
<line x1="557.50" y1="679.20" x2="557.50" y2="681.40" stroke="#000" stroke-width="2.20"/>
<line x1="599.56" y1="1152.30" x2="599.56" y2="1150.10" stroke="#000" stroke-width="2.20"/>
<line x1="599.56" y1="679.20" x2="599.56" y2="681.40" stroke="#000" stroke-width="2.20"/>
<line x1="641.62" y1="1152.30" x2="641.62" y2="1148.30" stroke="#000" stroke-width="2.20"/>
<line x1="641.62" y1="679.20" x2="641.62" y2="681.40" stroke="#000" stroke-width="2.20"/>
<line x1="683.68" y1="1152.30" x2="683.68" y2="1150.10" stroke="#000" stroke-width="2.20"/>
<line x1="683.68" y1="679.20" x2="683.68" y2="681.40" stroke="#000" stroke-width="2.20"/>
<line x1="725.74" y1="1152.30" x2="725.74" y2="1150.10" stroke="#000" stroke-width="2.20"/>
<line x1="725.74" y1="679.20" x2="725.74" y2="681.40" stroke="#000" stroke-width="2.20"/>
<line x1="767.80" y1="1152.30" x2="767.80" y2="1150.10" stroke="#000" stroke-width="2.20"/>
<line x1="767.80" y1="679.20" x2="767.80" y2="681.40" stroke="#000" stroke-width="2.20"/>
<line x1="809.86" y1="1152.30" x2="809.86" y2="1148.30" stroke="#000" stroke-width="2.20"/>
<line x1="809.86" y1="679.20" x2="809.86" y2="681.40" stroke="#000" stroke-width="2.20"/>
<line x1="851.92" y1="1152.30" x2="851.92" y2="1150.10" stroke="#000" stroke-width="2.20"/>
<line x1="851.92" y1="679.20" x2="851.92" y2="681.40" stroke="#000" stroke-width="2.20"/>
<line x1="893.98" y1="1152.30" x2="893.98" y2="1150.10" stroke="#000" stroke-width="2.20"/>
<line x1="893.98" y1="679.20" x2="893.98" y2="681.40" stroke="#000" stroke-width="2.20"/>
<line x1="936.04" y1="1152.30" x2="936.04" y2="1150.10" stroke="#000" stroke-width="2.20"/>
<line x1="936.04" y1="679.20" x2="936.04" y2="681.40" stroke="#000" stroke-width="2.20"/>
<line x1="978.10" y1="1152.30" x2="978.10" y2="1148.30" stroke="#000" stroke-width="2.20"/>
<line x1="978.10" y1="679.20" x2="978.10" y2="681.40" stroke="#000" stroke-width="2.20"/>
<line x1="166.15" y1="1152.60" x2="170.65" y2="1152.60" stroke="#000" stroke-width="2.20"/>
<line x1="991.60" y1="1152.60" x2="987.60" y2="1152.60" stroke="#000" stroke-width="2.20"/>
<line x1="166.15" y1="1128.82" x2="169.15" y2="1128.82" stroke="#000" stroke-width="2.20"/>
<line x1="991.60" y1="1128.82" x2="989.00" y2="1128.82" stroke="#000" stroke-width="2.20"/>
<line x1="166.15" y1="1105.04" x2="169.15" y2="1105.04" stroke="#000" stroke-width="2.20"/>
<line x1="991.60" y1="1105.04" x2="989.00" y2="1105.04" stroke="#000" stroke-width="2.20"/>
<line x1="166.15" y1="1081.26" x2="169.15" y2="1081.26" stroke="#000" stroke-width="2.20"/>
<line x1="991.60" y1="1081.26" x2="989.00" y2="1081.26" stroke="#000" stroke-width="2.20"/>
<line x1="166.15" y1="1057.48" x2="169.15" y2="1057.48" stroke="#000" stroke-width="2.20"/>
<line x1="991.60" y1="1057.48" x2="989.00" y2="1057.48" stroke="#000" stroke-width="2.20"/>
<line x1="166.15" y1="1033.70" x2="170.65" y2="1033.70" stroke="#000" stroke-width="2.20"/>
<line x1="991.60" y1="1033.70" x2="987.60" y2="1033.70" stroke="#000" stroke-width="2.20"/>
<line x1="166.15" y1="1009.92" x2="169.15" y2="1009.92" stroke="#000" stroke-width="2.20"/>
<line x1="991.60" y1="1009.92" x2="989.00" y2="1009.92" stroke="#000" stroke-width="2.20"/>
<line x1="166.15" y1="986.14" x2="169.15" y2="986.14" stroke="#000" stroke-width="2.20"/>
<line x1="991.60" y1="986.14" x2="989.00" y2="986.14" stroke="#000" stroke-width="2.20"/>
<line x1="166.15" y1="962.36" x2="169.15" y2="962.36" stroke="#000" stroke-width="2.20"/>
<line x1="991.60" y1="962.36" x2="989.00" y2="962.36" stroke="#000" stroke-width="2.20"/>
<line x1="166.15" y1="938.58" x2="169.15" y2="938.58" stroke="#000" stroke-width="2.20"/>
<line x1="991.60" y1="938.58" x2="989.00" y2="938.58" stroke="#000" stroke-width="2.20"/>
<line x1="166.15" y1="914.80" x2="170.65" y2="914.80" stroke="#000" stroke-width="2.20"/>
<line x1="991.60" y1="914.80" x2="987.60" y2="914.80" stroke="#000" stroke-width="2.20"/>
<line x1="166.15" y1="891.02" x2="169.15" y2="891.02" stroke="#000" stroke-width="2.20"/>
<line x1="991.60" y1="891.02" x2="989.00" y2="891.02" stroke="#000" stroke-width="2.20"/>
<line x1="166.15" y1="867.24" x2="169.15" y2="867.24" stroke="#000" stroke-width="2.20"/>
<line x1="991.60" y1="867.24" x2="989.00" y2="867.24" stroke="#000" stroke-width="2.20"/>
<line x1="166.15" y1="843.46" x2="169.15" y2="843.46" stroke="#000" stroke-width="2.20"/>
<line x1="991.60" y1="843.46" x2="989.00" y2="843.46" stroke="#000" stroke-width="2.20"/>
<line x1="166.15" y1="819.68" x2="169.15" y2="819.68" stroke="#000" stroke-width="2.20"/>
<line x1="991.60" y1="819.68" x2="989.00" y2="819.68" stroke="#000" stroke-width="2.20"/>
<line x1="166.15" y1="795.90" x2="170.65" y2="795.90" stroke="#000" stroke-width="2.20"/>
<line x1="991.60" y1="795.90" x2="987.60" y2="795.90" stroke="#000" stroke-width="2.20"/>
<line x1="166.15" y1="772.12" x2="169.15" y2="772.12" stroke="#000" stroke-width="2.20"/>
<line x1="991.60" y1="772.12" x2="989.00" y2="772.12" stroke="#000" stroke-width="2.20"/>
<line x1="166.15" y1="748.34" x2="169.15" y2="748.34" stroke="#000" stroke-width="2.20"/>
<line x1="991.60" y1="748.34" x2="989.00" y2="748.34" stroke="#000" stroke-width="2.20"/>
<line x1="166.15" y1="724.56" x2="169.15" y2="724.56" stroke="#000" stroke-width="2.20"/>
<line x1="991.60" y1="724.56" x2="989.00" y2="724.56" stroke="#000" stroke-width="2.20"/>
<line x1="166.15" y1="700.78" x2="169.15" y2="700.78" stroke="#000" stroke-width="2.20"/>
<line x1="991.60" y1="700.78" x2="989.00" y2="700.78" stroke="#000" stroke-width="2.20"/>
<line x1="166.15" y1="677.00" x2="170.65" y2="677.00" stroke="#000" stroke-width="2.20"/>
<line x1="991.60" y1="677.00" x2="987.60" y2="677.00" stroke="#000" stroke-width="2.20"/>
<text transform="translate(303.64 1180.00) scale(1.560 1)" font-family="'Liberation Serif','Times New Roman',serif" font-size="26.80" text-anchor="middle" font-weight="normal" font-style="normal" fill="#000">−0.8</text>
<text transform="translate(471.88 1180.00) scale(1.560 1)" font-family="'Liberation Serif','Times New Roman',serif" font-size="26.80" text-anchor="middle" font-weight="normal" font-style="normal" fill="#000">−0.6</text>
<text transform="translate(640.12 1180.00) scale(1.560 1)" font-family="'Liberation Serif','Times New Roman',serif" font-size="26.80" text-anchor="middle" font-weight="normal" font-style="normal" fill="#000">−0.4</text>
<text transform="translate(808.36 1180.00) scale(1.560 1)" font-family="'Liberation Serif','Times New Roman',serif" font-size="26.80" text-anchor="middle" font-weight="normal" font-style="normal" fill="#000">−0.2</text>
<text transform="translate(976.60 1180.00) scale(1.500 1)" font-family="'Liberation Serif','Times New Roman',serif" font-size="26.80" text-anchor="middle" font-weight="normal" font-style="normal" fill="#000">0.0</text>
<text transform="translate(155.60 685.40) scale(1.500 1)" font-family="'Liberation Serif','Times New Roman',serif" font-size="26.80" text-anchor="end" font-weight="normal" font-style="normal" fill="#000">0.2</text>
<text transform="translate(155.60 804.30) scale(1.500 1)" font-family="'Liberation Serif','Times New Roman',serif" font-size="26.80" text-anchor="end" font-weight="normal" font-style="normal" fill="#000">0.1</text>
<text transform="translate(155.60 923.20) scale(1.500 1)" font-family="'Liberation Serif','Times New Roman',serif" font-size="26.80" text-anchor="end" font-weight="normal" font-style="normal" fill="#000">0.0</text>
<text transform="translate(155.60 1042.10) scale(1.560 1)" font-family="'Liberation Serif','Times New Roman',serif" font-size="26.80" text-anchor="end" font-weight="normal" font-style="normal" fill="#000">−0.1</text>
<text transform="translate(155.60 1161.00) scale(1.560 1)" font-family="'Liberation Serif','Times New Roman',serif" font-size="26.80" text-anchor="end" font-weight="normal" font-style="normal" fill="#000">−0.2</text>
<text transform="translate(576.00 1219.50) scale(1.750 1)" font-family="'Liberation Serif','Times New Roman',serif" font-size="27.00" text-anchor="middle" font-weight="normal" font-style="italic" fill="#000">β</text>
<rect x="234.9" y="719.3" width="16.3" height="11.6" fill="#0000ff"/>
<text transform="translate(268.00 731.50) scale(1.520 1)" font-family="'Liberation Serif','Times New Roman',serif" font-size="24.60" text-anchor="start" font-weight="bold" font-style="normal" fill="#000">T &gt; 0</text>
<rect x="228.5" y="1077.9" width="16.3" height="11.3" fill="#ff0000"/>
<text transform="translate(261.30 1089.80) scale(1.520 1)" font-family="'Liberation Serif','Times New Roman',serif" font-size="24.60" text-anchor="start" font-weight="bold" font-style="normal" fill="#000">T &lt; 0</text>
<text transform="translate(520.70 636.60) scale(0.900 1)" font-family="'Liberation Sans',Arial,sans-serif" font-size="24.30" text-anchor="middle" font-weight="normal" font-style="normal" fill="#111">(g)</text>
<text transform="translate(54.6 943) rotate(-90) scale(1.09 1.5)" font-family="'Liberation Serif','Times New Roman',serif" font-size="26" fill="#111">T [J <tspan font-style="italic">K</tspan><tspan font-style="italic" font-size="17" dy="4">B</tspan><tspan font-size="17" dx="-10" dy="-15">−1</tspan><tspan dy="11"> ]</tspan></text>
<path d="M1179.5 682.9 L1218.5 690.6 L1260.1 698.2 L1301.7 705.3 L1343.3 711.8 L1387.5 718.3 L1431.7 724.2 L1475.9 729.7 L1522.7 735.0 L1572.1 740.2 L1621.5 744.9 L1673.5 749.4 L1725.5 753.5 L1780.1 757.4 L1837.3 761.1 L1897.1 764.6 L1959.5 767.9 L1959.50 794.70 L1179.50 794.70 Z" fill="#e9d9e3" stroke="none"/>
<path d="M1179.5 1149.0 L1195.1 1133.3 L1202.9 1125.7 L1213.3 1115.9 L1231.5 1099.4 L1249.7 1083.7 L1267.9 1068.9 L1278.3 1060.7 L1288.7 1052.8 L1306.9 1039.5 L1317.3 1032.3 L1327.7 1025.2 L1338.1 1018.4 L1348.5 1011.7 L1358.9 1005.3 L1369.3 999.0 L1390.1 987.0 L1410.9 975.8 L1431.7 965.2 L1442.1 960.1 L1455.1 954.0 L1475.9 944.7 L1499.3 934.8 L1522.7 925.6 L1535.7 920.8 L1548.7 916.1 L1572.1 908.2 L1598.1 899.9 L1624.1 892.3 L1650.1 885.2 L1676.1 878.6 L1704.7 871.9 L1733.3 865.8 L1761.9 860.1 L1793.1 854.5 L1824.3 849.3 L1855.5 844.6 L1889.3 839.9 L1923.1 835.7 L1959.5 831.6 L1959.50 794.70 L1179.50 794.70 Z" fill="#d8d7ea" stroke="none"/>
<line x1="1162.40" y1="794.70" x2="1976.50" y2="794.70" stroke="#000" stroke-width="1.40"/>
<path d="M1179.5 682.9 L1218.5 690.6 L1260.1 698.2 L1301.7 705.3 L1343.3 711.8 L1387.5 718.3 L1431.7 724.2 L1475.9 729.7 L1522.7 735.0 L1572.1 740.2 L1621.5 744.9 L1673.5 749.4 L1725.5 753.5 L1780.1 757.4 L1837.3 761.1 L1897.1 764.6 L1959.5 767.9" fill="none" stroke="#0000ff" stroke-width="2.7"/>
<path d="M1179.5 1149.0 L1195.1 1133.3 L1202.9 1125.7 L1213.3 1115.9 L1231.5 1099.4 L1249.7 1083.7 L1267.9 1068.9 L1278.3 1060.7 L1288.7 1052.8 L1306.9 1039.5 L1317.3 1032.3 L1327.7 1025.2 L1338.1 1018.4 L1348.5 1011.7 L1358.9 1005.3 L1369.3 999.0 L1390.1 987.0 L1410.9 975.8 L1431.7 965.2 L1442.1 960.1 L1455.1 954.0 L1475.9 944.7 L1499.3 934.8 L1522.7 925.6 L1535.7 920.8 L1548.7 916.1 L1572.1 908.2 L1598.1 899.9 L1624.1 892.3 L1650.1 885.2 L1676.1 878.6 L1704.7 871.9 L1733.3 865.8 L1761.9 860.1 L1793.1 854.5 L1824.3 849.3 L1855.5 844.6 L1889.3 839.9 L1923.1 835.7 L1959.5 831.6" fill="none" stroke="#ff0000" stroke-width="2.7"/>
<rect x="1162.40" y="671.70" width="814.10" height="487.10" fill="none" stroke="#000" stroke-width="3.20"/>
<line x1="1179.50" y1="1157.30" x2="1179.50" y2="1154.80" stroke="#000" stroke-width="2.20"/>
<line x1="1179.50" y1="673.20" x2="1179.50" y2="675.70" stroke="#000" stroke-width="2.20"/>
<line x1="1205.50" y1="1157.30" x2="1205.50" y2="1154.80" stroke="#000" stroke-width="2.20"/>
<line x1="1205.50" y1="673.20" x2="1205.50" y2="675.70" stroke="#000" stroke-width="2.20"/>
<line x1="1231.50" y1="1157.30" x2="1231.50" y2="1152.80" stroke="#000" stroke-width="2.20"/>
<line x1="1231.50" y1="673.20" x2="1231.50" y2="677.70" stroke="#000" stroke-width="2.20"/>
<line x1="1257.50" y1="1157.30" x2="1257.50" y2="1154.80" stroke="#000" stroke-width="2.20"/>
<line x1="1257.50" y1="673.20" x2="1257.50" y2="675.70" stroke="#000" stroke-width="2.20"/>
<line x1="1283.50" y1="1157.30" x2="1283.50" y2="1154.80" stroke="#000" stroke-width="2.20"/>
<line x1="1283.50" y1="673.20" x2="1283.50" y2="675.70" stroke="#000" stroke-width="2.20"/>
<line x1="1309.50" y1="1157.30" x2="1309.50" y2="1154.80" stroke="#000" stroke-width="2.20"/>
<line x1="1309.50" y1="673.20" x2="1309.50" y2="675.70" stroke="#000" stroke-width="2.20"/>
<line x1="1335.50" y1="1157.30" x2="1335.50" y2="1152.80" stroke="#000" stroke-width="2.20"/>
<line x1="1335.50" y1="673.20" x2="1335.50" y2="677.70" stroke="#000" stroke-width="2.20"/>
<line x1="1361.50" y1="1157.30" x2="1361.50" y2="1154.80" stroke="#000" stroke-width="2.20"/>
<line x1="1361.50" y1="673.20" x2="1361.50" y2="675.70" stroke="#000" stroke-width="2.20"/>
<line x1="1387.50" y1="1157.30" x2="1387.50" y2="1154.80" stroke="#000" stroke-width="2.20"/>
<line x1="1387.50" y1="673.20" x2="1387.50" y2="675.70" stroke="#000" stroke-width="2.20"/>
<line x1="1413.50" y1="1157.30" x2="1413.50" y2="1154.80" stroke="#000" stroke-width="2.20"/>
<line x1="1413.50" y1="673.20" x2="1413.50" y2="675.70" stroke="#000" stroke-width="2.20"/>
<line x1="1439.50" y1="1157.30" x2="1439.50" y2="1152.80" stroke="#000" stroke-width="2.20"/>
<line x1="1439.50" y1="673.20" x2="1439.50" y2="677.70" stroke="#000" stroke-width="2.20"/>
<line x1="1465.50" y1="1157.30" x2="1465.50" y2="1154.80" stroke="#000" stroke-width="2.20"/>
<line x1="1465.50" y1="673.20" x2="1465.50" y2="675.70" stroke="#000" stroke-width="2.20"/>
<line x1="1491.50" y1="1157.30" x2="1491.50" y2="1154.80" stroke="#000" stroke-width="2.20"/>
<line x1="1491.50" y1="673.20" x2="1491.50" y2="675.70" stroke="#000" stroke-width="2.20"/>
<line x1="1517.50" y1="1157.30" x2="1517.50" y2="1154.80" stroke="#000" stroke-width="2.20"/>
<line x1="1517.50" y1="673.20" x2="1517.50" y2="675.70" stroke="#000" stroke-width="2.20"/>
<line x1="1543.50" y1="1157.30" x2="1543.50" y2="1152.80" stroke="#000" stroke-width="2.20"/>
<line x1="1543.50" y1="673.20" x2="1543.50" y2="677.70" stroke="#000" stroke-width="2.20"/>
<line x1="1569.50" y1="1157.30" x2="1569.50" y2="1154.80" stroke="#000" stroke-width="2.20"/>
<line x1="1569.50" y1="673.20" x2="1569.50" y2="675.70" stroke="#000" stroke-width="2.20"/>
<line x1="1595.50" y1="1157.30" x2="1595.50" y2="1154.80" stroke="#000" stroke-width="2.20"/>
<line x1="1595.50" y1="673.20" x2="1595.50" y2="675.70" stroke="#000" stroke-width="2.20"/>
<line x1="1621.50" y1="1157.30" x2="1621.50" y2="1154.80" stroke="#000" stroke-width="2.20"/>
<line x1="1621.50" y1="673.20" x2="1621.50" y2="675.70" stroke="#000" stroke-width="2.20"/>
<line x1="1647.50" y1="1157.30" x2="1647.50" y2="1152.80" stroke="#000" stroke-width="2.20"/>
<line x1="1647.50" y1="673.20" x2="1647.50" y2="677.70" stroke="#000" stroke-width="2.20"/>
<line x1="1673.50" y1="1157.30" x2="1673.50" y2="1154.80" stroke="#000" stroke-width="2.20"/>
<line x1="1673.50" y1="673.20" x2="1673.50" y2="675.70" stroke="#000" stroke-width="2.20"/>
<line x1="1699.50" y1="1157.30" x2="1699.50" y2="1154.80" stroke="#000" stroke-width="2.20"/>
<line x1="1699.50" y1="673.20" x2="1699.50" y2="675.70" stroke="#000" stroke-width="2.20"/>
<line x1="1725.50" y1="1157.30" x2="1725.50" y2="1154.80" stroke="#000" stroke-width="2.20"/>
<line x1="1725.50" y1="673.20" x2="1725.50" y2="675.70" stroke="#000" stroke-width="2.20"/>
<line x1="1751.50" y1="1157.30" x2="1751.50" y2="1152.80" stroke="#000" stroke-width="2.20"/>
<line x1="1751.50" y1="673.20" x2="1751.50" y2="677.70" stroke="#000" stroke-width="2.20"/>
<line x1="1777.50" y1="1157.30" x2="1777.50" y2="1154.80" stroke="#000" stroke-width="2.20"/>
<line x1="1777.50" y1="673.20" x2="1777.50" y2="675.70" stroke="#000" stroke-width="2.20"/>
<line x1="1803.50" y1="1157.30" x2="1803.50" y2="1154.80" stroke="#000" stroke-width="2.20"/>
<line x1="1803.50" y1="673.20" x2="1803.50" y2="675.70" stroke="#000" stroke-width="2.20"/>
<line x1="1829.50" y1="1157.30" x2="1829.50" y2="1154.80" stroke="#000" stroke-width="2.20"/>
<line x1="1829.50" y1="673.20" x2="1829.50" y2="675.70" stroke="#000" stroke-width="2.20"/>
<line x1="1855.50" y1="1157.30" x2="1855.50" y2="1152.80" stroke="#000" stroke-width="2.20"/>
<line x1="1855.50" y1="673.20" x2="1855.50" y2="677.70" stroke="#000" stroke-width="2.20"/>
<line x1="1881.50" y1="1157.30" x2="1881.50" y2="1154.80" stroke="#000" stroke-width="2.20"/>
<line x1="1881.50" y1="673.20" x2="1881.50" y2="675.70" stroke="#000" stroke-width="2.20"/>
<line x1="1907.50" y1="1157.30" x2="1907.50" y2="1154.80" stroke="#000" stroke-width="2.20"/>
<line x1="1907.50" y1="673.20" x2="1907.50" y2="675.70" stroke="#000" stroke-width="2.20"/>
<line x1="1933.50" y1="1157.30" x2="1933.50" y2="1154.80" stroke="#000" stroke-width="2.20"/>
<line x1="1933.50" y1="673.20" x2="1933.50" y2="675.70" stroke="#000" stroke-width="2.20"/>
<line x1="1959.50" y1="1157.30" x2="1959.50" y2="1152.80" stroke="#000" stroke-width="2.20"/>
<line x1="1959.50" y1="673.20" x2="1959.50" y2="677.70" stroke="#000" stroke-width="2.20"/>
<line x1="1163.90" y1="1152.46" x2="1168.40" y2="1152.46" stroke="#000" stroke-width="2.20"/>
<line x1="1975.00" y1="1152.46" x2="1970.50" y2="1152.46" stroke="#000" stroke-width="2.20"/>
<line x1="1163.90" y1="1130.10" x2="1170.40" y2="1130.10" stroke="#000" stroke-width="2.20"/>
<line x1="1975.00" y1="1130.10" x2="1968.50" y2="1130.10" stroke="#000" stroke-width="2.20"/>
<line x1="1163.90" y1="1107.74" x2="1168.40" y2="1107.74" stroke="#000" stroke-width="2.20"/>
<line x1="1975.00" y1="1107.74" x2="1970.50" y2="1107.74" stroke="#000" stroke-width="2.20"/>
<line x1="1163.90" y1="1085.38" x2="1168.40" y2="1085.38" stroke="#000" stroke-width="2.20"/>
<line x1="1975.00" y1="1085.38" x2="1970.50" y2="1085.38" stroke="#000" stroke-width="2.20"/>
<line x1="1163.90" y1="1063.02" x2="1168.40" y2="1063.02" stroke="#000" stroke-width="2.20"/>
<line x1="1975.00" y1="1063.02" x2="1970.50" y2="1063.02" stroke="#000" stroke-width="2.20"/>
<line x1="1163.90" y1="1040.66" x2="1168.40" y2="1040.66" stroke="#000" stroke-width="2.20"/>
<line x1="1975.00" y1="1040.66" x2="1970.50" y2="1040.66" stroke="#000" stroke-width="2.20"/>
<line x1="1163.90" y1="1018.30" x2="1170.40" y2="1018.30" stroke="#000" stroke-width="2.20"/>
<line x1="1975.00" y1="1018.30" x2="1968.50" y2="1018.30" stroke="#000" stroke-width="2.20"/>
<line x1="1163.90" y1="995.94" x2="1168.40" y2="995.94" stroke="#000" stroke-width="2.20"/>
<line x1="1975.00" y1="995.94" x2="1970.50" y2="995.94" stroke="#000" stroke-width="2.20"/>
<line x1="1163.90" y1="973.58" x2="1168.40" y2="973.58" stroke="#000" stroke-width="2.20"/>
<line x1="1975.00" y1="973.58" x2="1970.50" y2="973.58" stroke="#000" stroke-width="2.20"/>
<line x1="1163.90" y1="951.22" x2="1168.40" y2="951.22" stroke="#000" stroke-width="2.20"/>
<line x1="1975.00" y1="951.22" x2="1970.50" y2="951.22" stroke="#000" stroke-width="2.20"/>
<line x1="1163.90" y1="928.86" x2="1168.40" y2="928.86" stroke="#000" stroke-width="2.20"/>
<line x1="1975.00" y1="928.86" x2="1970.50" y2="928.86" stroke="#000" stroke-width="2.20"/>
<line x1="1163.90" y1="906.50" x2="1170.40" y2="906.50" stroke="#000" stroke-width="2.20"/>
<line x1="1975.00" y1="906.50" x2="1968.50" y2="906.50" stroke="#000" stroke-width="2.20"/>
<line x1="1163.90" y1="884.14" x2="1168.40" y2="884.14" stroke="#000" stroke-width="2.20"/>
<line x1="1975.00" y1="884.14" x2="1970.50" y2="884.14" stroke="#000" stroke-width="2.20"/>
<line x1="1163.90" y1="861.78" x2="1168.40" y2="861.78" stroke="#000" stroke-width="2.20"/>
<line x1="1975.00" y1="861.78" x2="1970.50" y2="861.78" stroke="#000" stroke-width="2.20"/>
<line x1="1163.90" y1="839.42" x2="1168.40" y2="839.42" stroke="#000" stroke-width="2.20"/>
<line x1="1975.00" y1="839.42" x2="1970.50" y2="839.42" stroke="#000" stroke-width="2.20"/>
<line x1="1163.90" y1="817.06" x2="1168.40" y2="817.06" stroke="#000" stroke-width="2.20"/>
<line x1="1975.00" y1="817.06" x2="1970.50" y2="817.06" stroke="#000" stroke-width="2.20"/>
<line x1="1163.90" y1="794.70" x2="1170.40" y2="794.70" stroke="#000" stroke-width="2.20"/>
<line x1="1975.00" y1="794.70" x2="1968.50" y2="794.70" stroke="#000" stroke-width="2.20"/>
<line x1="1163.90" y1="772.34" x2="1168.40" y2="772.34" stroke="#000" stroke-width="2.20"/>
<line x1="1975.00" y1="772.34" x2="1970.50" y2="772.34" stroke="#000" stroke-width="2.20"/>
<line x1="1163.90" y1="749.98" x2="1168.40" y2="749.98" stroke="#000" stroke-width="2.20"/>
<line x1="1975.00" y1="749.98" x2="1970.50" y2="749.98" stroke="#000" stroke-width="2.20"/>
<line x1="1163.90" y1="727.62" x2="1168.40" y2="727.62" stroke="#000" stroke-width="2.20"/>
<line x1="1975.00" y1="727.62" x2="1970.50" y2="727.62" stroke="#000" stroke-width="2.20"/>
<line x1="1163.90" y1="705.26" x2="1168.40" y2="705.26" stroke="#000" stroke-width="2.20"/>
<line x1="1975.00" y1="705.26" x2="1970.50" y2="705.26" stroke="#000" stroke-width="2.20"/>
<line x1="1163.90" y1="682.90" x2="1170.40" y2="682.90" stroke="#000" stroke-width="2.20"/>
<line x1="1975.00" y1="682.90" x2="1968.50" y2="682.90" stroke="#000" stroke-width="2.20"/>
<text transform="translate(1230.00 1184.70) scale(1.500 1)" font-family="'Liberation Serif','Times New Roman',serif" font-size="25.00" text-anchor="middle" font-weight="normal" font-style="normal" fill="#000">−1.4</text>
<text transform="translate(1334.00 1184.70) scale(1.500 1)" font-family="'Liberation Serif','Times New Roman',serif" font-size="25.00" text-anchor="middle" font-weight="normal" font-style="normal" fill="#000">−1.2</text>
<text transform="translate(1438.00 1184.70) scale(1.500 1)" font-family="'Liberation Serif','Times New Roman',serif" font-size="25.00" text-anchor="middle" font-weight="normal" font-style="normal" fill="#000">−1.0</text>
<text transform="translate(1542.00 1184.70) scale(1.500 1)" font-family="'Liberation Serif','Times New Roman',serif" font-size="25.00" text-anchor="middle" font-weight="normal" font-style="normal" fill="#000">−0.8</text>
<text transform="translate(1646.00 1184.70) scale(1.500 1)" font-family="'Liberation Serif','Times New Roman',serif" font-size="25.00" text-anchor="middle" font-weight="normal" font-style="normal" fill="#000">−0.6</text>
<text transform="translate(1750.00 1184.70) scale(1.500 1)" font-family="'Liberation Serif','Times New Roman',serif" font-size="25.00" text-anchor="middle" font-weight="normal" font-style="normal" fill="#000">−0.4</text>
<text transform="translate(1854.00 1184.70) scale(1.500 1)" font-family="'Liberation Serif','Times New Roman',serif" font-size="25.00" text-anchor="middle" font-weight="normal" font-style="normal" fill="#000">−0.2</text>
<text transform="translate(1958.00 1184.70) scale(1.400 1)" font-family="'Liberation Serif','Times New Roman',serif" font-size="25.00" text-anchor="middle" font-weight="normal" font-style="normal" fill="#000">0.0</text>
<text transform="translate(1155.50 690.90) scale(1.400 1)" font-family="'Liberation Serif','Times New Roman',serif" font-size="25.00" text-anchor="end" font-weight="normal" font-style="normal" fill="#000">0.5</text>
<text transform="translate(1155.50 802.70) scale(1.400 1)" font-family="'Liberation Serif','Times New Roman',serif" font-size="25.00" text-anchor="end" font-weight="normal" font-style="normal" fill="#000">0.0</text>
<text transform="translate(1155.50 914.50) scale(1.500 1)" font-family="'Liberation Serif','Times New Roman',serif" font-size="25.00" text-anchor="end" font-weight="normal" font-style="normal" fill="#000">−0.5</text>
<text transform="translate(1155.50 1026.30) scale(1.500 1)" font-family="'Liberation Serif','Times New Roman',serif" font-size="25.00" text-anchor="end" font-weight="normal" font-style="normal" fill="#000">−1.0</text>
<text transform="translate(1155.50 1138.10) scale(1.500 1)" font-family="'Liberation Serif','Times New Roman',serif" font-size="25.00" text-anchor="end" font-weight="normal" font-style="normal" fill="#000">−1.5</text>
<text transform="translate(1563.00 1220.50) scale(1.600 1)" font-family="'Liberation Serif','Times New Roman',serif" font-size="27.00" text-anchor="middle" font-weight="normal" font-style="italic" fill="#000">β</text>
<rect x="1764.9" y="692.1" width="15.7" height="11.4" fill="#ff0000"/>
<text transform="translate(1795.50 703.50) scale(1.340 1)" font-family="'Liberation Serif','Times New Roman',serif" font-size="23.10" text-anchor="start" font-weight="bold" font-style="normal" fill="#000">BMF</text>
<rect x="1764.9" y="733.9" width="15.7" height="11.7" fill="#0000ff"/>
<text transform="translate(1795.50 745.60) scale(1.340 1)" font-family="'Liberation Serif','Times New Roman',serif" font-size="23.10" text-anchor="start" font-weight="bold" font-style="normal" fill="#000">MF</text>
<text transform="translate(1555.60 632.00) scale(0.920 1)" font-family="'Liberation Sans',Arial,sans-serif" font-size="23.80" text-anchor="middle" font-weight="normal" font-style="normal" fill="#111">(h)</text>
<text transform="translate(1071.2 941.5) rotate(-90) scale(0.86 1.0)" font-family="'Liberation Serif','Times New Roman',serif" font-size="24" fill="#111"><tspan font-style="italic">g</tspan><tspan font-size="14" dy="3">1</tspan><tspan dy="-3">(z),&#160;&#160;&#160;</tspan><tspan font-style="italic">g</tspan><tspan font-size="14" dy="3">2</tspan><tspan dy="-3">(z)</tspan></text>
<line x1="1197.80" y1="799.50" x2="1192.75" y2="873.02" stroke="#000" stroke-width="3.80"/>
<path d="M1192.20 881.00 L1186.33 871.58 L1199.30 872.47 Z" fill="#000"/>
<line x1="1701.40" y1="800.50" x2="1701.40" y2="814.80" stroke="#000" stroke-width="4.40"/>
<path d="M1701.40 823.30 L1695.10 813.80 L1707.70 813.80 Z" fill="#000"/>
<line x1="1922.50" y1="863.90" x2="1948.32" y2="843.55" stroke="#000" stroke-width="3.40"/>
<path d="M1954.60 838.60 L1951.56 849.28 L1943.51 839.07 Z" fill="#000"/>
<rect x="1187.30" y="886.40" width="189.40" height="60.20" fill="#fff"/>
<path d="M1191.3 914.7 L1193.6 919.5 L1194.3 920.5 L1195.2 921.1 L1197.0 921.3 L1206.5 921.3 L1208.0 921.0 L1208.9 920.4 L1209.4 919.7 L1209.9 918.6 L1210.3 916.9 L1210.8 914.4 L1211.4 909.0 L1213.0 893.0 L1213.5 890.0 L1213.7 889.3 L1213.9 889.0 L1214.1 889.3 L1214.4 890.0 L1214.8 893.0 L1216.6 911.0 L1217.5 916.9 L1218.0 918.6 L1218.7 920.1 L1219.3 920.8 L1220.5 921.2 L1223.2 921.3 L1234.0 921.2 L1235.4 920.9 L1235.8 920.6 L1236.3 920.1 L1236.7 919.2 L1237.2 917.8 L1237.9 914.4 L1238.5 909.0 L1240.1 893.0 L1240.6 890.0 L1240.8 889.3 L1241.0 889.0 L1241.3 889.3 L1241.5 890.0 L1241.9 893.0 L1243.5 909.0 L1244.4 915.7 L1244.9 917.8 L1245.5 919.7 L1246.2 920.6 L1246.7 920.9 L1247.4 921.2 L1249.6 921.3 L1260.9 921.3 L1261.8 921.2 L1262.5 920.9 L1262.9 920.6 L1263.4 920.1 L1263.9 919.2 L1264.3 917.8 L1265.0 914.4 L1265.7 909.0 L1267.2 893.0 L1267.7 890.0 L1267.9 889.3 L1268.1 889.0 L1268.4 889.3 L1268.6 890.0 L1269.0 893.0 L1270.6 909.0 L1271.5 915.7 L1272.0 917.8 L1272.7 919.7 L1273.3 920.6 L1274.2 921.1 L1276.5 921.3 L1288.0 921.3 L1288.9 921.2 L1289.6 920.9 L1290.1 920.6 L1290.5 920.1 L1291.0 919.2 L1291.4 917.8 L1292.1 914.4 L1292.8 909.0 L1294.4 893.0 L1294.8 890.0 L1295.0 889.3 L1295.3 889.0 L1295.5 889.3 L1295.7 890.0 L1296.2 893.0 L1297.7 909.0 L1298.6 915.7 L1299.1 917.8 L1299.8 919.7 L1300.5 920.6 L1301.1 921.0 L1302.0 921.2 L1303.4 921.3 L1315.1 921.3 L1316.0 921.2 L1316.7 920.9 L1317.2 920.6 L1317.6 920.1 L1318.1 919.2 L1318.5 917.8 L1319.2 914.4 L1319.9 909.0 L1321.5 893.0 L1321.9 890.0 L1322.1 889.3 L1322.4 889.0 L1322.6 889.3 L1322.8 890.0 L1323.3 893.0 L1324.9 909.0 L1325.8 915.7 L1326.2 917.8 L1326.7 919.2 L1327.3 920.4 L1328.0 920.9 L1328.9 921.2 L1330.3 921.3 L1342.0 921.3 L1343.6 921.0 L1344.3 920.6 L1344.7 920.1 L1345.2 919.2 L1345.6 917.8 L1346.3 914.4 L1347.0 909.0 L1348.6 893.0 L1349.0 890.0 L1349.3 889.3 L1349.5 889.0 L1349.7 889.3 L1349.9 890.0 L1350.4 893.0 L1352.0 909.0 L1352.6 914.4 L1353.1 916.9 L1353.5 918.6 L1354.0 919.7 L1354.5 920.4 L1355.4 921.0 L1356.9 921.3 L1366.4 921.3 L1368.2 921.1 L1369.1 920.5 L1369.8 919.5 L1372.1 914.7" fill="none" stroke="#0000ff" stroke-width="1.30"/>
<path d="M1191.3 921.7 L1191.8 921.5 L1192.2 921.5 L1194.0 922.6 L1195.4 922.9 L1207.1 923.0 L1208.3 923.2 L1209.2 923.5 L1210.1 924.5 L1210.8 926.1 L1211.4 928.4 L1213.0 935.5 L1213.5 936.8 L1213.9 937.3 L1214.4 936.8 L1214.8 935.5 L1216.4 928.4 L1217.3 925.5 L1217.8 924.5 L1218.4 923.7 L1219.1 923.3 L1220.2 923.1 L1233.8 923.0 L1235.4 923.2 L1236.3 923.5 L1237.2 924.5 L1237.9 926.1 L1238.5 928.4 L1240.1 935.5 L1240.6 936.8 L1241.0 937.3 L1241.5 936.8 L1241.9 935.5 L1243.5 928.4 L1244.4 925.5 L1244.9 924.5 L1245.5 923.7 L1246.2 923.3 L1247.1 923.1 L1260.9 923.0 L1262.5 923.2 L1263.4 923.5 L1264.3 924.5 L1265.0 926.1 L1265.7 928.4 L1267.2 935.5 L1267.7 936.8 L1268.1 937.3 L1268.6 936.8 L1269.0 935.5 L1270.6 928.4 L1271.5 925.5 L1272.0 924.5 L1272.7 923.7 L1273.3 923.3 L1274.0 923.1 L1276.3 923.0 L1288.0 923.0 L1289.6 923.2 L1290.5 923.5 L1291.4 924.5 L1292.1 926.1 L1292.8 928.4 L1294.4 935.5 L1294.8 936.8 L1295.3 937.3 L1295.7 936.8 L1296.2 935.5 L1297.7 928.4 L1298.4 926.1 L1299.1 924.5 L1300.0 923.5 L1301.1 923.1 L1302.7 923.0 L1314.7 923.0 L1316.9 923.2 L1317.6 923.5 L1318.1 923.9 L1319.0 925.5 L1319.9 928.4 L1321.5 935.5 L1321.9 936.8 L1322.4 937.3 L1322.8 936.8 L1323.3 935.5 L1324.9 928.4 L1325.5 926.1 L1326.2 924.5 L1327.1 923.5 L1328.0 923.2 L1329.6 923.0 L1343.4 923.1 L1344.3 923.3 L1345.0 923.7 L1345.6 924.5 L1346.1 925.5 L1347.0 928.4 L1348.6 935.5 L1349.0 936.8 L1349.5 937.3 L1349.9 936.8 L1350.4 935.5 L1352.0 928.4 L1352.6 926.1 L1353.3 924.5 L1354.2 923.5 L1355.1 923.2 L1356.3 923.0 L1368.0 922.9 L1369.4 922.6 L1371.2 921.5 L1371.6 921.5 L1372.1 921.7" fill="none" stroke="#ff0000" stroke-width="1.30"/>
<rect x="1187.30" y="886.40" width="189.40" height="54.30" fill="none" stroke="#444" stroke-width="1.00"/>
<line x1="1194.94" y1="940.70" x2="1194.94" y2="939.70" stroke="#555" stroke-width="0.80"/>
<line x1="1202.17" y1="940.70" x2="1202.17" y2="939.70" stroke="#555" stroke-width="0.80"/>
<line x1="1209.40" y1="940.70" x2="1209.40" y2="939.10" stroke="#555" stroke-width="0.80"/>
<line x1="1216.63" y1="940.70" x2="1216.63" y2="939.70" stroke="#555" stroke-width="0.80"/>
<line x1="1223.86" y1="940.70" x2="1223.86" y2="939.70" stroke="#555" stroke-width="0.80"/>
<line x1="1231.09" y1="940.70" x2="1231.09" y2="939.70" stroke="#555" stroke-width="0.80"/>
<line x1="1238.32" y1="940.70" x2="1238.32" y2="939.70" stroke="#555" stroke-width="0.80"/>
<line x1="1245.55" y1="940.70" x2="1245.55" y2="939.10" stroke="#555" stroke-width="0.80"/>
<line x1="1252.78" y1="940.70" x2="1252.78" y2="939.70" stroke="#555" stroke-width="0.80"/>
<line x1="1260.01" y1="940.70" x2="1260.01" y2="939.70" stroke="#555" stroke-width="0.80"/>
<line x1="1267.24" y1="940.70" x2="1267.24" y2="939.70" stroke="#555" stroke-width="0.80"/>
<line x1="1274.47" y1="940.70" x2="1274.47" y2="939.70" stroke="#555" stroke-width="0.80"/>
<line x1="1281.70" y1="940.70" x2="1281.70" y2="939.10" stroke="#555" stroke-width="0.80"/>
<line x1="1288.93" y1="940.70" x2="1288.93" y2="939.70" stroke="#555" stroke-width="0.80"/>
<line x1="1296.16" y1="940.70" x2="1296.16" y2="939.70" stroke="#555" stroke-width="0.80"/>
<line x1="1303.39" y1="940.70" x2="1303.39" y2="939.70" stroke="#555" stroke-width="0.80"/>
<line x1="1310.62" y1="940.70" x2="1310.62" y2="939.70" stroke="#555" stroke-width="0.80"/>
<line x1="1317.85" y1="940.70" x2="1317.85" y2="939.10" stroke="#555" stroke-width="0.80"/>
<line x1="1325.08" y1="940.70" x2="1325.08" y2="939.70" stroke="#555" stroke-width="0.80"/>
<line x1="1332.31" y1="940.70" x2="1332.31" y2="939.70" stroke="#555" stroke-width="0.80"/>
<line x1="1339.54" y1="940.70" x2="1339.54" y2="939.70" stroke="#555" stroke-width="0.80"/>
<line x1="1346.77" y1="940.70" x2="1346.77" y2="939.70" stroke="#555" stroke-width="0.80"/>
<line x1="1354.00" y1="940.70" x2="1354.00" y2="939.10" stroke="#555" stroke-width="0.80"/>
<line x1="1361.23" y1="940.70" x2="1361.23" y2="939.70" stroke="#555" stroke-width="0.80"/>
<line x1="1368.46" y1="940.70" x2="1368.46" y2="939.70" stroke="#555" stroke-width="0.80"/>
<text transform="translate(1209.40 945.90)" font-family="'Liberation Serif','Times New Roman',serif" font-size="5.60" text-anchor="middle" font-weight="normal" font-style="normal" fill="#555">−20</text>
<text transform="translate(1245.55 945.90)" font-family="'Liberation Serif','Times New Roman',serif" font-size="5.60" text-anchor="middle" font-weight="normal" font-style="normal" fill="#555">−10</text>
<text transform="translate(1281.70 945.90)" font-family="'Liberation Serif','Times New Roman',serif" font-size="5.60" text-anchor="middle" font-weight="normal" font-style="normal" fill="#555">0</text>
<text transform="translate(1317.85 945.90)" font-family="'Liberation Serif','Times New Roman',serif" font-size="5.60" text-anchor="middle" font-weight="normal" font-style="normal" fill="#555">10</text>
<text transform="translate(1354.00 945.90)" font-family="'Liberation Serif','Times New Roman',serif" font-size="5.60" text-anchor="middle" font-weight="normal" font-style="normal" fill="#555">20</text>
<rect x="1570.20" y="830.50" width="191.20" height="61.00" fill="#fff"/>
<path d="M1573.9 847.6 L1575.0 851.4 L1576.0 853.6 L1577.1 855.5 L1578.5 856.9 L1579.4 857.5 L1580.3 857.9 L1582.6 858.2 L1585.1 858.0 L1586.3 857.7 L1587.2 857.3 L1588.1 856.6 L1589.0 855.5 L1589.9 854.1 L1590.6 852.6 L1592.2 847.6 L1595.2 835.9 L1596.1 833.8 L1596.5 833.4 L1596.8 833.3 L1597.0 833.4 L1597.5 833.8 L1598.4 835.9 L1601.8 849.2 L1602.7 852.0 L1603.6 854.1 L1604.8 855.8 L1606.2 857.1 L1607.8 857.9 L1609.6 858.2 L1612.1 858.1 L1613.2 857.9 L1614.2 857.5 L1615.1 856.9 L1615.8 856.3 L1617.1 854.5 L1618.3 852.0 L1619.2 849.2 L1622.6 835.9 L1623.5 833.8 L1624.0 833.4 L1624.2 833.3 L1624.5 833.4 L1624.9 833.8 L1625.8 835.9 L1629.3 849.2 L1630.2 852.0 L1631.1 854.1 L1632.2 855.8 L1633.4 856.9 L1635.0 857.8 L1636.8 858.2 L1639.3 858.2 L1641.4 857.6 L1643.0 856.6 L1644.4 854.9 L1645.5 852.6 L1646.6 849.2 L1650.1 835.9 L1651.0 833.8 L1651.4 833.4 L1651.7 833.3 L1651.9 833.4 L1652.4 833.8 L1653.3 835.9 L1656.5 848.4 L1657.4 851.4 L1658.3 853.6 L1659.5 855.5 L1660.6 856.8 L1662.2 857.7 L1664.0 858.2 L1666.5 858.2 L1667.7 858.0 L1668.8 857.6 L1670.4 856.6 L1671.8 854.9 L1672.9 852.6 L1674.1 849.2 L1677.5 835.9 L1678.4 833.8 L1678.9 833.4 L1679.1 833.3 L1679.4 833.4 L1679.8 833.8 L1680.7 835.9 L1683.9 848.4 L1684.8 851.4 L1685.8 853.6 L1686.9 855.5 L1688.0 856.8 L1689.4 857.6 L1691.0 858.1 L1692.4 858.2 L1693.8 858.2 L1694.9 858.0 L1696.1 857.7 L1697.0 857.3 L1697.9 856.6 L1699.3 854.9 L1700.4 852.6 L1701.5 849.2 L1705.0 835.9 L1705.9 833.8 L1706.3 833.4 L1706.6 833.3 L1706.8 833.4 L1707.3 833.8 L1708.2 835.9 L1711.4 848.4 L1712.3 851.4 L1713.0 853.1 L1713.9 854.9 L1715.0 856.3 L1716.2 857.3 L1717.8 857.9 L1719.2 858.2 L1720.5 858.2 L1721.9 858.1 L1723.0 857.9 L1724.0 857.5 L1724.9 856.9 L1725.8 856.1 L1726.5 855.2 L1727.6 853.1 L1728.5 850.7 L1729.7 846.8 L1732.2 836.7 L1733.1 834.2 L1733.8 833.4 L1734.3 833.4 L1734.7 833.8 L1735.6 835.9 L1738.6 847.6 L1740.2 852.6 L1740.9 854.1 L1741.8 855.5 L1742.7 856.6 L1743.6 857.3 L1744.5 857.7 L1745.7 858.0 L1748.2 858.2 L1750.5 857.9 L1751.4 857.5 L1752.3 856.9 L1753.7 855.5 L1754.8 853.6 L1755.8 851.4 L1756.9 847.6" fill="none" stroke="#0000ff" stroke-width="1.30"/>
<path d="M1573.9 871.4 L1575.0 868.6 L1576.0 867.0 L1577.1 865.5 L1578.5 864.5 L1580.3 863.8 L1582.6 863.5 L1585.1 863.6 L1587.2 864.2 L1588.1 864.7 L1589.0 865.5 L1589.9 866.6 L1590.6 867.7 L1592.2 871.4 L1595.2 880.1 L1596.1 881.7 L1596.8 882.1 L1597.5 881.7 L1598.4 880.1 L1601.8 870.2 L1602.7 868.2 L1603.6 866.6 L1604.8 865.3 L1606.2 864.3 L1607.8 863.8 L1609.6 863.5 L1612.1 863.6 L1614.2 864.0 L1615.8 864.9 L1617.1 866.3 L1618.3 868.2 L1619.2 870.2 L1622.6 880.1 L1623.5 881.7 L1624.2 882.1 L1624.9 881.7 L1625.8 880.1 L1629.3 870.2 L1630.2 868.2 L1631.1 866.6 L1632.2 865.3 L1633.4 864.5 L1635.0 863.8 L1636.8 863.5 L1639.3 863.6 L1641.4 864.0 L1643.0 864.7 L1644.4 866.0 L1645.5 867.7 L1646.6 870.2 L1650.1 880.1 L1651.0 881.7 L1651.7 882.1 L1652.4 881.7 L1653.3 880.1 L1656.5 870.8 L1657.4 868.6 L1658.3 867.0 L1659.5 865.5 L1660.6 864.6 L1662.2 863.9 L1664.0 863.6 L1666.5 863.5 L1668.8 864.0 L1670.4 864.7 L1671.8 866.0 L1672.9 867.7 L1674.1 870.2 L1677.5 880.1 L1678.4 881.7 L1679.1 882.1 L1679.8 881.7 L1680.7 880.1 L1683.9 870.8 L1684.8 868.6 L1685.8 867.0 L1686.9 865.5 L1688.0 864.6 L1689.4 864.0 L1691.0 863.6 L1693.8 863.5 L1696.1 863.9 L1697.0 864.2 L1697.9 864.7 L1699.3 866.0 L1700.4 867.7 L1701.5 870.2 L1705.0 880.1 L1705.9 881.7 L1706.6 882.1 L1707.3 881.7 L1708.2 880.1 L1711.4 870.8 L1713.0 867.3 L1713.9 866.0 L1715.0 864.9 L1716.2 864.2 L1717.8 863.7 L1720.5 863.5 L1723.0 863.8 L1724.9 864.5 L1725.8 865.1 L1726.5 865.7 L1727.6 867.3 L1728.5 869.1 L1729.7 872.1 L1732.2 879.6 L1733.1 881.4 L1733.8 882.1 L1734.3 882.1 L1734.7 881.7 L1735.6 880.1 L1738.6 871.4 L1740.2 867.7 L1740.9 866.6 L1741.8 865.5 L1742.7 864.7 L1743.6 864.2 L1745.7 863.6 L1748.2 863.5 L1750.5 863.8 L1752.3 864.5 L1753.7 865.5 L1754.8 867.0 L1755.8 868.6 L1756.9 871.4" fill="none" stroke="#ff0000" stroke-width="1.30"/>
<rect x="1570.20" y="830.50" width="191.20" height="54.70" fill="none" stroke="#444" stroke-width="1.00"/>
<line x1="1577.56" y1="885.20" x2="1577.56" y2="884.20" stroke="#555" stroke-width="0.80"/>
<line x1="1584.88" y1="885.20" x2="1584.88" y2="884.20" stroke="#555" stroke-width="0.80"/>
<line x1="1592.20" y1="885.20" x2="1592.20" y2="883.60" stroke="#555" stroke-width="0.80"/>
<line x1="1599.52" y1="885.20" x2="1599.52" y2="884.20" stroke="#555" stroke-width="0.80"/>
<line x1="1606.84" y1="885.20" x2="1606.84" y2="884.20" stroke="#555" stroke-width="0.80"/>
<line x1="1614.16" y1="885.20" x2="1614.16" y2="884.20" stroke="#555" stroke-width="0.80"/>
<line x1="1621.48" y1="885.20" x2="1621.48" y2="884.20" stroke="#555" stroke-width="0.80"/>
<line x1="1628.80" y1="885.20" x2="1628.80" y2="883.60" stroke="#555" stroke-width="0.80"/>
<line x1="1636.12" y1="885.20" x2="1636.12" y2="884.20" stroke="#555" stroke-width="0.80"/>
<line x1="1643.44" y1="885.20" x2="1643.44" y2="884.20" stroke="#555" stroke-width="0.80"/>
<line x1="1650.76" y1="885.20" x2="1650.76" y2="884.20" stroke="#555" stroke-width="0.80"/>
<line x1="1658.08" y1="885.20" x2="1658.08" y2="884.20" stroke="#555" stroke-width="0.80"/>
<line x1="1665.40" y1="885.20" x2="1665.40" y2="883.60" stroke="#555" stroke-width="0.80"/>
<line x1="1672.72" y1="885.20" x2="1672.72" y2="884.20" stroke="#555" stroke-width="0.80"/>
<line x1="1680.04" y1="885.20" x2="1680.04" y2="884.20" stroke="#555" stroke-width="0.80"/>
<line x1="1687.36" y1="885.20" x2="1687.36" y2="884.20" stroke="#555" stroke-width="0.80"/>
<line x1="1694.68" y1="885.20" x2="1694.68" y2="884.20" stroke="#555" stroke-width="0.80"/>
<line x1="1702.00" y1="885.20" x2="1702.00" y2="883.60" stroke="#555" stroke-width="0.80"/>
<line x1="1709.32" y1="885.20" x2="1709.32" y2="884.20" stroke="#555" stroke-width="0.80"/>
<line x1="1716.64" y1="885.20" x2="1716.64" y2="884.20" stroke="#555" stroke-width="0.80"/>
<line x1="1723.96" y1="885.20" x2="1723.96" y2="884.20" stroke="#555" stroke-width="0.80"/>
<line x1="1731.28" y1="885.20" x2="1731.28" y2="884.20" stroke="#555" stroke-width="0.80"/>
<line x1="1738.60" y1="885.20" x2="1738.60" y2="883.60" stroke="#555" stroke-width="0.80"/>
<line x1="1745.92" y1="885.20" x2="1745.92" y2="884.20" stroke="#555" stroke-width="0.80"/>
<line x1="1753.24" y1="885.20" x2="1753.24" y2="884.20" stroke="#555" stroke-width="0.80"/>
<text transform="translate(1592.20 890.40)" font-family="'Liberation Serif','Times New Roman',serif" font-size="5.60" text-anchor="middle" font-weight="normal" font-style="normal" fill="#555">−20</text>
<text transform="translate(1628.80 890.40)" font-family="'Liberation Serif','Times New Roman',serif" font-size="5.60" text-anchor="middle" font-weight="normal" font-style="normal" fill="#555">−10</text>
<text transform="translate(1665.40 890.40)" font-family="'Liberation Serif','Times New Roman',serif" font-size="5.60" text-anchor="middle" font-weight="normal" font-style="normal" fill="#555">0</text>
<text transform="translate(1702.00 890.40)" font-family="'Liberation Serif','Times New Roman',serif" font-size="5.60" text-anchor="middle" font-weight="normal" font-style="normal" fill="#555">10</text>
<text transform="translate(1738.60 890.40)" font-family="'Liberation Serif','Times New Roman',serif" font-size="5.60" text-anchor="middle" font-weight="normal" font-style="normal" fill="#555">20</text>
<rect x="1770.10" y="872.30" width="191.40" height="60.20" fill="#fff"/>
<path d="M1773.5 874.9 L1958.5 874.9" fill="none" stroke="#4444ff" stroke-width="1.40"/>
<path d="M1773.5 924.4 L1958.5 924.4" fill="none" stroke="#ff3333" stroke-width="1.00"/>
<rect x="1770.10" y="872.30" width="191.40" height="54.50" fill="none" stroke="#444" stroke-width="1.00"/>
<line x1="1777.86" y1="926.80" x2="1777.86" y2="925.80" stroke="#555" stroke-width="0.80"/>
<line x1="1785.18" y1="926.80" x2="1785.18" y2="925.80" stroke="#555" stroke-width="0.80"/>
<line x1="1792.50" y1="926.80" x2="1792.50" y2="925.20" stroke="#555" stroke-width="0.80"/>
<line x1="1799.82" y1="926.80" x2="1799.82" y2="925.80" stroke="#555" stroke-width="0.80"/>
<line x1="1807.14" y1="926.80" x2="1807.14" y2="925.80" stroke="#555" stroke-width="0.80"/>
<line x1="1814.46" y1="926.80" x2="1814.46" y2="925.80" stroke="#555" stroke-width="0.80"/>
<line x1="1821.78" y1="926.80" x2="1821.78" y2="925.80" stroke="#555" stroke-width="0.80"/>
<line x1="1829.10" y1="926.80" x2="1829.10" y2="925.20" stroke="#555" stroke-width="0.80"/>
<line x1="1836.42" y1="926.80" x2="1836.42" y2="925.80" stroke="#555" stroke-width="0.80"/>
<line x1="1843.74" y1="926.80" x2="1843.74" y2="925.80" stroke="#555" stroke-width="0.80"/>
<line x1="1851.06" y1="926.80" x2="1851.06" y2="925.80" stroke="#555" stroke-width="0.80"/>
<line x1="1858.38" y1="926.80" x2="1858.38" y2="925.80" stroke="#555" stroke-width="0.80"/>
<line x1="1865.70" y1="926.80" x2="1865.70" y2="925.20" stroke="#555" stroke-width="0.80"/>
<line x1="1873.02" y1="926.80" x2="1873.02" y2="925.80" stroke="#555" stroke-width="0.80"/>
<line x1="1880.34" y1="926.80" x2="1880.34" y2="925.80" stroke="#555" stroke-width="0.80"/>
<line x1="1887.66" y1="926.80" x2="1887.66" y2="925.80" stroke="#555" stroke-width="0.80"/>
<line x1="1894.98" y1="926.80" x2="1894.98" y2="925.80" stroke="#555" stroke-width="0.80"/>
<line x1="1902.30" y1="926.80" x2="1902.30" y2="925.20" stroke="#555" stroke-width="0.80"/>
<line x1="1909.62" y1="926.80" x2="1909.62" y2="925.80" stroke="#555" stroke-width="0.80"/>
<line x1="1916.94" y1="926.80" x2="1916.94" y2="925.80" stroke="#555" stroke-width="0.80"/>
<line x1="1924.26" y1="926.80" x2="1924.26" y2="925.80" stroke="#555" stroke-width="0.80"/>
<line x1="1931.58" y1="926.80" x2="1931.58" y2="925.80" stroke="#555" stroke-width="0.80"/>
<line x1="1938.90" y1="926.80" x2="1938.90" y2="925.20" stroke="#555" stroke-width="0.80"/>
<line x1="1946.22" y1="926.80" x2="1946.22" y2="925.80" stroke="#555" stroke-width="0.80"/>
<line x1="1953.54" y1="926.80" x2="1953.54" y2="925.80" stroke="#555" stroke-width="0.80"/>
<text transform="translate(1792.50 932.00)" font-family="'Liberation Serif','Times New Roman',serif" font-size="5.60" text-anchor="middle" font-weight="normal" font-style="normal" fill="#555">−20</text>
<text transform="translate(1829.10 932.00)" font-family="'Liberation Serif','Times New Roman',serif" font-size="5.60" text-anchor="middle" font-weight="normal" font-style="normal" fill="#555">−10</text>
<text transform="translate(1865.70 932.00)" font-family="'Liberation Serif','Times New Roman',serif" font-size="5.60" text-anchor="middle" font-weight="normal" font-style="normal" fill="#555">0</text>
<text transform="translate(1902.30 932.00)" font-family="'Liberation Serif','Times New Roman',serif" font-size="5.60" text-anchor="middle" font-weight="normal" font-style="normal" fill="#555">10</text>
<text transform="translate(1938.90 932.00)" font-family="'Liberation Serif','Times New Roman',serif" font-size="5.60" text-anchor="middle" font-weight="normal" font-style="normal" fill="#555">20</text>
</svg></body></html>
